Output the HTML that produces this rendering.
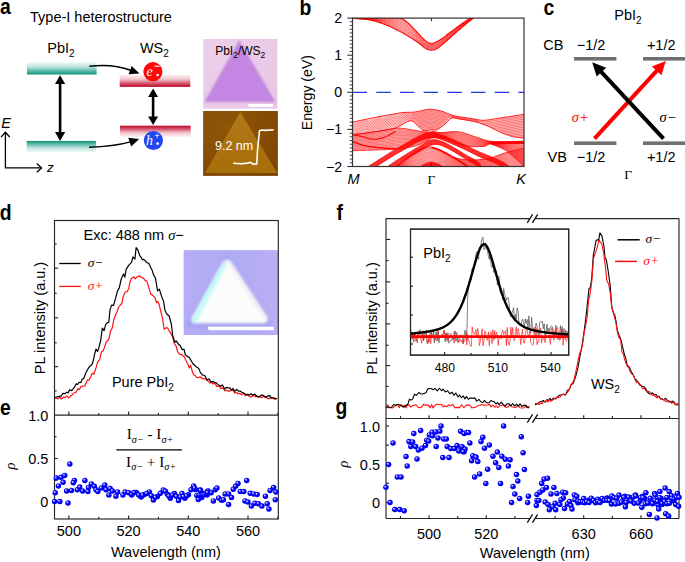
<!DOCTYPE html>
<html><head><meta charset="utf-8"><style>
html,body{margin:0;padding:0;background:#fff;width:685px;height:562px;overflow:hidden}
svg{display:block}
</style></head><body>
<svg width="685" height="562" viewBox="0 0 685 562">
<defs><linearGradient id="tealUp" x1="0" y1="0" x2="0" y2="1"><stop offset="0" stop-color="#eaf7f6"/><stop offset="0.35" stop-color="#c2e7e1"/><stop offset="0.75" stop-color="#4fb4a2"/><stop offset="1" stop-color="#0e8f76"/></linearGradient>
<linearGradient id="tealDn" x1="0" y1="1" x2="0" y2="0"><stop offset="0" stop-color="#eaf7f6"/><stop offset="0.35" stop-color="#c2e7e1"/><stop offset="0.75" stop-color="#4fb4a2"/><stop offset="1" stop-color="#0e8f76"/></linearGradient>
<linearGradient id="redUp" x1="0" y1="0" x2="0" y2="1"><stop offset="0" stop-color="#fdf1f3"/><stop offset="0.35" stop-color="#f2c8cf"/><stop offset="0.72" stop-color="#d4506a"/><stop offset="1" stop-color="#bb0628"/></linearGradient>
<linearGradient id="redDn" x1="0" y1="1" x2="0" y2="0"><stop offset="0" stop-color="#fdf1f3"/><stop offset="0.35" stop-color="#f2c8cf"/><stop offset="0.72" stop-color="#d4506a"/><stop offset="1" stop-color="#bb0628"/></linearGradient>
<filter id="blur1" x="-5%" y="-5%" width="110%" height="110%"><feGaussianBlur stdDeviation="0.7"/></filter>
<filter id="blurP" x="-5%" y="-5%" width="110%" height="110%"><feGaussianBlur stdDeviation="1.1"/></filter>
<filter id="blur2" x="-10%" y="-10%" width="120%" height="120%"><feGaussianBlur stdDeviation="1.6"/></filter>
<clipPath id="clipPink"><rect x="203.1" y="38.8" width="74.5" height="70"/></clipPath>
<clipPath id="clipAfm"><rect x="203.1" y="111" width="74.8" height="64.9"/></clipPath>
<linearGradient id="pinkBg" x1="0" y1="0" x2="1" y2="1"><stop offset="0" stop-color="#ecd0ea"/><stop offset="1" stop-color="#e6c6e4"/></linearGradient>
<radialGradient id="afmBg" cx="0.3" cy="0.3" r="0.9"><stop offset="0" stop-color="#8e5608"/><stop offset="0.6" stop-color="#864c05"/><stop offset="1" stop-color="#7c4403"/></radialGradient>
<linearGradient id="afmTri" x1="0" y1="0" x2="0" y2="1"><stop offset="0" stop-color="#b27814"/><stop offset="1" stop-color="#a66e0e"/></linearGradient>
<clipPath id="clipB"><rect x="352.5" y="18.1" width="171.5" height="148.4"/></clipPath>
<clipPath id="clipDin"><rect x="183.4" y="250.1" width="94.9" height="85.1"/></clipPath>
<linearGradient id="dinBg" x1="0" y1="0" x2="1" y2="0"><stop offset="0" stop-color="#b6aef5"/><stop offset="0.55" stop-color="#b0abf5"/><stop offset="1" stop-color="#bbaef4"/></linearGradient>
<filter id="blurTri" x="-10%" y="-10%" width="120%" height="120%"><feGaussianBlur stdDeviation="2.2"/></filter>
<filter id="blurT2" x="-20%" y="-20%" width="140%" height="140%"><feGaussianBlur stdDeviation="1.4"/></filter>
<radialGradient id="ball" cx="0.5" cy="0.5" r="0.55" fx="0.32" fy="0.3"><stop offset="0" stop-color="#f0f0ff"/><stop offset="0.25" stop-color="#8080ff"/><stop offset="0.5" stop-color="#0000ff"/><stop offset="1" stop-color="#0000e0"/></radialGradient>
<clipPath id="clipE"><rect x="51.5" y="415.1" width="229.8" height="103.9"/></clipPath></defs>
<rect width="685" height="562" fill="#fff"/>
<text x="0" y="0" font-size="21.5" font-weight="bold" font-family='"Liberation Sans", sans-serif' transform="translate(0 13.6) scale(0.9 1)">a</text>
<text x="30.05" y="22.2" font-size="14.5" text-anchor="start" font-weight="normal" font-style="normal" fill="#000" font-family='"Liberation Sans", sans-serif' >Type-I heterostructure</text>
<text x="47.3" y="52.6" font-size="14.5" text-anchor="start" font-weight="normal" font-style="normal" fill="#000" font-family='"Liberation Sans", sans-serif' >PbI<tspan font-size="10" dy="4.4">2</tspan></text>
<text x="139.95" y="52.9" font-size="14.5" text-anchor="start" font-weight="normal" font-style="normal" fill="#000" font-family='"Liberation Sans", sans-serif' >WS<tspan font-size="10" dy="4.4">2</tspan></text>
<rect x="27" y="62.4" width="69.6" height="12.1" fill="url(#tealUp)"/>
<rect x="26.7" y="140.9" width="69.2" height="10.9" fill="url(#tealDn)"/>
<rect x="119.7" y="74.9" width="70.6" height="12" fill="url(#redUp)"/>
<rect x="120" y="125.7" width="70.7" height="11.2" fill="url(#redDn)"/>
<line x1="60.1" y1="83.1" x2="60.1" y2="133.1" stroke="#000" stroke-width="2.6" />
<polygon points="60.1,75.3 65.2,84.1 55,84.1" fill="#000" />
<polygon points="60.1,140.9 55,132.1 65.2,132.1" fill="#000" />
<line x1="153.1" y1="96" x2="153.1" y2="117.4" stroke="#000" stroke-width="2.6" />
<polygon points="153.1,88.5 158.1,97 148.1,97" fill="#000" />
<polygon points="153.1,124.9 148.1,116.4 158.1,116.4" fill="#000" />
<path d="M89.3,66.3 Q113,63.5 130.5,70.2" stroke="#000" stroke-width="1.5" fill="none"/>
<polygon points="139.5,73.6 128.56,74.35 131.68,65.91" fill="#000" />
<path d="M89,147.2 Q114,146.5 130.5,141.9" stroke="#000" stroke-width="1.5" fill="none"/>
<polygon points="139.2,138.9 131.18,146.38 128.28,137.86" fill="#000" />
<circle cx="152.9" cy="71.7" r="9.6" fill="#ff0808"/>
<circle cx="153.4" cy="140.5" r="9.6" fill="#2446f0"/>
<text x="146.4" y="75.8" font-size="14" text-anchor="start" font-weight="normal" font-style="italic" fill="#fff" font-family='"Liberation Serif", serif' >e</text>
<line x1="154.6" y1="66.2" x2="159.6" y2="66.2" stroke="#fff" stroke-width="1.1" />
<circle cx="157.6" cy="75.0" r="1.3" fill="#fff"/>
<text x="146" y="145" font-size="14" text-anchor="start" font-weight="normal" font-style="italic" fill="#fff" font-family='"Liberation Serif", serif' >h</text>
<text x="154.2" y="139.2" font-size="9.5" text-anchor="start" font-weight="normal" font-style="normal" fill="#fff" font-family='"Liberation Sans", sans-serif' >+</text>
<circle cx="157.6" cy="143.6" r="1.3" fill="#fff"/>
<polyline points="5.4,132.3 5.4,167.9 41.6,167.9" stroke="#000" stroke-width="1.3" fill="none" stroke-linejoin="round" />
<polyline points="1.1,137 5.4,132.3 9.7,137" stroke="#000" stroke-width="1.3" fill="none" stroke-linejoin="round" />
<polyline points="36.8,163.6 41.6,167.9 36.8,172.2" stroke="#000" stroke-width="1.3" fill="none" stroke-linejoin="round" />
<text x="1.3" y="127.8" font-size="14.5" text-anchor="start" font-weight="normal" font-style="italic" fill="#000" font-family='"Liberation Sans", sans-serif' >E</text>
<text x="46.9" y="171.5" font-size="13.5" text-anchor="start" font-weight="normal" font-style="italic" fill="#000" font-family='"Liberation Sans", sans-serif' >z</text>
<g clip-path="url(#clipPink)"><rect x="203.1" y="38.8" width="74.5" height="70" fill="url(#pinkBg)"/><polygon points="239.4,40.3 204.3,101.9 275.5,101.9" fill="#c386e2" filter="url(#blurP)"/></g>
<rect x="248.4" y="104" width="24.6" height="2.9" fill="#fff"/>
<text x="215.2" y="54.9" font-size="12" text-anchor="start" font-weight="normal" font-style="normal" fill="#000" font-family='"Liberation Sans", sans-serif' >PbI<tspan font-size="8.5" dy="3">2</tspan><tspan dy="-3">/WS</tspan><tspan font-size="8.5" dy="3">2</tspan></text>
<g clip-path="url(#clipAfm)"><rect x="203.1" y="111" width="74.8" height="64.9" fill="url(#afmBg)"/><polygon points="240.3,112.1 205,173 277.3,173" fill="url(#afmTri)" filter="url(#blur1)"/></g>
<text x="215" y="149.9" font-size="12.5" text-anchor="start" font-weight="normal" font-style="normal" fill="#fff" font-family='"Liberation Sans", sans-serif' >9.2 nm</text>
<polyline points="233.2,163.2 241,163.7 248,163.1 250.5,162.3 253,164.1 256.8,163.9 257.5,150 259.5,130.8 262,130 266,130.4 273.8,129.7" stroke="#fff" stroke-width="1.6" fill="none" stroke-linejoin="round" />
<text x="0" y="0" font-size="21.5" font-weight="bold" font-family='"Liberation Sans", sans-serif' transform="translate(299.4 15) scale(0.9 1)">b</text>
<g clip-path="url(#clipB)">
<polygon points="352.5,18.1 353.85,18.1 355.2,18.09 356.55,18.07 357.9,18.05 359.25,18.03 360.6,18 361.95,17.97 363.3,17.93 364.65,17.89 366,17.86 367.35,17.82 368.7,17.78 370.05,17.74 371.4,17.7 372.75,17.66 374.1,17.63 375.45,17.59 376.8,17.56 378.15,17.54 379.5,17.52 380.85,17.5 382.2,17.49 383.55,17.48 384.9,17.48 386.25,17.49 387.6,17.51 388.95,17.53 390.3,17.57 391.65,17.61 393,17.66 394.35,17.73 395.7,17.8 397.05,17.89 398.4,17.99 399.75,18.1 401.1,18.4 402.45,18.98 403.8,19.79 405.15,20.75 406.5,21.8 407.85,22.88 409.2,24.01 410.55,25.28 411.9,26.65 413.25,28.08 414.6,29.52 415.95,30.95 417.3,32.39 418.65,33.9 420,35.4 421.35,36.85 422.7,38.19 424.05,39.47 425.4,40.65 426.75,41.64 428.1,42.4 429.45,42.95 430.8,43.25 432.15,43.27 433.5,43 434.85,42.51 436.2,41.91 437.55,41.23 438.9,40.47 440.25,39.65 441.6,38.77 442.95,37.84 444.3,36.86 445.65,35.84 447,34.8 448.35,33.76 449.7,32.73 451.05,31.71 452.4,30.68 453.75,29.66 455.1,28.63 456.45,27.61 457.8,26.6 459.15,25.61 460.5,24.64 461.85,23.7 463.2,22.77 464.55,21.85 465.9,20.94 467.25,20.03 468.6,19.12 469.95,18.21 471.3,17.5 472.65,17.5 474,17.5 474,17.5 472.65,18.61 471.3,19.71 469.95,20.81 468.6,21.9 467.25,23 465.9,24.11 464.55,25.21 463.2,26.32 461.85,27.45 460.5,28.58 459.15,29.72 457.8,30.89 456.45,32.07 455.1,33.27 453.75,34.47 452.4,35.67 451.05,36.87 449.7,38.07 448.35,39.27 447,40.49 445.65,41.7 444.3,42.89 442.95,44.04 441.6,45.2 440.25,46.36 438.9,47.44 437.55,48.38 436.2,49.11 434.85,49.68 433.5,50.07 432.15,50.28 430.8,50.27 429.45,50.06 428.1,49.66 426.75,49.09 425.4,48.34 424.05,47.36 422.7,46.23 421.35,45.07 420,44 418.65,43.02 417.3,42.06 415.95,41.11 414.6,40.19 413.25,39.3 411.9,38.44 410.55,37.6 409.2,36.77 407.85,35.94 406.5,35.14 405.15,34.34 403.8,33.57 402.45,32.81 401.1,32.08 399.75,31.37 398.4,30.67 397.05,29.99 395.7,29.31 394.35,28.64 393,27.98 391.65,27.35 390.3,26.73 388.95,26.12 387.6,25.55 386.25,24.99 384.9,24.46 383.55,23.95 382.2,23.46 380.85,22.98 379.5,22.53 378.15,22.09 376.8,21.68 375.45,21.29 374.1,20.93 372.75,20.59 371.4,20.28 370.05,20.01 368.7,19.77 367.35,19.56 366,19.39 364.65,19.24 363.3,19.11 361.95,19 360.6,18.9 359.25,18.81 357.9,18.72 356.55,18.63 355.2,18.53 353.85,18.42 352.5,18.3" fill="#ff0000" fill-opacity="0.1"/>
<polyline points="352.5,18.12 353.85,18.13 355.2,18.13 356.55,18.13 357.9,18.12 359.25,18.1 360.6,18.09 361.95,18.07 363.3,18.05 364.65,18.03 366,18.01 367.35,17.99 368.7,17.98 370.05,17.97 371.4,17.96 372.75,17.95 374.1,17.96 375.45,17.96 376.8,17.98 378.15,17.99 379.5,18.02 380.85,18.05 382.2,18.09 383.55,18.13 384.9,18.18 386.25,18.24 387.6,18.31 388.95,18.39 390.3,18.48 391.65,18.58 393,18.7 394.35,18.82 395.7,18.95 397.05,19.1 398.4,19.26 399.75,19.43 401.1,19.77 402.45,20.37 403.8,21.17 405.15,22.11 406.5,23.13 407.85,24.19 409.2,25.29 410.55,26.51 411.9,27.83 413.25,29.2 414.6,30.59 415.95,31.96 417.3,33.36 418.65,34.81 420,36.26 421.35,37.67 422.7,38.99 424.05,40.26 425.4,41.42 426.75,42.39 428.1,43.13 429.45,43.66 430.8,43.95 432.15,43.97 433.5,43.7 434.85,43.22 436.2,42.63 437.55,41.95 438.9,41.17 440.25,40.32 441.6,39.41 442.95,38.46 444.3,37.46 445.65,36.43 447,35.37 448.35,34.31 449.7,33.26 451.05,32.23 452.4,31.18 453.75,30.14 455.1,29.09 456.45,28.06 457.8,27.03 459.15,26.02 460.5,25.04 461.85,24.07 463.2,23.12 464.55,22.18 465.9,21.25 467.25,20.33 468.6,19.4 469.95,18.47 471.3,17.72 472.65,17.61 474,17.5" fill="none" stroke="#ff0000" stroke-opacity="0.85" stroke-width="0.6"/>
<polyline points="352.5,18.14 353.85,18.16 355.2,18.18 356.55,18.18 357.9,18.18 359.25,18.18 360.6,18.18 361.95,18.17 363.3,18.17 364.65,18.16 366,18.16 367.35,18.17 368.7,18.18 370.05,18.19 371.4,18.22 372.75,18.25 374.1,18.29 375.45,18.33 376.8,18.39 378.15,18.45 379.5,18.52 380.85,18.6 382.2,18.68 383.55,18.78 384.9,18.88 386.25,18.99 387.6,19.12 388.95,19.25 390.3,19.4 391.65,19.56 393,19.73 394.35,19.91 395.7,20.1 397.05,20.31 398.4,20.53 399.75,20.76 401.1,21.14 402.45,21.75 403.8,22.54 405.15,23.47 406.5,24.47 407.85,25.49 409.2,26.56 410.55,27.75 411.9,29.01 413.25,30.32 414.6,31.66 415.95,32.98 417.3,34.33 418.65,35.72 420,37.12 421.35,38.49 422.7,39.79 424.05,41.05 425.4,42.19 426.75,43.13 428.1,43.86 429.45,44.37 430.8,44.65 432.15,44.67 433.5,44.41 434.85,43.94 436.2,43.35 437.55,42.66 438.9,41.87 440.25,40.99 441.6,40.06 442.95,39.08 444.3,38.06 445.65,37.01 447,35.94 448.35,34.86 449.7,33.79 451.05,32.74 452.4,31.68 453.75,30.62 455.1,29.56 456.45,28.5 457.8,27.46 459.15,26.43 460.5,25.43 461.85,24.45 463.2,23.48 464.55,22.52 465.9,21.57 467.25,20.62 468.6,19.68 469.95,18.73 471.3,17.94 472.65,17.72 474,17.5" fill="none" stroke="#ff0000" stroke-opacity="0.85" stroke-width="0.6"/>
<polyline points="352.5,18.16 353.85,18.19 355.2,18.22 356.55,18.24 357.9,18.25 359.25,18.26 360.6,18.27 361.95,18.28 363.3,18.29 364.65,18.3 366,18.32 367.35,18.34 368.7,18.38 370.05,18.42 371.4,18.47 372.75,18.54 374.1,18.62 375.45,18.7 376.8,18.8 378.15,18.9 379.5,19.02 380.85,19.14 382.2,19.28 383.55,19.42 384.9,19.58 386.25,19.74 387.6,19.92 388.95,20.11 390.3,20.32 391.65,20.53 393,20.76 394.35,21 395.7,21.25 397.05,21.52 398.4,21.8 399.75,22.08 401.1,22.5 402.45,23.13 403.8,23.92 405.15,24.83 406.5,25.8 407.85,26.8 409.2,27.84 410.55,28.98 411.9,30.19 413.25,31.44 414.6,32.72 415.95,34 417.3,35.29 418.65,36.64 420,37.98 421.35,39.31 422.7,40.6 424.05,41.84 425.4,42.96 426.75,43.88 428.1,44.58 429.45,45.08 430.8,45.35 432.15,45.37 433.5,45.12 434.85,44.66 436.2,44.07 437.55,43.38 438.9,42.57 440.25,41.66 441.6,40.7 442.95,39.7 444.3,38.67 445.65,37.6 447,36.51 448.35,35.41 449.7,34.33 451.05,33.26 452.4,32.18 453.75,31.1 455.1,30.02 456.45,28.95 457.8,27.89 459.15,26.85 460.5,25.82 461.85,24.82 463.2,23.83 464.55,22.86 465.9,21.89 467.25,20.92 468.6,19.96 469.95,18.99 471.3,18.16 472.65,17.83 474,17.5" fill="none" stroke="#ff0000" stroke-opacity="0.85" stroke-width="0.6"/>
<polyline points="352.5,18.18 353.85,18.23 355.2,18.26 356.55,18.29 357.9,18.32 359.25,18.34 360.6,18.36 361.95,18.38 363.3,18.4 364.65,18.43 366,18.47 367.35,18.52 368.7,18.57 370.05,18.65 371.4,18.73 372.75,18.83 374.1,18.95 375.45,19.07 376.8,19.21 378.15,19.36 379.5,19.52 380.85,19.69 382.2,19.88 383.55,20.07 384.9,20.28 386.25,20.49 387.6,20.72 388.95,20.97 390.3,21.23 391.65,21.51 393,21.79 394.35,22.09 395.7,22.41 397.05,22.73 398.4,23.06 399.75,23.41 401.1,23.87 402.45,24.51 403.8,25.3 405.15,26.19 406.5,27.13 407.85,28.11 409.2,29.11 410.55,30.21 411.9,31.37 413.25,32.57 414.6,33.79 415.95,35.01 417.3,36.26 418.65,37.55 420,38.84 421.35,40.13 422.7,41.4 424.05,42.63 425.4,43.73 426.75,44.62 428.1,45.31 429.45,45.79 430.8,46.06 432.15,46.07 433.5,45.83 434.85,45.38 436.2,44.79 437.55,44.09 438.9,43.26 440.25,42.33 441.6,41.34 442.95,40.32 444.3,39.27 445.65,38.18 447,37.08 448.35,35.96 449.7,34.86 451.05,33.77 452.4,32.68 453.75,31.58 455.1,30.48 456.45,29.39 457.8,28.32 459.15,27.26 460.5,26.22 461.85,25.2 463.2,24.19 464.55,23.19 465.9,22.2 467.25,21.22 468.6,20.24 469.95,19.25 471.3,18.38 472.65,17.94 474,17.5" fill="none" stroke="#ff0000" stroke-opacity="0.85" stroke-width="0.6"/>
<polyline points="352.5,18.2 353.85,18.26 355.2,18.31 356.55,18.35 357.9,18.38 359.25,18.42 360.6,18.45 361.95,18.48 363.3,18.52 364.65,18.57 366,18.62 367.35,18.69 368.7,18.77 370.05,18.87 371.4,18.99 372.75,19.13 374.1,19.28 375.45,19.44 376.8,19.62 378.15,19.81 379.5,20.02 380.85,20.24 382.2,20.47 383.55,20.72 384.9,20.97 386.25,21.24 387.6,21.53 388.95,21.83 390.3,22.15 391.65,22.48 393,22.82 394.35,23.18 395.7,23.56 397.05,23.94 398.4,24.33 399.75,24.74 401.1,25.24 402.45,25.9 403.8,26.68 405.15,27.55 406.5,28.47 407.85,29.41 409.2,30.39 410.55,31.44 411.9,32.54 413.25,33.69 414.6,34.86 415.95,36.03 417.3,37.23 418.65,38.46 420,39.7 421.35,40.96 422.7,42.21 424.05,43.42 425.4,44.5 426.75,45.37 428.1,46.03 429.45,46.5 430.8,46.76 432.15,46.77 433.5,46.54 434.85,46.09 436.2,45.51 437.55,44.81 438.9,43.96 440.25,43 441.6,41.99 442.95,40.94 444.3,39.87 445.65,38.77 447,37.64 448.35,36.51 449.7,35.4 451.05,34.29 452.4,33.18 453.75,32.06 455.1,30.95 456.45,29.84 457.8,28.75 459.15,27.67 460.5,26.61 461.85,25.57 463.2,24.55 464.55,23.53 465.9,22.52 467.25,21.52 468.6,20.51 469.95,19.51 471.3,18.6 472.65,18.05 474,17.5" fill="none" stroke="#ff0000" stroke-opacity="0.85" stroke-width="0.6"/>
<polyline points="352.5,18.22 353.85,18.29 355.2,18.35 356.55,18.4 357.9,18.45 359.25,18.49 360.6,18.54 361.95,18.59 363.3,18.64 364.65,18.7 366,18.78 367.35,18.87 368.7,18.97 370.05,19.1 371.4,19.25 372.75,19.42 374.1,19.61 375.45,19.81 376.8,20.03 378.15,20.27 379.5,20.52 380.85,20.79 382.2,21.07 383.55,21.36 384.9,21.67 386.25,21.99 387.6,22.33 388.95,22.69 390.3,23.06 391.65,23.45 393,23.86 394.35,24.27 395.7,24.71 397.05,25.15 398.4,25.6 399.75,26.06 401.1,26.61 402.45,27.28 403.8,28.06 405.15,28.9 406.5,29.8 407.85,30.72 409.2,31.66 410.55,32.67 411.9,33.72 413.25,34.81 414.6,35.92 415.95,37.05 417.3,38.19 418.65,39.37 420,40.56 421.35,41.78 422.7,43.01 424.05,44.2 425.4,45.27 426.75,46.11 428.1,46.76 429.45,47.22 430.8,47.46 432.15,47.47 433.5,47.24 434.85,46.81 436.2,46.23 437.55,45.52 438.9,44.66 440.25,43.68 441.6,42.63 442.95,41.56 444.3,40.48 445.65,39.36 447,38.21 448.35,37.07 449.7,35.93 451.05,34.81 452.4,33.68 453.75,32.54 455.1,31.41 456.45,30.29 457.8,29.17 459.15,28.08 460.5,27 461.85,25.95 463.2,24.9 464.55,23.87 465.9,22.84 467.25,21.81 468.6,20.79 469.95,19.77 471.3,18.82 472.65,18.16 474,17.5" fill="none" stroke="#ff0000" stroke-opacity="0.85" stroke-width="0.6"/>
<polyline points="352.5,18.24 353.85,18.32 355.2,18.4 356.55,18.46 357.9,18.52 359.25,18.57 360.6,18.63 361.95,18.69 363.3,18.76 364.65,18.84 366,18.93 367.35,19.04 368.7,19.17 370.05,19.33 371.4,19.51 372.75,19.71 374.1,19.94 375.45,20.18 376.8,20.44 378.15,20.73 379.5,21.02 380.85,21.34 382.2,21.67 383.55,22.01 384.9,22.37 386.25,22.74 387.6,23.13 388.95,23.55 390.3,23.98 391.65,24.43 393,24.89 394.35,25.37 395.7,25.86 397.05,26.36 398.4,26.87 399.75,27.39 401.1,27.98 402.45,28.66 403.8,29.43 405.15,30.26 406.5,31.14 407.85,32.03 409.2,32.94 410.55,33.9 411.9,34.9 413.25,35.93 414.6,36.99 415.95,38.06 417.3,39.16 418.65,40.28 420,41.42 421.35,42.6 422.7,43.82 424.05,44.99 425.4,46.03 426.75,46.85 428.1,47.48 429.45,47.93 430.8,48.16 432.15,48.17 433.5,47.95 434.85,47.53 436.2,46.95 437.55,46.23 438.9,45.35 440.25,44.35 441.6,43.27 442.95,42.18 444.3,41.08 445.65,39.94 447,38.78 448.35,37.62 449.7,36.46 451.05,35.32 452.4,34.17 453.75,33.02 455.1,31.87 456.45,30.73 457.8,29.6 459.15,28.49 460.5,27.4 461.85,26.32 463.2,25.26 464.55,24.2 465.9,23.15 467.25,22.11 468.6,21.07 469.95,20.03 471.3,19.05 472.65,18.27 474,17.5" fill="none" stroke="#ff0000" stroke-opacity="0.85" stroke-width="0.6"/>
<polyline points="352.5,18.26 353.85,18.36 355.2,18.44 356.55,18.52 357.9,18.58 359.25,18.65 360.6,18.72 361.95,18.79 363.3,18.87 364.65,18.97 366,19.08 367.35,19.21 368.7,19.37 370.05,19.56 371.4,19.77 372.75,20 374.1,20.27 375.45,20.55 376.8,20.85 378.15,21.18 379.5,21.52 380.85,21.89 382.2,22.27 383.55,22.66 384.9,23.07 386.25,23.49 387.6,23.94 388.95,24.41 390.3,24.89 391.65,25.4 393,25.92 394.35,26.46 395.7,27.01 397.05,27.57 398.4,28.14 399.75,28.72 401.1,29.34 402.45,30.05 403.8,30.81 405.15,31.62 406.5,32.47 407.85,33.33 409.2,34.22 410.55,35.13 411.9,36.08 413.25,37.05 414.6,38.06 415.95,39.08 417.3,40.12 418.65,41.2 420,42.28 421.35,43.42 422.7,44.62 424.05,45.78 425.4,46.8 426.75,47.6 428.1,48.21 429.45,48.64 430.8,48.87 432.15,48.88 433.5,48.66 434.85,48.24 436.2,47.67 437.55,46.95 438.9,46.05 440.25,45.02 441.6,43.91 442.95,42.8 444.3,41.68 445.65,40.53 447,39.35 448.35,38.17 449.7,37 451.05,35.84 452.4,34.67 453.75,33.5 455.1,32.34 456.45,31.18 457.8,30.03 459.15,28.9 460.5,27.79 461.85,26.7 463.2,25.61 464.55,24.54 465.9,23.47 467.25,22.41 468.6,21.35 469.95,20.29 471.3,19.27 472.65,18.38 474,17.5" fill="none" stroke="#ff0000" stroke-opacity="0.85" stroke-width="0.6"/>
<polyline points="352.5,18.28 353.85,18.39 355.2,18.49 356.55,18.57 357.9,18.65 359.25,18.73 360.6,18.81 361.95,18.9 363.3,18.99 364.65,19.1 366,19.24 367.35,19.39 368.7,19.57 370.05,19.78 371.4,20.03 372.75,20.3 374.1,20.6 375.45,20.92 376.8,21.27 378.15,21.64 379.5,22.03 380.85,22.43 382.2,22.86 383.55,23.31 384.9,23.76 386.25,24.24 387.6,24.74 388.95,25.27 390.3,25.81 391.65,26.37 393,26.95 394.35,27.55 395.7,28.16 397.05,28.78 398.4,29.41 399.75,30.04 401.1,30.71 402.45,31.43 403.8,32.19 405.15,32.98 406.5,33.8 407.85,34.64 409.2,35.49 410.55,36.37 411.9,37.26 413.25,38.18 414.6,39.12 415.95,40.1 417.3,41.09 418.65,42.11 420,43.14 421.35,44.25 422.7,45.42 424.05,46.57 425.4,47.57 426.75,48.34 428.1,48.94 429.45,49.35 430.8,49.57 432.15,49.58 433.5,49.37 434.85,48.96 436.2,48.39 437.55,47.66 438.9,46.75 440.25,45.69 441.6,44.56 442.95,43.42 444.3,42.29 445.65,41.11 447,39.92 448.35,38.72 449.7,37.53 451.05,36.35 452.4,35.17 453.75,33.99 455.1,32.8 456.45,31.63 457.8,30.46 459.15,29.31 460.5,28.18 461.85,27.07 463.2,25.97 464.55,24.88 465.9,23.79 467.25,22.71 468.6,21.63 469.95,20.55 471.3,19.49 472.65,18.5 474,17.5" fill="none" stroke="#ff0000" stroke-opacity="0.85" stroke-width="0.6"/>
<polyline points="352.5,18.1 353.85,18.1 355.2,18.09 356.55,18.07 357.9,18.05 359.25,18.03 360.6,18 361.95,17.97 363.3,17.93 364.65,17.89 366,17.86 367.35,17.82 368.7,17.78 370.05,17.74 371.4,17.7 372.75,17.66 374.1,17.63 375.45,17.59 376.8,17.56 378.15,17.54 379.5,17.52 380.85,17.5 382.2,17.49 383.55,17.48 384.9,17.48 386.25,17.49 387.6,17.51 388.95,17.53 390.3,17.57 391.65,17.61 393,17.66 394.35,17.73 395.7,17.8 397.05,17.89 398.4,17.99 399.75,18.1 401.1,18.4 402.45,18.98 403.8,19.79 405.15,20.75 406.5,21.8 407.85,22.88 409.2,24.01 410.55,25.28 411.9,26.65 413.25,28.08 414.6,29.52 415.95,30.95 417.3,32.39 418.65,33.9 420,35.4 421.35,36.85 422.7,38.19 424.05,39.47 425.4,40.65 426.75,41.64 428.1,42.4 429.45,42.95 430.8,43.25 432.15,43.27 433.5,43 434.85,42.51 436.2,41.91 437.55,41.23 438.9,40.47 440.25,39.65 441.6,38.77 442.95,37.84 444.3,36.86 445.65,35.84 447,34.8 448.35,33.76 449.7,32.73 451.05,31.71 452.4,30.68 453.75,29.66 455.1,28.63 456.45,27.61 457.8,26.6 459.15,25.61 460.5,24.64 461.85,23.7 463.2,22.77 464.55,21.85 465.9,20.94 467.25,20.03 468.6,19.12 469.95,18.21 471.3,17.5 472.65,17.5 474,17.5" fill="none" stroke="#ff0000" stroke-width="1.1"/>
<polyline points="352.5,18.3 353.85,18.42 355.2,18.53 356.55,18.63 357.9,18.72 359.25,18.81 360.6,18.9 361.95,19 363.3,19.11 364.65,19.24 366,19.39 367.35,19.56 368.7,19.77 370.05,20.01 371.4,20.28 372.75,20.59 374.1,20.93 375.45,21.29 376.8,21.68 378.15,22.09 379.5,22.53 380.85,22.98 382.2,23.46 383.55,23.95 384.9,24.46 386.25,24.99 387.6,25.55 388.95,26.12 390.3,26.73 391.65,27.35 393,27.98 394.35,28.64 395.7,29.31 397.05,29.99 398.4,30.67 399.75,31.37 401.1,32.08 402.45,32.81 403.8,33.57 405.15,34.34 406.5,35.14 407.85,35.94 409.2,36.77 410.55,37.6 411.9,38.44 413.25,39.3 414.6,40.19 415.95,41.11 417.3,42.06 418.65,43.02 420,44 421.35,45.07 422.7,46.23 424.05,47.36 425.4,48.34 426.75,49.09 428.1,49.66 429.45,50.06 430.8,50.27 432.15,50.28 433.5,50.07 434.85,49.68 436.2,49.11 437.55,48.38 438.9,47.44 440.25,46.36 441.6,45.2 442.95,44.04 444.3,42.89 445.65,41.7 447,40.49 448.35,39.27 449.7,38.07 451.05,36.87 452.4,35.67 453.75,34.47 455.1,33.27 456.45,32.07 457.8,30.89 459.15,29.72 460.5,28.58 461.85,27.45 463.2,26.32 464.55,25.21 465.9,24.11 467.25,23 468.6,21.9 469.95,20.81 471.3,19.71 472.65,18.61 474,17.5" fill="none" stroke="#ff0000" stroke-width="1.1"/>
<polygon points="352.5,122.2 354.41,121.79 356.31,121.37 358.22,120.95 360.12,120.53 362.03,120.11 363.93,119.69 365.84,119.28 367.74,118.88 369.65,118.48 371.56,118.09 373.46,117.71 375.37,117.34 377.27,116.97 379.18,116.61 381.08,116.26 382.99,115.91 384.89,115.56 386.8,115.22 388.71,114.88 390.61,114.54 392.52,114.21 394.42,113.87 396.33,113.53 398.23,113.21 400.14,112.91 402.04,112.65 403.95,112.45 405.86,112.34 407.76,112.3 409.67,112.28 411.57,112.24 413.48,112.13 415.38,111.92 417.29,111.6 419.19,111.21 421.1,110.78 423.01,110.34 424.91,109.94 426.82,109.59 428.72,109.3 430.63,109.16 432.53,109.3 434.44,109.55 436.34,109.88 438.25,110.29 440.16,110.77 442.06,111.33 443.97,112.01 445.87,112.76 447.78,113.54 449.68,114.29 451.59,114.96 453.49,115.53 455.4,116.01 457.31,116.41 459.21,116.74 461.12,117.05 463.02,117.34 464.93,117.61 466.83,117.88 468.74,118.14 470.64,118.4 472.55,118.68 474.46,119 476.36,119.39 478.27,119.77 480.17,120.09 482.08,120.28 483.98,120.28 485.89,120.16 487.79,119.97 489.7,119.71 491.61,119.42 493.51,119.1 495.42,118.76 497.32,118.43 499.23,118.12 501.13,117.83 503.04,117.55 504.94,117.26 506.85,116.97 508.76,116.67 510.66,116.38 512.57,116.08 514.47,115.78 516.38,115.49 518.28,115.19 520.19,114.89 522.09,114.59 524,114.3 524,138.1 522.09,137.85 520.19,137.64 518.28,137.43 516.38,137.19 514.47,136.9 512.57,136.51 510.66,136.02 508.76,135.44 506.85,134.79 504.94,134.09 503.04,133.33 501.13,132.54 499.23,131.7 497.32,130.76 495.42,129.78 493.51,128.79 491.61,127.83 489.7,126.93 487.79,126.12 485.89,125.34 483.98,124.61 482.08,123.9 480.17,123.23 478.27,122.59 476.36,122.04 474.46,121.63 472.55,121.27 470.64,120.91 468.74,120.56 466.83,120.21 464.93,119.87 463.02,119.54 461.12,119.22 459.21,118.92 457.31,118.61 455.4,118.14 453.49,117.79 451.59,118.03 449.68,119.26 447.78,121.21 445.87,123.23 443.97,124.82 442.06,126.32 440.16,127.74 438.25,128.97 436.34,129.92 434.44,130.05 432.53,129.66 430.63,129.72 428.72,130.22 426.82,130.75 424.91,130.95 423.01,130.42 421.1,128.91 419.19,127.04 417.29,125.41 415.38,123.58 413.48,121.86 411.57,120.86 409.67,120.97 407.76,121.56 405.86,122.44 403.95,123.5 402.04,124.66 400.14,125.8 398.23,126.84 396.33,127.66 394.42,128.23 392.52,128.73 390.61,129.16 388.71,129.55 386.8,129.9 384.89,130.22 382.99,130.52 381.08,130.8 379.18,131.07 377.27,131.33 375.37,131.61 373.46,131.9 371.56,132.2 369.65,132.48 367.74,132.76 365.84,133.03 363.93,133.29 362.03,133.54 360.12,133.79 358.22,134.04 356.31,134.29 354.41,134.54 352.5,134.8" fill="#ff0000" fill-opacity="0.24"/>
<polyline points="407.76,112.52 409.67,113.99 411.57,115.43" fill="none" stroke="#ff0000" stroke-opacity="0.75" stroke-width="0.55"/>
<polyline points="405.86,112.85 407.76,114.37 409.67,115.73 411.57,117.15" fill="none" stroke="#ff0000" stroke-opacity="0.75" stroke-width="0.55"/>
<polyline points="403.95,113.3 405.86,114.87 407.76,116.22 409.67,117.47 411.57,118.88" fill="none" stroke="#ff0000" stroke-opacity="0.75" stroke-width="0.55"/>
<polyline points="402.04,113.9 403.95,115.51 405.86,116.89 407.76,118.07 409.67,119.21 411.57,120.6" fill="none" stroke="#ff0000" stroke-opacity="0.75" stroke-width="0.55"/>
<polyline points="400.14,114.6 402.04,116.3 403.95,117.72 405.86,118.91 407.76,119.93 409.67,120.95" fill="none" stroke="#ff0000" stroke-opacity="0.75" stroke-width="0.55"/>
<polyline points="398.23,115.35 400.14,117.17 402.04,118.7 403.95,119.93 405.86,120.93" fill="none" stroke="#ff0000" stroke-opacity="0.75" stroke-width="0.55"/>
<polyline points="394.42,114.03 396.33,116.13 398.23,118.08 400.14,119.75 402.04,121.1 403.95,122.15" fill="none" stroke="#ff0000" stroke-opacity="0.75" stroke-width="0.55"/>
<polyline points="392.52,114.76 394.42,116.9 396.33,118.96 398.23,120.81 400.14,122.33 402.04,123.5" fill="none" stroke="#ff0000" stroke-opacity="0.75" stroke-width="0.55"/>
<polyline points="390.61,115.49 392.52,117.66 394.42,119.77 396.33,121.79 398.23,123.53 400.14,124.91" fill="none" stroke="#ff0000" stroke-opacity="0.75" stroke-width="0.55"/>
<polyline points="388.71,116.22 390.61,118.41 392.52,120.57 394.42,122.65 396.33,124.61 398.23,126.26" fill="none" stroke="#ff0000" stroke-opacity="0.75" stroke-width="0.55"/>
<polyline points="386.8,116.95 388.71,119.16 390.61,121.34 392.52,123.47 394.42,125.52 396.33,127.44" fill="none" stroke="#ff0000" stroke-opacity="0.75" stroke-width="0.55"/>
<polyline points="384.89,117.69 386.8,119.89 388.71,122.09 390.61,124.26 392.52,126.37" fill="none" stroke="#ff0000" stroke-opacity="0.75" stroke-width="0.55"/>
<polyline points="382.99,118.42 384.89,120.62 386.8,122.83 388.71,125.03 390.61,127.18" fill="none" stroke="#ff0000" stroke-opacity="0.75" stroke-width="0.55"/>
<polyline points="379.18,116.98 381.08,119.14 382.99,121.34 384.89,123.55 386.8,125.77 388.71,127.96" fill="none" stroke="#ff0000" stroke-opacity="0.75" stroke-width="0.55"/>
<polyline points="377.27,117.72 379.18,119.87 381.08,122.05 382.99,124.26 384.89,126.48 386.8,128.7" fill="none" stroke="#ff0000" stroke-opacity="0.75" stroke-width="0.55"/>
<polyline points="375.37,118.46 377.27,120.59 379.18,122.76 381.08,124.96 382.99,127.18 384.89,129.42" fill="none" stroke="#ff0000" stroke-opacity="0.75" stroke-width="0.55"/>
<polyline points="373.46,119.21 375.37,121.32 377.27,123.46 379.18,125.65 381.08,127.87 382.99,130.11" fill="none" stroke="#ff0000" stroke-opacity="0.75" stroke-width="0.55"/>
<polyline points="371.56,119.96 373.46,122.04 375.37,124.17 377.27,126.34 379.18,128.54 381.08,130.77" fill="none" stroke="#ff0000" stroke-opacity="0.75" stroke-width="0.55"/>
<polyline points="369.65,120.71 371.56,122.78 373.46,124.88 375.37,127.02 377.27,129.21" fill="none" stroke="#ff0000" stroke-opacity="0.75" stroke-width="0.55"/>
<polyline points="365.84,119.46 367.74,121.46 369.65,123.51 371.56,125.6 373.46,127.72 375.37,129.88" fill="none" stroke="#ff0000" stroke-opacity="0.75" stroke-width="0.55"/>
<polyline points="363.93,120.23 365.84,122.21 367.74,124.23 369.65,126.31 371.56,128.42 373.46,130.56" fill="none" stroke="#ff0000" stroke-opacity="0.75" stroke-width="0.55"/>
<polyline points="362.03,121 363.93,122.95 365.84,124.95 367.74,127.01 369.65,129.11 371.56,131.24" fill="none" stroke="#ff0000" stroke-opacity="0.75" stroke-width="0.55"/>
<polyline points="360.12,121.76 362.03,123.69 363.93,125.67 365.84,127.7 367.74,129.79 369.65,131.91" fill="none" stroke="#ff0000" stroke-opacity="0.75" stroke-width="0.55"/>
<polyline points="358.22,122.52 360.12,124.41 362.03,126.37 363.93,128.38 365.84,130.45 367.74,132.56" fill="none" stroke="#ff0000" stroke-opacity="0.75" stroke-width="0.55"/>
<polyline points="356.31,123.26 358.22,125.13 360.12,127.07 362.03,129.06 363.93,131.1" fill="none" stroke="#ff0000" stroke-opacity="0.75" stroke-width="0.55"/>
<polyline points="352.5,122.2 354.41,124 356.31,125.85 358.22,127.75 360.12,129.72 362.03,131.74" fill="none" stroke="#ff0000" stroke-opacity="0.75" stroke-width="0.55"/>
<polyline points="352.5,124.72 354.41,126.55 356.31,128.43 358.22,130.37 360.12,132.37" fill="none" stroke="#ff0000" stroke-opacity="0.75" stroke-width="0.55"/>
<polyline points="352.5,127.24 354.41,129.1 356.31,131.01 358.22,132.99" fill="none" stroke="#ff0000" stroke-opacity="0.75" stroke-width="0.55"/>
<polyline points="352.5,129.76 354.41,131.65 356.31,133.6" fill="none" stroke="#ff0000" stroke-opacity="0.75" stroke-width="0.55"/>
<polyline points="352.5,132.28 354.41,134.2" fill="none" stroke="#ff0000" stroke-opacity="0.75" stroke-width="0.55"/>
<polyline points="411.57,113.54 413.48,113.43 415.38,113.22 417.29,112.9 419.19,112.51 421.1,112.08 423.01,111.64 424.91,111.24 426.82,110.89 428.72,110.6 430.63,110.46 432.53,110.6 434.44,110.85 436.34,111.18 438.25,111.59 440.16,112.07 442.06,112.63 443.97,113.31 445.87,114.06 447.78,114.84 449.68,115.59 451.59,116.26 453.49,116.83" fill="none" stroke="#ff0000" stroke-opacity="0.75" stroke-width="0.55"/>
<polyline points="411.57,114.84 413.48,114.73 415.38,114.52 417.29,114.2 419.19,113.81 421.1,113.38 423.01,112.94 424.91,112.54 426.82,112.19 428.72,111.9 430.63,111.76 432.53,111.9 434.44,112.15 436.34,112.48 438.25,112.89 440.16,113.37 442.06,113.93 443.97,114.61 445.87,115.36 447.78,116.14 449.68,116.89 451.59,117.56" fill="none" stroke="#ff0000" stroke-opacity="0.75" stroke-width="0.55"/>
<polyline points="411.57,116.14 413.48,116.03 415.38,115.82 417.29,115.5 419.19,115.11 421.1,114.68 423.01,114.24 424.91,113.84 426.82,113.49 428.72,113.2 430.63,113.06 432.53,113.2 434.44,113.45 436.34,113.78 438.25,114.19 440.16,114.67 442.06,115.23 443.97,115.91 445.87,116.66 447.78,117.44 449.68,118.19" fill="none" stroke="#ff0000" stroke-opacity="0.75" stroke-width="0.55"/>
<polyline points="411.57,117.44 413.48,117.33 415.38,117.12 417.29,116.8 419.19,116.41 421.1,115.98 423.01,115.54 424.91,115.14 426.82,114.79 428.72,114.5 430.63,114.36 432.53,114.5 434.44,114.75 436.34,115.08 438.25,115.49 440.16,115.97 442.06,116.53 443.97,117.21 445.87,117.96 447.78,118.74" fill="none" stroke="#ff0000" stroke-opacity="0.75" stroke-width="0.55"/>
<polyline points="411.57,118.74 413.48,118.63 415.38,118.42 417.29,118.1 419.19,117.71 421.1,117.28 423.01,116.84 424.91,116.44 426.82,116.09 428.72,115.8 430.63,115.66 432.53,115.8 434.44,116.05 436.34,116.38 438.25,116.79 440.16,117.27 442.06,117.83 443.97,118.51 445.87,119.26 447.78,120.04" fill="none" stroke="#ff0000" stroke-opacity="0.75" stroke-width="0.55"/>
<polyline points="411.57,120.04 413.48,119.93 415.38,119.72 417.29,119.4 419.19,119.01 421.1,118.58 423.01,118.14 424.91,117.74 426.82,117.39 428.72,117.1 430.63,116.96 432.53,117.1 434.44,117.35 436.34,117.68 438.25,118.09 440.16,118.57 442.06,119.13 443.97,119.81 445.87,120.56" fill="none" stroke="#ff0000" stroke-opacity="0.75" stroke-width="0.55"/>
<polyline points="413.48,121.23 415.38,121.02 417.29,120.7 419.19,120.31 421.1,119.88 423.01,119.44 424.91,119.04 426.82,118.69 428.72,118.4 430.63,118.26 432.53,118.4 434.44,118.65 436.34,118.98 438.25,119.39 440.16,119.87 442.06,120.43 443.97,121.11 445.87,121.86" fill="none" stroke="#ff0000" stroke-opacity="0.75" stroke-width="0.55"/>
<polyline points="415.38,122.32 417.29,122 419.19,121.61 421.1,121.18 423.01,120.74 424.91,120.34 426.82,119.99 428.72,119.7 430.63,119.56 432.53,119.7 434.44,119.95 436.34,120.28 438.25,120.69 440.16,121.17 442.06,121.73 443.97,122.41 445.87,123.16" fill="none" stroke="#ff0000" stroke-opacity="0.75" stroke-width="0.55"/>
<polyline points="417.29,123.3 419.19,122.91 421.1,122.48 423.01,122.04 424.91,121.64 426.82,121.29 428.72,121 430.63,120.86 432.53,121 434.44,121.25 436.34,121.58 438.25,121.99 440.16,122.47 442.06,123.03 443.97,123.71" fill="none" stroke="#ff0000" stroke-opacity="0.75" stroke-width="0.55"/>
<polyline points="417.29,124.6 419.19,124.21 421.1,123.78 423.01,123.34 424.91,122.94 426.82,122.59 428.72,122.3 430.63,122.16 432.53,122.3 434.44,122.55 436.34,122.88 438.25,123.29 440.16,123.77 442.06,124.33" fill="none" stroke="#ff0000" stroke-opacity="0.75" stroke-width="0.55"/>
<polyline points="419.19,125.51 421.1,125.08 423.01,124.64 424.91,124.24 426.82,123.89 428.72,123.6 430.63,123.46 432.53,123.6 434.44,123.85 436.34,124.18 438.25,124.59 440.16,125.07 442.06,125.63" fill="none" stroke="#ff0000" stroke-opacity="0.75" stroke-width="0.55"/>
<polyline points="419.19,126.81 421.1,126.38 423.01,125.94 424.91,125.54 426.82,125.19 428.72,124.9 430.63,124.76 432.53,124.9 434.44,125.15 436.34,125.48 438.25,125.89 440.16,126.37" fill="none" stroke="#ff0000" stroke-opacity="0.75" stroke-width="0.55"/>
<polyline points="421.1,127.68 423.01,127.24 424.91,126.84 426.82,126.49 428.72,126.2 430.63,126.06 432.53,126.2 434.44,126.45 436.34,126.78 438.25,127.19 440.16,127.67" fill="none" stroke="#ff0000" stroke-opacity="0.75" stroke-width="0.55"/>
<polyline points="423.01,128.54 424.91,128.14 426.82,127.79 428.72,127.5 430.63,127.36 432.53,127.5 434.44,127.75 436.34,128.08 438.25,128.49" fill="none" stroke="#ff0000" stroke-opacity="0.75" stroke-width="0.55"/>
<polyline points="423.01,129.84 424.91,129.44 426.82,129.09 428.72,128.8 430.63,128.66 432.53,128.8 434.44,129.05 436.34,129.38" fill="none" stroke="#ff0000" stroke-opacity="0.75" stroke-width="0.55"/>
<polyline points="424.91,130.74 426.82,130.39 428.72,130.1" fill="none" stroke="#ff0000" stroke-opacity="0.75" stroke-width="0.55"/>
<polyline points="451.59,115.66 453.49,116.23 455.4,116.71 457.31,117.11 459.21,117.44 461.12,117.75 463.02,118.04 464.93,118.31 466.83,118.58 468.74,118.84 470.64,119.1 472.55,119.38 474.46,119.7 476.36,120.09 478.27,120.47" fill="none" stroke="#ff0000" stroke-opacity="0.75" stroke-width="0.55"/>
<polyline points="451.59,116.36 453.49,116.93 455.4,117.41 457.31,117.81 459.21,118.14 461.12,118.45 463.02,118.74 464.93,119.01 466.83,119.28 468.74,119.54 470.64,119.8 472.55,120.08 474.46,120.4 476.36,120.79 478.27,121.17" fill="none" stroke="#ff0000" stroke-opacity="0.75" stroke-width="0.55"/>
<polyline points="451.59,117.06 453.49,117.63 455.4,118.11 457.31,118.51 459.21,118.84 461.12,119.15 463.02,119.44 464.93,119.71 466.83,119.98 468.74,120.24 470.64,120.5 472.55,120.78 474.46,121.1 476.36,121.49 478.27,121.87" fill="none" stroke="#ff0000" stroke-opacity="0.75" stroke-width="0.55"/>
<polyline points="476.36,120.99 478.27,121.37 480.17,121.69 482.08,121.88 483.98,121.88 485.89,121.76 487.79,121.57 489.7,121.31 491.61,121.02 493.51,120.7 495.42,120.36 497.32,120.03 499.23,119.72 501.13,119.43 503.04,119.15 504.94,118.86 506.85,118.57 508.76,118.27 510.66,117.98 512.57,117.68 514.47,117.38 516.38,117.09 518.28,116.79 520.19,116.49 522.09,116.19 524,115.9" fill="none" stroke="#ff0000" stroke-opacity="0.75" stroke-width="0.55"/>
<polyline points="482.08,123.48 483.98,123.48 485.89,123.36 487.79,123.17 489.7,122.91 491.61,122.62 493.51,122.3 495.42,121.96 497.32,121.63 499.23,121.32 501.13,121.03 503.04,120.75 504.94,120.46 506.85,120.17 508.76,119.87 510.66,119.58 512.57,119.28 514.47,118.98 516.38,118.69 518.28,118.39 520.19,118.09 522.09,117.79 524,117.5" fill="none" stroke="#ff0000" stroke-opacity="0.75" stroke-width="0.55"/>
<polyline points="485.89,124.96 487.79,124.77 489.7,124.51 491.61,124.22 493.51,123.9 495.42,123.56 497.32,123.23 499.23,122.92 501.13,122.63 503.04,122.35 504.94,122.06 506.85,121.77 508.76,121.47 510.66,121.18 512.57,120.88 514.47,120.58 516.38,120.29 518.28,119.99 520.19,119.69 522.09,119.39 524,119.1" fill="none" stroke="#ff0000" stroke-opacity="0.75" stroke-width="0.55"/>
<polyline points="489.7,126.11 491.61,125.82 493.51,125.5 495.42,125.16 497.32,124.83 499.23,124.52 501.13,124.23 503.04,123.95 504.94,123.66 506.85,123.37 508.76,123.07 510.66,122.78 512.57,122.48 514.47,122.18 516.38,121.89 518.28,121.59 520.19,121.29 522.09,120.99 524,120.7" fill="none" stroke="#ff0000" stroke-opacity="0.75" stroke-width="0.55"/>
<polyline points="491.61,127.42 493.51,127.1 495.42,126.76 497.32,126.43 499.23,126.12 501.13,125.83 503.04,125.55 504.94,125.26 506.85,124.97 508.76,124.67 510.66,124.38 512.57,124.08 514.47,123.78 516.38,123.49 518.28,123.19 520.19,122.89 522.09,122.59 524,122.3" fill="none" stroke="#ff0000" stroke-opacity="0.75" stroke-width="0.55"/>
<polyline points="493.51,128.7 495.42,128.36 497.32,128.03 499.23,127.72 501.13,127.43 503.04,127.15 504.94,126.86 506.85,126.57 508.76,126.27 510.66,125.98 512.57,125.68 514.47,125.38 516.38,125.09 518.28,124.79 520.19,124.49 522.09,124.19 524,123.9" fill="none" stroke="#ff0000" stroke-opacity="0.75" stroke-width="0.55"/>
<polyline points="497.32,129.63 499.23,129.32 501.13,129.03 503.04,128.75 504.94,128.46 506.85,128.17 508.76,127.87 510.66,127.58 512.57,127.28 514.47,126.98 516.38,126.69 518.28,126.39 520.19,126.09 522.09,125.79 524,125.5" fill="none" stroke="#ff0000" stroke-opacity="0.75" stroke-width="0.55"/>
<polyline points="499.23,130.92 501.13,130.63 503.04,130.35 504.94,130.06 506.85,129.77 508.76,129.47 510.66,129.18 512.57,128.88 514.47,128.58 516.38,128.29 518.28,127.99 520.19,127.69 522.09,127.39 524,127.1" fill="none" stroke="#ff0000" stroke-opacity="0.75" stroke-width="0.55"/>
<polyline points="501.13,132.23 503.04,131.95 504.94,131.66 506.85,131.37 508.76,131.07 510.66,130.78 512.57,130.48 514.47,130.18 516.38,129.89 518.28,129.59 520.19,129.29 522.09,128.99 524,128.7" fill="none" stroke="#ff0000" stroke-opacity="0.75" stroke-width="0.55"/>
<polyline points="504.94,133.26 506.85,132.97 508.76,132.67 510.66,132.38 512.57,132.08 514.47,131.78 516.38,131.49 518.28,131.19 520.19,130.89 522.09,130.59 524,130.3" fill="none" stroke="#ff0000" stroke-opacity="0.75" stroke-width="0.55"/>
<polyline points="506.85,134.57 508.76,134.27 510.66,133.98 512.57,133.68 514.47,133.38 516.38,133.09 518.28,132.79 520.19,132.49 522.09,132.19 524,131.9" fill="none" stroke="#ff0000" stroke-opacity="0.75" stroke-width="0.55"/>
<polyline points="510.66,135.58 512.57,135.28 514.47,134.98 516.38,134.69 518.28,134.39 520.19,134.09 522.09,133.79 524,133.5" fill="none" stroke="#ff0000" stroke-opacity="0.75" stroke-width="0.55"/>
<polyline points="514.47,136.58 516.38,136.29 518.28,135.99 520.19,135.69 522.09,135.39 524,135.1" fill="none" stroke="#ff0000" stroke-opacity="0.75" stroke-width="0.55"/>
<polyline points="520.19,137.29 522.09,136.99 524,136.7" fill="none" stroke="#ff0000" stroke-opacity="0.75" stroke-width="0.55"/>
<polyline points="352.5,122.2 354.41,121.79 356.31,121.37 358.22,120.95 360.12,120.53 362.03,120.11 363.93,119.69 365.84,119.28 367.74,118.88 369.65,118.48 371.56,118.09 373.46,117.71 375.37,117.34 377.27,116.97 379.18,116.61 381.08,116.26 382.99,115.91 384.89,115.56 386.8,115.22 388.71,114.88 390.61,114.54 392.52,114.21 394.42,113.87 396.33,113.53 398.23,113.21 400.14,112.91 402.04,112.65 403.95,112.45 405.86,112.34 407.76,112.3 409.67,112.28 411.57,112.24 413.48,112.13 415.38,111.92 417.29,111.6 419.19,111.21 421.1,110.78 423.01,110.34 424.91,109.94 426.82,109.59 428.72,109.3 430.63,109.16 432.53,109.3 434.44,109.55 436.34,109.88 438.25,110.29 440.16,110.77 442.06,111.33 443.97,112.01 445.87,112.76 447.78,113.54 449.68,114.29 451.59,114.96 453.49,115.53 455.4,116.01 457.31,116.41 459.21,116.74 461.12,117.05 463.02,117.34 464.93,117.61 466.83,117.88 468.74,118.14 470.64,118.4 472.55,118.68 474.46,119 476.36,119.39 478.27,119.77 480.17,120.09 482.08,120.28 483.98,120.28 485.89,120.16 487.79,119.97 489.7,119.71 491.61,119.42 493.51,119.1 495.42,118.76 497.32,118.43 499.23,118.12 501.13,117.83 503.04,117.55 504.94,117.26 506.85,116.97 508.76,116.67 510.66,116.38 512.57,116.08 514.47,115.78 516.38,115.49 518.28,115.19 520.19,114.89 522.09,114.59 524,114.3" fill="none" stroke="#ff0000" stroke-width="0.9"/>
<polyline points="352.5,134.8 354.41,134.54 356.31,134.29 358.22,134.04 360.12,133.79 362.03,133.54 363.93,133.29 365.84,133.03 367.74,132.76 369.65,132.48 371.56,132.2 373.46,131.9 375.37,131.61 377.27,131.33 379.18,131.07 381.08,130.8 382.99,130.52 384.89,130.22 386.8,129.9 388.71,129.55 390.61,129.16 392.52,128.73 394.42,128.23 396.33,127.66 398.23,126.84 400.14,125.8 402.04,124.66 403.95,123.5 405.86,122.44 407.76,121.56 409.67,120.97 411.57,120.86 413.48,121.86 415.38,123.58 417.29,125.41 419.19,127.04 421.1,128.91 423.01,130.42 424.91,130.95 426.82,130.75 428.72,130.22 430.63,129.72 432.53,129.66 434.44,130.05 436.34,129.92 438.25,128.97 440.16,127.74 442.06,126.32 443.97,124.82 445.87,123.23 447.78,121.21 449.68,119.26 451.59,118.03 453.49,117.79 455.4,118.14 457.31,118.61 459.21,118.92 461.12,119.22 463.02,119.54 464.93,119.87 466.83,120.21 468.74,120.56 470.64,120.91 472.55,121.27 474.46,121.63 476.36,122.04 478.27,122.59 480.17,123.23 482.08,123.9 483.98,124.61 485.89,125.34 487.79,126.12 489.7,126.93 491.61,127.83 493.51,128.79 495.42,129.78 497.32,130.76 499.23,131.7 501.13,132.54 503.04,133.33 504.94,134.09 506.85,134.79 508.76,135.44 510.66,136.02 512.57,136.51 514.47,136.9 516.38,137.19 518.28,137.43 520.19,137.64 522.09,137.85 524,138.1" fill="none" stroke="#ff0000" stroke-width="0.9"/>
<polygon points="352.5,134.6 353.38,134.51 354.26,134.42 355.13,134.33 356.01,134.24 356.89,134.15 357.77,134.06 358.64,133.97 359.52,133.88 360.4,133.78 361.28,133.68 362.16,133.58 363.03,133.48 363.91,133.37 364.79,133.27 365.67,133.16 366.54,133.05 367.42,132.94 368.3,132.82 369.18,132.71 370.06,132.59 370.93,132.47 371.81,132.34 372.69,132.22 373.57,132.09 374.44,131.95 375.32,131.81 376.2,131.67 377.08,131.53 377.96,131.39 378.83,131.24 379.71,131.09 380.59,130.94 381.47,130.8 382.34,130.65 383.22,130.5 384.1,130.35 384.98,130.2 385.86,130.05 386.73,129.9 387.61,129.74 388.49,129.58 389.37,129.42 390.24,129.26 391.12,129.1 392,128.95 392.88,128.8 393.76,128.66 394.63,128.53 395.51,128.41 396.39,128.31 397.27,128.22 398.14,128.17 399.02,128.15 399.9,128.16 400.78,128.22 401.66,128.3 402.53,128.4 403.41,128.5 404.29,128.62 405.17,128.74 406.04,128.87 406.92,129.01 407.8,129.15 408.68,129.29 409.56,129.43 410.43,129.57 411.31,129.72 412.19,129.87 413.07,130.03 413.94,130.2 414.82,130.36 415.7,130.53 416.58,130.7 417.46,130.87 418.33,131.03 419.21,131.19 420.09,131.34 420.97,131.49 421.84,131.63 422.72,131.75 423.6,131.86 424.48,131.96 425.36,132.02 426.23,132.05 427.11,132.05 427.99,132.04 428.87,132.03 429.74,132.01 430.62,132 431.5,132 431.5,138 430.62,138.55 429.74,139.13 428.87,139.7 427.99,140.27 427.11,140.83 426.23,141.35 425.36,141.82 424.48,142.25 423.6,142.68 422.72,143.09 421.84,143.5 420.97,143.9 420.09,144.28 419.21,144.65 418.33,144.99 417.46,145.31 416.58,145.61 415.7,145.87 414.82,146.09 413.94,146.3 413.07,146.5 412.19,146.68 411.31,146.86 410.43,147.04 409.56,147.2 408.68,147.36 407.8,147.51 406.92,147.65 406.04,147.79 405.17,147.92 404.29,148.04 403.41,148.16 402.53,148.28 401.66,148.38 400.78,148.49 399.9,148.58 399.02,148.68 398.14,148.77 397.27,148.85 396.39,148.93 395.51,149.01 394.63,149.08 393.76,149.15 392.88,149.21 392,149.27 391.12,149.33 390.24,149.38 389.37,149.43 388.49,149.48 387.61,149.52 386.73,149.56 385.86,149.6 384.98,149.64 384.1,149.67 383.22,149.7 382.34,149.73 381.47,149.76 380.59,149.79 379.71,149.81 378.83,149.84 377.96,149.86 377.08,149.89 376.2,149.91 375.32,149.94 374.44,149.96 373.57,149.99 372.69,150.01 371.81,150.04 370.93,150.06 370.06,150.09 369.18,150.12 368.3,150.15 367.42,150.18 366.54,150.22 365.67,150.25 364.79,150.28 363.91,150.32 363.03,150.35 362.16,150.38 361.28,150.41 360.4,150.44 359.52,150.47 358.64,150.5 357.77,150.52 356.89,150.55 356.01,150.58 355.13,150.61 354.26,150.64 353.38,150.67 352.5,150.7" fill="#ff0000" fill-opacity="0.28"/>
<polyline points="352.5,135.75 353.38,135.66 354.26,135.58 355.13,135.49 356.01,135.41 356.89,135.32 357.77,135.24 358.64,135.15 359.52,135.06 360.4,134.97 361.28,134.88 362.16,134.78 363.03,134.68 363.91,134.58 364.79,134.48 365.67,134.38 366.54,134.27 367.42,134.17 368.3,134.06 369.18,133.95 370.06,133.84 370.93,133.73 371.81,133.61 372.69,133.49 373.57,133.36 374.44,133.24 375.32,133.11 376.2,132.98 377.08,132.84 377.96,132.71 378.83,132.57 379.71,132.43 380.59,132.29 381.47,132.15 382.34,132.01 383.22,131.87 384.1,131.73 384.98,131.59 385.86,131.45 386.73,131.3 387.61,131.15 388.49,131 389.37,130.85 390.24,130.7 391.12,130.55 392,130.4 392.88,130.26 393.76,130.13 394.63,130 395.51,129.88 396.39,129.78 397.27,129.7 398.14,129.64 399.02,129.61 399.9,129.62 400.78,129.67 401.66,129.74 402.53,129.82 403.41,129.91 404.29,130 405.17,130.11 406.04,130.22 406.92,130.34 407.8,130.46 408.68,130.58 409.56,130.7 410.43,130.82 411.31,130.94 412.19,131.07 413.07,131.21 413.94,131.35 414.82,131.49 415.7,131.63 416.58,131.77 417.46,131.9 418.33,132.03 419.21,132.15 420.09,132.27 420.97,132.38 421.84,132.47 422.72,132.56 423.6,132.64 424.48,132.69 425.36,132.72 426.23,132.71 427.11,132.68 427.99,132.63 428.87,132.58 429.74,132.52 430.62,132.47 431.5,132.43" fill="none" stroke="#ff0000" stroke-opacity="0.8" stroke-width="0.5"/>
<polyline points="352.5,136.9 353.38,136.82 354.26,136.74 355.13,136.66 356.01,136.58 356.89,136.5 357.77,136.41 358.64,136.33 359.52,136.25 360.4,136.16 361.28,136.07 362.16,135.98 363.03,135.89 363.91,135.79 364.79,135.7 365.67,135.6 366.54,135.5 367.42,135.4 368.3,135.3 369.18,135.2 370.06,135.09 370.93,134.98 371.81,134.87 372.69,134.76 373.57,134.64 374.44,134.52 375.32,134.4 376.2,134.28 377.08,134.15 377.96,134.03 378.83,133.9 379.71,133.77 380.59,133.64 381.47,133.51 382.34,133.37 383.22,133.24 384.1,133.11 384.98,132.98 385.86,132.85 386.73,132.71 387.61,132.57 388.49,132.42 389.37,132.28 390.24,132.13 391.12,131.99 392,131.85 392.88,131.72 393.76,131.59 394.63,131.47 395.51,131.35 396.39,131.25 397.27,131.17 398.14,131.11 399.02,131.08 399.9,131.08 400.78,131.12 401.66,131.17 402.53,131.24 403.41,131.31 404.29,131.39 405.17,131.48 406.04,131.57 406.92,131.67 407.8,131.77 408.68,131.87 409.56,131.97 410.43,132.06 411.31,132.17 412.19,132.27 413.07,132.38 413.94,132.5 414.82,132.61 415.7,132.72 416.58,132.83 417.46,132.93 418.33,133.03 419.21,133.11 420.09,133.19 420.97,133.26 421.84,133.32 422.72,133.37 423.6,133.41 424.48,133.43 425.36,133.42 426.23,133.37 427.11,133.31 427.99,133.22 428.87,133.12 429.74,133.03 430.62,132.93 431.5,132.86" fill="none" stroke="#ff0000" stroke-opacity="0.8" stroke-width="0.5"/>
<polyline points="352.5,138.05 353.38,137.97 354.26,137.89 355.13,137.82 356.01,137.74 356.89,137.67 357.77,137.59 358.64,137.51 359.52,137.43 360.4,137.35 361.28,137.27 362.16,137.18 363.03,137.09 363.91,137 364.79,136.91 365.67,136.82 366.54,136.73 367.42,136.63 368.3,136.54 369.18,136.44 370.06,136.34 370.93,136.24 371.81,136.14 372.69,136.03 373.57,135.92 374.44,135.81 375.32,135.7 376.2,135.58 377.08,135.46 377.96,135.35 378.83,135.23 379.71,135.1 380.59,134.98 381.47,134.86 382.34,134.74 383.22,134.61 384.1,134.49 384.98,134.37 385.86,134.24 386.73,134.11 387.61,133.98 388.49,133.84 389.37,133.71 390.24,133.57 391.12,133.44 392,133.3 392.88,133.18 393.76,133.05 394.63,132.94 395.51,132.82 396.39,132.73 397.27,132.64 398.14,132.58 399.02,132.55 399.9,132.54 400.78,132.56 401.66,132.61 402.53,132.66 403.41,132.71 404.29,132.78 405.17,132.85 406.04,132.93 406.92,133 407.8,133.08 408.68,133.16 409.56,133.24 410.43,133.31 411.31,133.39 412.19,133.47 413.07,133.56 413.94,133.65 414.82,133.74 415.7,133.82 416.58,133.9 417.46,133.96 418.33,134.02 419.21,134.08 420.09,134.12 420.97,134.15 421.84,134.17 422.72,134.18 423.6,134.18 424.48,134.16 425.36,134.12 426.23,134.04 427.11,133.93 427.99,133.81 428.87,133.67 429.74,133.53 430.62,133.4 431.5,133.29" fill="none" stroke="#ff0000" stroke-opacity="0.8" stroke-width="0.5"/>
<polyline points="352.5,139.2 353.38,139.13 354.26,139.05 355.13,138.98 356.01,138.91 356.89,138.84 357.77,138.77 358.64,138.69 359.52,138.62 360.4,138.54 361.28,138.46 362.16,138.38 363.03,138.3 363.91,138.21 364.79,138.13 365.67,138.04 366.54,137.95 367.42,137.86 368.3,137.77 369.18,137.68 370.06,137.59 370.93,137.5 371.81,137.4 372.69,137.3 373.57,137.2 374.44,137.1 375.32,136.99 376.2,136.88 377.08,136.78 377.96,136.67 378.83,136.55 379.71,136.44 380.59,136.33 381.47,136.21 382.34,136.1 383.22,135.99 384.1,135.87 384.98,135.76 385.86,135.64 386.73,135.52 387.61,135.39 388.49,135.27 389.37,135.14 390.24,135.01 391.12,134.88 392,134.76 392.88,134.63 393.76,134.52 394.63,134.4 395.51,134.3 396.39,134.2 397.27,134.12 398.14,134.05 399.02,134.01 399.9,134 400.78,134.01 401.66,134.04 402.53,134.08 403.41,134.12 404.29,134.17 405.17,134.22 406.04,134.28 406.92,134.34 407.8,134.39 408.68,134.45 409.56,134.51 410.43,134.56 411.31,134.62 412.19,134.68 413.07,134.74 413.94,134.8 414.82,134.86 415.7,134.91 416.58,134.96 417.46,135 418.33,135.02 419.21,135.04 420.09,135.04 420.97,135.04 421.84,135.02 422.72,134.99 423.6,134.95 424.48,134.9 425.36,134.82 426.23,134.7 427.11,134.56 427.99,134.4 428.87,134.22 429.74,134.04 430.62,133.87 431.5,133.71" fill="none" stroke="#ff0000" stroke-opacity="0.8" stroke-width="0.5"/>
<polyline points="352.5,140.35 353.38,140.28 354.26,140.21 355.13,140.14 356.01,140.08 356.89,140.01 357.77,139.94 358.64,139.87 359.52,139.8 360.4,139.73 361.28,139.66 362.16,139.58 363.03,139.5 363.91,139.42 364.79,139.34 365.67,139.26 366.54,139.18 367.42,139.1 368.3,139.01 369.18,138.93 370.06,138.84 370.93,138.75 371.81,138.66 372.69,138.57 373.57,138.48 374.44,138.38 375.32,138.29 376.2,138.19 377.08,138.09 377.96,137.99 378.83,137.88 379.71,137.78 380.59,137.67 381.47,137.57 382.34,137.46 383.22,137.36 384.1,137.25 384.98,137.14 385.86,137.03 386.73,136.92 387.61,136.81 388.49,136.69 389.37,136.57 390.24,136.45 391.12,136.33 392,136.21 392.88,136.09 393.76,135.98 394.63,135.87 395.51,135.77 396.39,135.67 397.27,135.59 398.14,135.53 399.02,135.48 399.9,135.46 400.78,135.46 401.66,135.47 402.53,135.5 403.41,135.52 404.29,135.56 405.17,135.59 406.04,135.63 406.92,135.67 407.8,135.71 408.68,135.74 409.56,135.78 410.43,135.81 411.31,135.84 412.19,135.88 413.07,135.91 413.94,135.95 414.82,135.98 415.7,136.01 416.58,136.02 417.46,136.03 418.33,136.02 419.21,136 420.09,135.97 420.97,135.92 421.84,135.87 422.72,135.8 423.6,135.73 424.48,135.64 425.36,135.52 426.23,135.37 427.11,135.19 427.99,134.98 428.87,134.77 429.74,134.55 430.62,134.34 431.5,134.14" fill="none" stroke="#ff0000" stroke-opacity="0.8" stroke-width="0.5"/>
<polyline points="352.5,141.5 353.38,141.43 354.26,141.37 355.13,141.31 356.01,141.24 356.89,141.18 357.77,141.12 358.64,141.05 359.52,140.99 360.4,140.92 361.28,140.85 362.16,140.78 363.03,140.71 363.91,140.63 364.79,140.56 365.67,140.48 366.54,140.41 367.42,140.33 368.3,140.25 369.18,140.17 370.06,140.09 370.93,140.01 371.81,139.93 372.69,139.84 373.57,139.76 374.44,139.67 375.32,139.58 376.2,139.49 377.08,139.4 377.96,139.31 378.83,139.21 379.71,139.12 380.59,139.02 381.47,138.92 382.34,138.83 383.22,138.73 384.1,138.63 384.98,138.53 385.86,138.43 386.73,138.33 387.61,138.22 388.49,138.11 389.37,138 390.24,137.88 391.12,137.77 392,137.66 392.88,137.55 393.76,137.44 394.63,137.34 395.51,137.24 396.39,137.15 397.27,137.06 398.14,137 399.02,136.95 399.9,136.92 400.78,136.91 401.66,136.91 402.53,136.92 403.41,136.93 404.29,136.94 405.17,136.96 406.04,136.98 406.92,137 407.8,137.02 408.68,137.03 409.56,137.05 410.43,137.06 411.31,137.07 412.19,137.08 413.07,137.09 413.94,137.1 414.82,137.11 415.7,137.1 416.58,137.09 417.46,137.06 418.33,137.02 419.21,136.96 420.09,136.89 420.97,136.81 421.84,136.72 422.72,136.61 423.6,136.5 424.48,136.37 425.36,136.22 426.23,136.03 427.11,135.81 427.99,135.57 428.87,135.32 429.74,135.06 430.62,134.81 431.5,134.57" fill="none" stroke="#ff0000" stroke-opacity="0.8" stroke-width="0.5"/>
<polyline points="352.5,142.65 353.38,142.59 354.26,142.53 355.13,142.47 356.01,142.41 356.89,142.35 357.77,142.29 358.64,142.23 359.52,142.17 360.4,142.11 361.28,142.05 362.16,141.98 363.03,141.91 363.91,141.84 364.79,141.77 365.67,141.7 366.54,141.63 367.42,141.56 368.3,141.49 369.18,141.41 370.06,141.34 370.93,141.27 371.81,141.19 372.69,141.11 373.57,141.04 374.44,140.96 375.32,140.87 376.2,140.79 377.08,140.71 377.96,140.63 378.83,140.54 379.71,140.45 380.59,140.37 381.47,140.28 382.34,140.19 383.22,140.1 384.1,140.01 384.98,139.92 385.86,139.83 386.73,139.73 387.61,139.63 388.49,139.53 389.37,139.43 390.24,139.32 391.12,139.22 392,139.11 392.88,139.01 393.76,138.91 394.63,138.81 395.51,138.71 396.39,138.62 397.27,138.54 398.14,138.47 399.02,138.41 399.9,138.37 400.78,138.35 401.66,138.34 402.53,138.34 403.41,138.33 404.29,138.33 405.17,138.33 406.04,138.33 406.92,138.33 407.8,138.33 408.68,138.32 409.56,138.32 410.43,138.3 411.31,138.29 412.19,138.28 413.07,138.26 413.94,138.25 414.82,138.23 415.7,138.2 416.58,138.15 417.46,138.09 418.33,138.01 419.21,137.92 420.09,137.81 420.97,137.7 421.84,137.56 422.72,137.42 423.6,137.27 424.48,137.11 425.36,136.92 426.23,136.7 427.11,136.44 427.99,136.16 428.87,135.87 429.74,135.57 430.62,135.28 431.5,135" fill="none" stroke="#ff0000" stroke-opacity="0.8" stroke-width="0.5"/>
<polyline points="352.5,143.8 353.38,143.74 354.26,143.69 355.13,143.63 356.01,143.58 356.89,143.52 357.77,143.47 358.64,143.41 359.52,143.36 360.4,143.3 361.28,143.24 362.16,143.18 363.03,143.12 363.91,143.05 364.79,142.99 365.67,142.93 366.54,142.86 367.42,142.79 368.3,142.72 369.18,142.66 370.06,142.59 370.93,142.52 371.81,142.45 372.69,142.38 373.57,142.31 374.44,142.24 375.32,142.17 376.2,142.1 377.08,142.02 377.96,141.94 378.83,141.87 379.71,141.79 380.59,141.71 381.47,141.63 382.34,141.55 383.22,141.47 384.1,141.39 384.98,141.31 385.86,141.22 386.73,141.14 387.61,141.04 388.49,140.95 389.37,140.86 390.24,140.76 391.12,140.66 392,140.56 392.88,140.47 393.76,140.37 394.63,140.27 395.51,140.18 396.39,140.09 397.27,140.01 398.14,139.94 399.02,139.88 399.9,139.83 400.78,139.8 401.66,139.78 402.53,139.76 403.41,139.74 404.29,139.72 405.17,139.7 406.04,139.68 406.92,139.66 407.8,139.64 408.68,139.61 409.56,139.58 410.43,139.55 411.31,139.52 412.19,139.48 413.07,139.44 413.94,139.4 414.82,139.35 415.7,139.3 416.58,139.22 417.46,139.12 418.33,139.01 419.21,138.88 420.09,138.74 420.97,138.58 421.84,138.41 422.72,138.23 423.6,138.04 424.48,137.84 425.36,137.62 426.23,137.36 427.11,137.07 427.99,136.75 428.87,136.41 429.74,136.08 430.62,135.74 431.5,135.43" fill="none" stroke="#ff0000" stroke-opacity="0.8" stroke-width="0.5"/>
<polyline points="352.5,144.95 353.38,144.9 354.26,144.85 355.13,144.8 356.01,144.75 356.89,144.7 357.77,144.65 358.64,144.59 359.52,144.54 360.4,144.49 361.28,144.43 362.16,144.38 363.03,144.32 363.91,144.26 364.79,144.21 365.67,144.15 366.54,144.09 367.42,144.02 368.3,143.96 369.18,143.9 370.06,143.84 370.93,143.78 371.81,143.72 372.69,143.66 373.57,143.59 374.44,143.53 375.32,143.46 376.2,143.4 377.08,143.33 377.96,143.26 378.83,143.2 379.71,143.13 380.59,143.06 381.47,142.99 382.34,142.92 383.22,142.84 384.1,142.77 384.98,142.7 385.86,142.62 386.73,142.54 387.61,142.46 388.49,142.37 389.37,142.28 390.24,142.2 391.12,142.11 392,142.01 392.88,141.92 393.76,141.83 394.63,141.74 395.51,141.65 396.39,141.56 397.27,141.48 398.14,141.41 399.02,141.35 399.9,141.29 400.78,141.25 401.66,141.21 402.53,141.18 403.41,141.14 404.29,141.11 405.17,141.07 406.04,141.03 406.92,140.99 407.8,140.95 408.68,140.91 409.56,140.85 410.43,140.8 411.31,140.74 412.19,140.68 413.07,140.62 413.94,140.55 414.82,140.48 415.7,140.39 416.58,140.28 417.46,140.15 418.33,140.01 419.21,139.84 420.09,139.66 420.97,139.47 421.84,139.26 422.72,139.04 423.6,138.81 424.48,138.58 425.36,138.32 426.23,138.03 427.11,137.69 427.99,137.33 428.87,136.96 429.74,136.58 430.62,136.21 431.5,135.86" fill="none" stroke="#ff0000" stroke-opacity="0.8" stroke-width="0.5"/>
<polyline points="352.5,146.1 353.38,146.05 354.26,146.01 355.13,145.96 356.01,145.91 356.89,145.87 357.77,145.82 358.64,145.77 359.52,145.73 360.4,145.68 361.28,145.63 362.16,145.58 363.03,145.53 363.91,145.47 364.79,145.42 365.67,145.37 366.54,145.31 367.42,145.26 368.3,145.2 369.18,145.15 370.06,145.09 370.93,145.04 371.81,144.98 372.69,144.93 373.57,144.87 374.44,144.82 375.32,144.76 376.2,144.7 377.08,144.64 377.96,144.58 378.83,144.53 379.71,144.47 380.59,144.4 381.47,144.34 382.34,144.28 383.22,144.21 384.1,144.15 384.98,144.08 385.86,144.02 386.73,143.94 387.61,143.87 388.49,143.79 389.37,143.71 390.24,143.63 391.12,143.55 392,143.47 392.88,143.38 393.76,143.3 394.63,143.21 395.51,143.12 396.39,143.04 397.27,142.96 398.14,142.88 399.02,142.81 399.9,142.75 400.78,142.7 401.66,142.65 402.53,142.6 403.41,142.55 404.29,142.49 405.17,142.44 406.04,142.38 406.92,142.33 407.8,142.26 408.68,142.2 409.56,142.12 410.43,142.05 411.31,141.97 412.19,141.88 413.07,141.79 413.94,141.7 414.82,141.6 415.7,141.49 416.58,141.35 417.46,141.19 418.33,141 419.21,140.8 420.09,140.59 420.97,140.36 421.84,140.11 422.72,139.85 423.6,139.59 424.48,139.31 425.36,139.02 426.23,138.69 427.11,138.32 427.99,137.92 428.87,137.51 429.74,137.09 430.62,136.68 431.5,136.29" fill="none" stroke="#ff0000" stroke-opacity="0.8" stroke-width="0.5"/>
<polyline points="352.5,147.25 353.38,147.21 354.26,147.16 355.13,147.12 356.01,147.08 356.89,147.04 357.77,147 358.64,146.95 359.52,146.91 360.4,146.87 361.28,146.82 362.16,146.78 363.03,146.73 363.91,146.69 364.79,146.64 365.67,146.59 366.54,146.54 367.42,146.49 368.3,146.44 369.18,146.39 370.06,146.34 370.93,146.29 371.81,146.24 372.69,146.2 373.57,146.15 374.44,146.1 375.32,146.05 376.2,146 377.08,145.95 377.96,145.9 378.83,145.85 379.71,145.8 380.59,145.75 381.47,145.7 382.34,145.64 383.22,145.59 384.1,145.53 384.98,145.47 385.86,145.41 386.73,145.35 387.61,145.28 388.49,145.21 389.37,145.14 390.24,145.07 391.12,144.99 392,144.92 392.88,144.84 393.76,144.76 394.63,144.68 395.51,144.59 396.39,144.51 397.27,144.43 398.14,144.35 399.02,144.28 399.9,144.21 400.78,144.14 401.66,144.08 402.53,144.02 403.41,143.95 404.29,143.88 405.17,143.81 406.04,143.74 406.92,143.66 407.8,143.57 408.68,143.49 409.56,143.39 410.43,143.29 411.31,143.19 412.19,143.08 413.07,142.97 413.94,142.85 414.82,142.72 415.7,142.58 416.58,142.41 417.46,142.22 418.33,142 419.21,141.77 420.09,141.51 420.97,141.24 421.84,140.96 422.72,140.66 423.6,140.36 424.48,140.05 425.36,139.72 426.23,139.35 427.11,138.95 427.99,138.51 428.87,138.06 429.74,137.6 430.62,137.15 431.5,136.71" fill="none" stroke="#ff0000" stroke-opacity="0.8" stroke-width="0.5"/>
<polyline points="352.5,148.4 353.38,148.36 354.26,148.32 355.13,148.29 356.01,148.25 356.89,148.21 357.77,148.17 358.64,148.13 359.52,148.1 360.4,148.06 361.28,148.02 362.16,147.98 363.03,147.94 363.91,147.9 364.79,147.85 365.67,147.81 366.54,147.77 367.42,147.72 368.3,147.68 369.18,147.63 370.06,147.59 370.93,147.55 371.81,147.51 372.69,147.47 373.57,147.43 374.44,147.39 375.32,147.35 376.2,147.31 377.08,147.27 377.96,147.22 378.83,147.18 379.71,147.14 380.59,147.1 381.47,147.05 382.34,147.01 383.22,146.96 384.1,146.91 384.98,146.86 385.86,146.81 386.73,146.75 387.61,146.7 388.49,146.64 389.37,146.57 390.24,146.51 391.12,146.44 392,146.37 392.88,146.3 393.76,146.22 394.63,146.14 395.51,146.07 396.39,145.98 397.27,145.9 398.14,145.82 399.02,145.74 399.9,145.67 400.78,145.59 401.66,145.52 402.53,145.44 403.41,145.35 404.29,145.27 405.17,145.18 406.04,145.09 406.92,144.99 407.8,144.89 408.68,144.78 409.56,144.66 410.43,144.54 411.31,144.41 412.19,144.28 413.07,144.14 413.94,144 414.82,143.85 415.7,143.68 416.58,143.48 417.46,143.25 418.33,143 419.21,142.73 420.09,142.44 420.97,142.13 421.84,141.81 422.72,141.47 423.6,141.13 424.48,140.78 425.36,140.42 426.23,140.02 427.11,139.57 427.99,139.1 428.87,138.61 429.74,138.11 430.62,137.62 431.5,137.14" fill="none" stroke="#ff0000" stroke-opacity="0.8" stroke-width="0.5"/>
<polyline points="352.5,149.55 353.38,149.52 354.26,149.48 355.13,149.45 356.01,149.41 356.89,149.38 357.77,149.35 358.64,149.32 359.52,149.28 360.4,149.25 361.28,149.21 362.16,149.18 363.03,149.14 363.91,149.11 364.79,149.07 365.67,149.03 366.54,148.99 367.42,148.95 368.3,148.91 369.18,148.88 370.06,148.84 370.93,148.81 371.81,148.77 372.69,148.74 373.57,148.71 374.44,148.67 375.32,148.64 376.2,148.61 377.08,148.58 377.96,148.54 378.83,148.51 379.71,148.48 380.59,148.44 381.47,148.41 382.34,148.37 383.22,148.33 384.1,148.29 384.98,148.25 385.86,148.2 386.73,148.16 387.61,148.11 388.49,148.06 389.37,148 390.24,147.94 391.12,147.88 392,147.82 392.88,147.75 393.76,147.69 394.63,147.61 395.51,147.54 396.39,147.46 397.27,147.38 398.14,147.29 399.02,147.21 399.9,147.13 400.78,147.04 401.66,146.95 402.53,146.86 403.41,146.76 404.29,146.66 405.17,146.55 406.04,146.44 406.92,146.32 407.8,146.2 408.68,146.07 409.56,145.93 410.43,145.79 411.31,145.64 412.19,145.48 413.07,145.32 413.94,145.15 414.82,144.97 415.7,144.77 416.58,144.54 417.46,144.28 418.33,144 419.21,143.69 420.09,143.36 420.97,143.02 421.84,142.66 422.72,142.28 423.6,141.9 424.48,141.52 425.36,141.12 426.23,140.68 427.11,140.2 427.99,139.69 428.87,139.15 429.74,138.62 430.62,138.09 431.5,137.57" fill="none" stroke="#ff0000" stroke-opacity="0.8" stroke-width="0.5"/>
<polyline points="352.5,134.6 353.38,134.51 354.26,134.42 355.13,134.33 356.01,134.24 356.89,134.15 357.77,134.06 358.64,133.97 359.52,133.88 360.4,133.78 361.28,133.68 362.16,133.58 363.03,133.48 363.91,133.37 364.79,133.27 365.67,133.16 366.54,133.05 367.42,132.94 368.3,132.82 369.18,132.71 370.06,132.59 370.93,132.47 371.81,132.34 372.69,132.22 373.57,132.09 374.44,131.95 375.32,131.81 376.2,131.67 377.08,131.53 377.96,131.39 378.83,131.24 379.71,131.09 380.59,130.94 381.47,130.8 382.34,130.65 383.22,130.5 384.1,130.35 384.98,130.2 385.86,130.05 386.73,129.9 387.61,129.74 388.49,129.58 389.37,129.42 390.24,129.26 391.12,129.1 392,128.95 392.88,128.8 393.76,128.66 394.63,128.53 395.51,128.41 396.39,128.31 397.27,128.22 398.14,128.17 399.02,128.15 399.9,128.16 400.78,128.22 401.66,128.3 402.53,128.4 403.41,128.5 404.29,128.62 405.17,128.74 406.04,128.87 406.92,129.01 407.8,129.15 408.68,129.29 409.56,129.43 410.43,129.57 411.31,129.72 412.19,129.87 413.07,130.03 413.94,130.2 414.82,130.36 415.7,130.53 416.58,130.7 417.46,130.87 418.33,131.03 419.21,131.19 420.09,131.34 420.97,131.49 421.84,131.63 422.72,131.75 423.6,131.86 424.48,131.96 425.36,132.02 426.23,132.05 427.11,132.05 427.99,132.04 428.87,132.03 429.74,132.01 430.62,132 431.5,132" fill="none" stroke="#ff0000" stroke-width="0.9"/>
<polyline points="352.5,150.7 353.38,150.67 354.26,150.64 355.13,150.61 356.01,150.58 356.89,150.55 357.77,150.52 358.64,150.5 359.52,150.47 360.4,150.44 361.28,150.41 362.16,150.38 363.03,150.35 363.91,150.32 364.79,150.28 365.67,150.25 366.54,150.22 367.42,150.18 368.3,150.15 369.18,150.12 370.06,150.09 370.93,150.06 371.81,150.04 372.69,150.01 373.57,149.99 374.44,149.96 375.32,149.94 376.2,149.91 377.08,149.89 377.96,149.86 378.83,149.84 379.71,149.81 380.59,149.79 381.47,149.76 382.34,149.73 383.22,149.7 384.1,149.67 384.98,149.64 385.86,149.6 386.73,149.56 387.61,149.52 388.49,149.48 389.37,149.43 390.24,149.38 391.12,149.33 392,149.27 392.88,149.21 393.76,149.15 394.63,149.08 395.51,149.01 396.39,148.93 397.27,148.85 398.14,148.77 399.02,148.68 399.9,148.58 400.78,148.49 401.66,148.38 402.53,148.28 403.41,148.16 404.29,148.04 405.17,147.92 406.04,147.79 406.92,147.65 407.8,147.51 408.68,147.36 409.56,147.2 410.43,147.04 411.31,146.86 412.19,146.68 413.07,146.5 413.94,146.3 414.82,146.09 415.7,145.87 416.58,145.61 417.46,145.31 418.33,144.99 419.21,144.65 420.09,144.28 420.97,143.9 421.84,143.5 422.72,143.09 423.6,142.68 424.48,142.25 425.36,141.82 426.23,141.35 427.11,140.83 427.99,140.27 428.87,139.7 429.74,139.13 430.62,138.55 431.5,138" fill="none" stroke="#ff0000" stroke-width="0.9"/>
<polyline points="352.5,134.8 353.22,134.93 353.94,135.05 354.65,135.17 355.37,135.29 356.09,135.41 356.81,135.53 357.53,135.65 358.25,135.77 358.97,135.9 359.68,136.03 360.4,136.17 361.12,136.31 361.84,136.46 362.56,136.63 363.27,136.82 363.99,137.04 364.71,137.27 365.43,137.51 366.15,137.75 366.87,137.99 367.59,138.23 368.3,138.46 369.02,138.67 369.74,138.86 370.46,139.02 371.18,139.15 371.9,139.24 372.61,139.29 373.33,139.31 374.05,139.29 374.77,139.26 375.49,139.21 376.2,139.14 376.92,139.05 377.64,138.95 378.36,138.82 379.08,138.68 379.8,138.53 380.52,138.36 381.23,138.17 381.95,137.97 382.67,137.76 383.39,137.54 384.11,137.31 384.83,137.06 385.54,136.8 386.26,136.5 386.98,136.18 387.7,135.83 388.42,135.46 389.13,135.06 389.85,134.66 390.57,134.24 391.29,133.81 392.01,133.38 392.73,132.95 393.45,132.52 394.16,132.1 394.88,131.69 395.6,131.3" fill="none" stroke="#ff0000" stroke-width="1.1" stroke-opacity="1"/>
<polyline points="352.5,141.6 353.22,141.83 353.94,142.06 354.65,142.31 355.37,142.56 356.09,142.81 356.81,143.06 357.53,143.32 358.25,143.57 358.97,143.83 359.68,144.08 360.4,144.32 361.12,144.56 361.84,144.79 362.56,145.02 363.27,145.23 363.99,145.43 364.71,145.61 365.43,145.79 366.15,145.94 366.87,146.08 367.59,146.2 368.3,146.32 369.02,146.43 369.74,146.54 370.46,146.64 371.18,146.74 371.9,146.83 372.61,146.92 373.33,147.01 374.05,147.1 374.77,147.18 375.49,147.26 376.2,147.33 376.92,147.4 377.64,147.47 378.36,147.54 379.08,147.61 379.8,147.67 380.52,147.73 381.23,147.8 381.95,147.86 382.67,147.91 383.39,147.97 384.11,148.03 384.83,148.09 385.54,148.14 386.26,148.2 386.98,148.25 387.7,148.31 388.42,148.37 389.13,148.42 389.85,148.48 390.57,148.54 391.29,148.6 392.01,148.66 392.73,148.73 393.45,148.79 394.16,148.86 394.88,148.93 395.6,149" fill="none" stroke="#ff0000" stroke-width="1.3" stroke-opacity="1"/>
<polygon points="431.5,131 432.53,131.2 433.56,131.42 434.58,131.65 435.61,131.87 436.64,132.08 437.67,132.26 438.69,132.4 439.72,132.49 440.75,132.52 441.78,132.51 442.81,132.48 443.83,132.43 444.86,132.36 445.89,132.28 446.92,132.19 447.94,132.09 448.97,132 450,131.91 451.03,131.82 452.06,131.75 453.08,131.7 454.11,131.66 455.14,131.66 456.17,131.68 457.19,131.73 458.22,131.83 459.25,131.96 460.28,132.14 461.31,132.34 462.33,132.58 463.36,132.84 464.39,133.13 465.42,133.43 466.44,133.76 467.47,134.1 468.5,134.45 469.53,134.81 470.56,135.17 471.58,135.54 472.61,135.9 473.64,136.27 474.67,136.62 475.69,136.97 476.72,137.3 477.75,137.62 478.78,137.94 479.81,138.29 480.83,138.66 481.86,139.04 482.89,139.41 483.92,139.78 484.94,140.13 485.97,140.45 487,140.74 488.03,140.98 489.06,141.17 490.08,141.29 491.11,141.37 492.14,141.44 493.17,141.5 494.19,141.55 495.22,141.59 496.25,141.63 497.28,141.65 498.31,141.67 499.33,141.69 500.36,141.7 501.39,141.7 502.42,141.7 503.44,141.69 504.47,141.68 505.5,141.67 506.53,141.65 507.56,141.63 508.58,141.61 509.61,141.58 510.64,141.56 511.67,141.53 512.69,141.5 513.72,141.47 514.75,141.45 515.78,141.42 516.81,141.4 517.83,141.37 518.86,141.35 519.89,141.34 520.92,141.32 521.94,141.31 522.97,141.3 524,141.3 524,143.5 522.97,143.51 521.94,143.51 520.92,143.51 519.89,143.51 518.86,143.51 517.83,143.5 516.81,143.49 515.78,143.48 514.75,143.47 513.72,143.46 512.69,143.45 511.67,143.43 510.64,143.42 509.61,143.41 508.58,143.4 507.56,143.39 506.53,143.39 505.5,143.38 504.47,143.38 503.44,143.38 502.42,143.39 501.39,143.39 500.36,143.41 499.33,143.42 498.31,143.44 497.28,143.47 496.25,143.5 495.22,143.53 494.19,143.57 493.17,143.62 492.14,143.68 491.11,143.74 490.08,143.81 489.06,144.06 488.03,144.53 487,145.1 485.97,145.66 484.94,146.1 483.92,146.31 482.89,146.38 481.86,146.45 480.83,146.51 479.81,146.56 478.78,146.6 477.75,146.63 476.72,146.65 475.69,146.66 474.67,146.65 473.64,146.63 472.61,146.59 471.58,146.53 470.56,146.46 469.53,146.37 468.5,146.25 467.47,146.12 466.44,145.96 465.42,145.78 464.39,145.57 463.36,145.34 462.33,145.08 461.31,144.8 460.28,144.49 459.25,144.17 458.22,143.83 457.19,143.48 456.17,143.11 455.14,142.74 454.11,142.36 453.08,141.97 452.06,141.58 451.03,141.19 450,140.8 448.97,140.42 447.94,140.04 446.92,139.68 445.89,139.32 444.86,138.97 443.83,138.65 442.81,138.34 441.78,138.05 440.75,137.78 439.72,137.54 438.69,137.4 437.67,137.37 436.64,137.42 435.61,137.52 434.58,137.66 433.56,137.8 432.53,137.92 431.5,138" fill="#ff0000" fill-opacity="0.28"/>
<polyline points="431.5,131.58 432.53,131.76 433.56,131.95 434.58,132.15 435.61,132.34 436.64,132.53 437.67,132.69 438.69,132.82 439.72,132.91 440.75,132.95 441.78,132.97 442.81,132.97 443.83,132.95 444.86,132.91 445.89,132.87 446.92,132.81 447.94,132.76 448.97,132.7 450,132.65 451.03,132.6 452.06,132.57 453.08,132.55 454.11,132.56 455.14,132.58 456.17,132.63 457.19,132.71 458.22,132.83 459.25,132.98 460.28,133.17 461.31,133.38 462.33,133.62 463.36,133.88 464.39,134.16 465.42,134.46 466.44,134.78 467.47,135.1 468.5,135.43 469.53,135.77 470.56,136.11 471.58,136.46 472.61,136.8 473.64,137.13 474.67,137.46 475.69,137.77 476.72,138.08 477.75,138.37 478.78,138.66 479.81,138.98 480.83,139.31 481.86,139.66 482.89,139.99 483.92,140.32 484.94,140.63 485.97,140.89 487,141.1 488.03,141.27 489.06,141.41 490.08,141.5 491.11,141.57 492.14,141.62 493.17,141.67 494.19,141.72 495.22,141.75 496.25,141.78 497.28,141.8 498.31,141.82 499.33,141.83 500.36,141.84 501.39,141.84 502.42,141.84 503.44,141.83 504.47,141.82 505.5,141.81 506.53,141.79 507.56,141.78 508.58,141.76 509.61,141.73 510.64,141.71 511.67,141.69 512.69,141.66 513.72,141.64 514.75,141.62 515.78,141.59 516.81,141.57 517.83,141.55 518.86,141.53 519.89,141.52 520.92,141.5 521.94,141.49 522.97,141.49 524,141.48" fill="none" stroke="#ff0000" stroke-opacity="0.8" stroke-width="0.5"/>
<polyline points="431.5,132.17 432.53,132.32 433.56,132.48 434.58,132.65 435.61,132.81 436.64,132.97 437.67,133.12 438.69,133.24 439.72,133.33 440.75,133.39 441.78,133.43 442.81,133.46 443.83,133.47 444.86,133.46 445.89,133.45 446.92,133.44 447.94,133.42 448.97,133.4 450,133.39 451.03,133.38 452.06,133.39 453.08,133.41 454.11,133.45 455.14,133.5 456.17,133.58 457.19,133.69 458.22,133.83 459.25,134 460.28,134.2 461.31,134.42 462.33,134.66 463.36,134.92 464.39,135.2 465.42,135.49 466.44,135.79 467.47,136.1 468.5,136.42 469.53,136.73 470.56,137.05 471.58,137.37 472.61,137.69 473.64,137.99 474.67,138.29 475.69,138.58 476.72,138.86 477.75,139.12 478.78,139.38 479.81,139.67 480.83,139.97 481.86,140.27 482.89,140.58 483.92,140.87 484.94,141.13 485.97,141.32 487,141.47 488.03,141.57 489.06,141.65 490.08,141.71 491.11,141.76 492.14,141.81 493.17,141.85 494.19,141.89 495.22,141.91 496.25,141.94 497.28,141.96 498.31,141.97 499.33,141.98 500.36,141.98 501.39,141.98 502.42,141.98 503.44,141.97 504.47,141.96 505.5,141.95 506.53,141.94 507.56,141.92 508.58,141.91 509.61,141.89 510.64,141.87 511.67,141.85 512.69,141.83 513.72,141.8 514.75,141.78 515.78,141.76 516.81,141.75 517.83,141.73 518.86,141.71 519.89,141.7 520.92,141.69 521.94,141.68 522.97,141.67 524,141.67" fill="none" stroke="#ff0000" stroke-opacity="0.8" stroke-width="0.5"/>
<polyline points="431.5,132.75 432.53,132.88 433.56,133.01 434.58,133.15 435.61,133.29 436.64,133.42 437.67,133.54 438.69,133.65 439.72,133.75 440.75,133.83 441.78,133.9 442.81,133.95 443.83,133.98 444.86,134.02 445.89,134.04 446.92,134.06 447.94,134.08 448.97,134.1 450,134.13 451.03,134.17 452.06,134.21 453.08,134.27 454.11,134.34 455.14,134.43 456.17,134.54 457.19,134.67 458.22,134.83 459.25,135.02 460.28,135.23 461.31,135.46 462.33,135.7 463.36,135.97 464.39,136.24 465.42,136.52 466.44,136.81 467.47,137.1 468.5,137.4 469.53,137.7 470.56,137.99 471.58,138.29 472.61,138.58 473.64,138.86 474.67,139.13 475.69,139.39 476.72,139.64 477.75,139.87 478.78,140.11 479.81,140.36 480.83,140.62 481.86,140.89 482.89,141.16 483.92,141.41 484.94,141.62 485.97,141.75 487,141.83 488.03,141.87 489.06,141.89 490.08,141.92 491.11,141.96 492.14,142 493.17,142.03 494.19,142.05 495.22,142.08 496.25,142.09 497.28,142.11 498.31,142.12 499.33,142.12 500.36,142.12 501.39,142.12 502.42,142.12 503.44,142.11 504.47,142.11 505.5,142.1 506.53,142.08 507.56,142.07 508.58,142.05 509.61,142.04 510.64,142.02 511.67,142 512.69,141.99 513.72,141.97 514.75,141.95 515.78,141.94 516.81,141.92 517.83,141.9 518.86,141.89 519.89,141.88 520.92,141.87 521.94,141.86 522.97,141.85 524,141.85" fill="none" stroke="#ff0000" stroke-opacity="0.8" stroke-width="0.5"/>
<polyline points="431.5,133.33 432.53,133.44 433.56,133.54 434.58,133.65 435.61,133.76 436.64,133.86 437.67,133.97 438.69,134.07 439.72,134.17 440.75,134.27 441.78,134.36 442.81,134.43 443.83,134.5 444.86,134.57 445.89,134.63 446.92,134.68 447.94,134.74 448.97,134.81 450,134.87 451.03,134.95 452.06,135.03 453.08,135.12 454.11,135.23 455.14,135.35 456.17,135.49 457.19,135.65 458.22,135.83 459.25,136.03 460.28,136.26 461.31,136.49 462.33,136.75 463.36,137.01 464.39,137.28 465.42,137.55 466.44,137.83 467.47,138.1 468.5,138.38 469.53,138.66 470.56,138.93 471.58,139.2 472.61,139.47 473.64,139.72 474.67,139.97 475.69,140.2 476.72,140.42 477.75,140.62 478.78,140.83 479.81,141.05 480.83,141.28 481.86,141.51 482.89,141.74 483.92,141.96 484.94,142.12 485.97,142.19 487,142.19 488.03,142.16 489.06,142.13 490.08,142.13 491.11,142.16 492.14,142.18 493.17,142.21 494.19,142.22 495.22,142.24 496.25,142.25 497.28,142.26 498.31,142.26 499.33,142.27 500.36,142.27 501.39,142.26 502.42,142.26 503.44,142.26 504.47,142.25 505.5,142.24 506.53,142.23 507.56,142.22 508.58,142.2 509.61,142.19 510.64,142.18 511.67,142.16 512.69,142.15 513.72,142.14 514.75,142.12 515.78,142.11 516.81,142.09 517.83,142.08 518.86,142.07 519.89,142.06 520.92,142.05 521.94,142.04 522.97,142.04 524,142.03" fill="none" stroke="#ff0000" stroke-opacity="0.8" stroke-width="0.5"/>
<polyline points="431.5,133.92 432.53,134 433.56,134.08 434.58,134.15 435.61,134.23 436.64,134.31 437.67,134.39 438.69,134.49 439.72,134.59 440.75,134.71 441.78,134.82 442.81,134.92 443.83,135.02 444.86,135.12 445.89,135.21 446.92,135.31 447.94,135.41 448.97,135.51 450,135.61 451.03,135.73 452.06,135.85 453.08,135.98 454.11,136.12 455.14,136.27 456.17,136.44 457.19,136.63 458.22,136.83 459.25,137.05 460.28,137.29 461.31,137.53 462.33,137.79 463.36,138.05 464.39,138.31 465.42,138.58 466.44,138.84 467.47,139.11 468.5,139.37 469.53,139.62 470.56,139.88 471.58,140.12 472.61,140.36 473.64,140.58 474.67,140.8 475.69,141.01 476.72,141.2 477.75,141.37 478.78,141.55 479.81,141.74 480.83,141.93 481.86,142.13 482.89,142.32 483.92,142.5 484.94,142.62 485.97,142.62 487,142.56 488.03,142.46 489.06,142.37 490.08,142.34 491.11,142.36 492.14,142.37 493.17,142.38 494.19,142.39 495.22,142.4 496.25,142.41 497.28,142.41 498.31,142.41 499.33,142.41 500.36,142.41 501.39,142.41 502.42,142.4 503.44,142.4 504.47,142.39 505.5,142.38 506.53,142.37 507.56,142.36 508.58,142.35 509.61,142.34 510.64,142.33 511.67,142.32 512.69,142.31 513.72,142.3 514.75,142.29 515.78,142.28 516.81,142.27 517.83,142.26 518.86,142.25 519.89,142.24 520.92,142.23 521.94,142.23 522.97,142.22 524,142.22" fill="none" stroke="#ff0000" stroke-opacity="0.8" stroke-width="0.5"/>
<polyline points="431.5,134.5 432.53,134.56 433.56,134.61 434.58,134.65 435.61,134.7 436.64,134.75 437.67,134.82 438.69,134.9 439.72,135.01 440.75,135.15 441.78,135.28 442.81,135.41 443.83,135.54 444.86,135.67 445.89,135.8 446.92,135.93 447.94,136.07 448.97,136.21 450,136.36 451.03,136.51 452.06,136.67 453.08,136.83 454.11,137.01 455.14,137.2 456.17,137.4 457.19,137.61 458.22,137.83 459.25,138.07 460.28,138.32 461.31,138.57 462.33,138.83 463.36,139.09 464.39,139.35 465.42,139.61 466.44,139.86 467.47,140.11 468.5,140.35 469.53,140.59 470.56,140.82 471.58,141.04 472.61,141.25 473.64,141.45 474.67,141.64 475.69,141.81 476.72,141.98 477.75,142.12 478.78,142.27 479.81,142.43 480.83,142.58 481.86,142.74 482.89,142.9 483.92,143.04 484.94,143.12 485.97,143.06 487,142.92 488.03,142.76 489.06,142.62 490.08,142.55 491.11,142.55 492.14,142.56 493.17,142.56 494.19,142.56 495.22,142.56 496.25,142.56 497.28,142.56 498.31,142.56 499.33,142.56 500.36,142.55 501.39,142.55 502.42,142.54 503.44,142.54 504.47,142.53 505.5,142.53 506.53,142.52 507.56,142.51 508.58,142.5 509.61,142.5 510.64,142.49 511.67,142.48 512.69,142.47 513.72,142.47 514.75,142.46 515.78,142.45 516.81,142.44 517.83,142.44 518.86,142.43 519.89,142.42 520.92,142.42 521.94,142.41 522.97,142.4 524,142.4" fill="none" stroke="#ff0000" stroke-opacity="0.8" stroke-width="0.5"/>
<polyline points="431.5,135.08 432.53,135.12 433.56,135.14 434.58,135.15 435.61,135.17 436.64,135.2 437.67,135.24 438.69,135.32 439.72,135.44 440.75,135.59 441.78,135.74 442.81,135.9 443.83,136.06 444.86,136.22 445.89,136.39 446.92,136.56 447.94,136.73 448.97,136.91 450,137.1 451.03,137.29 452.06,137.49 453.08,137.69 454.11,137.9 455.14,138.12 456.17,138.35 457.19,138.59 458.22,138.83 459.25,139.09 460.28,139.35 461.31,139.61 462.33,139.87 463.36,140.13 464.39,140.39 465.42,140.64 466.44,140.88 467.47,141.11 468.5,141.33 469.53,141.55 470.56,141.76 471.58,141.95 472.61,142.14 473.64,142.31 474.67,142.47 475.69,142.62 476.72,142.76 477.75,142.88 478.78,142.99 479.81,143.11 480.83,143.24 481.86,143.36 482.89,143.48 483.92,143.59 484.94,143.61 485.97,143.49 487,143.28 488.03,143.05 489.06,142.86 490.08,142.76 491.11,142.75 492.14,142.74 493.17,142.74 494.19,142.73 495.22,142.72 496.25,142.72 497.28,142.71 498.31,142.71 499.33,142.7 500.36,142.69 501.39,142.69 502.42,142.68 503.44,142.68 504.47,142.67 505.5,142.67 506.53,142.66 507.56,142.66 508.58,142.65 509.61,142.65 510.64,142.64 511.67,142.64 512.69,142.64 513.72,142.63 514.75,142.63 515.78,142.62 516.81,142.62 517.83,142.61 518.86,142.61 519.89,142.6 520.92,142.6 521.94,142.59 522.97,142.59 524,142.58" fill="none" stroke="#ff0000" stroke-opacity="0.8" stroke-width="0.5"/>
<polyline points="431.5,135.67 432.53,135.68 433.56,135.67 434.58,135.65 435.61,135.64 436.64,135.64 437.67,135.67 438.69,135.74 439.72,135.86 440.75,136.02 441.78,136.2 442.81,136.38 443.83,136.57 444.86,136.77 445.89,136.97 446.92,137.18 447.94,137.39 448.97,137.61 450,137.84 451.03,138.07 452.06,138.31 453.08,138.55 454.11,138.79 455.14,139.05 456.17,139.3 457.19,139.56 458.22,139.83 459.25,140.1 460.28,140.38 461.31,140.65 462.33,140.91 463.36,141.17 464.39,141.43 465.42,141.66 466.44,141.89 467.47,142.11 468.5,142.32 469.53,142.51 470.56,142.7 471.58,142.87 472.61,143.03 473.64,143.17 474.67,143.31 475.69,143.43 476.72,143.53 477.75,143.63 478.78,143.71 479.81,143.8 480.83,143.89 481.86,143.98 482.89,144.06 483.92,144.13 484.94,144.11 485.97,143.93 487,143.65 488.03,143.35 489.06,143.1 490.08,142.97 491.11,142.95 492.14,142.93 493.17,142.91 494.19,142.9 495.22,142.89 496.25,142.87 497.28,142.86 498.31,142.85 499.33,142.84 500.36,142.84 501.39,142.83 502.42,142.82 503.44,142.82 504.47,142.81 505.5,142.81 506.53,142.81 507.56,142.81 508.58,142.8 509.61,142.8 510.64,142.8 511.67,142.8 512.69,142.8 513.72,142.8 514.75,142.8 515.78,142.79 516.81,142.79 517.83,142.79 518.86,142.79 519.89,142.78 520.92,142.78 521.94,142.78 522.97,142.77 524,142.77" fill="none" stroke="#ff0000" stroke-opacity="0.8" stroke-width="0.5"/>
<polyline points="431.5,136.25 432.53,136.24 433.56,136.2 434.58,136.15 435.61,136.11 436.64,136.08 437.67,136.09 438.69,136.15 439.72,136.28 440.75,136.46 441.78,136.66 442.81,136.87 443.83,137.09 444.86,137.32 445.89,137.56 446.92,137.8 447.94,138.06 448.97,138.31 450,138.58 451.03,138.85 452.06,139.12 453.08,139.4 454.11,139.68 455.14,139.97 456.17,140.26 457.19,140.54 458.22,140.83 459.25,141.12 460.28,141.4 461.31,141.68 462.33,141.96 463.36,142.22 464.39,142.46 465.42,142.69 466.44,142.91 467.47,143.11 468.5,143.3 469.53,143.48 470.56,143.64 471.58,143.79 472.61,143.92 473.64,144.04 474.67,144.14 475.69,144.24 476.72,144.31 477.75,144.38 478.78,144.44 479.81,144.49 480.83,144.55 481.86,144.6 482.89,144.64 483.92,144.68 484.94,144.61 485.97,144.36 487,144.01 488.03,143.64 489.06,143.34 490.08,143.18 491.11,143.15 492.14,143.12 493.17,143.09 494.19,143.07 495.22,143.05 496.25,143.03 497.28,143.01 498.31,143 499.33,142.99 500.36,142.98 501.39,142.97 502.42,142.96 503.44,142.96 504.47,142.96 505.5,142.95 506.53,142.95 507.56,142.95 508.58,142.95 509.61,142.95 510.64,142.96 511.67,142.96 512.69,142.96 513.72,142.96 514.75,142.96 515.78,142.97 516.81,142.97 517.83,142.97 518.86,142.97 519.89,142.97 520.92,142.96 521.94,142.96 522.97,142.96 524,142.95" fill="none" stroke="#ff0000" stroke-opacity="0.8" stroke-width="0.5"/>
<polyline points="431.5,136.83 432.53,136.8 433.56,136.74 434.58,136.66 435.61,136.58 436.64,136.53 437.67,136.52 438.69,136.57 439.72,136.7 440.75,136.9 441.78,137.12 442.81,137.36 443.83,137.61 444.86,137.87 445.89,138.14 446.92,138.43 447.94,138.72 448.97,139.02 450,139.32 451.03,139.63 452.06,139.94 453.08,140.26 454.11,140.58 455.14,140.89 456.17,141.21 457.19,141.52 458.22,141.83 459.25,142.14 460.28,142.43 461.31,142.72 462.33,143 463.36,143.26 464.39,143.5 465.42,143.72 466.44,143.93 467.47,144.12 468.5,144.29 469.53,144.44 470.56,144.58 471.58,144.7 472.61,144.81 473.64,144.9 474.67,144.98 475.69,145.04 476.72,145.09 477.75,145.13 478.78,145.16 479.81,145.18 480.83,145.2 481.86,145.21 482.89,145.22 483.92,145.22 484.94,145.11 485.97,144.79 487,144.38 488.03,143.94 489.06,143.58 490.08,143.39 491.11,143.34 492.14,143.3 493.17,143.27 494.19,143.24 495.22,143.21 496.25,143.19 497.28,143.16 498.31,143.15 499.33,143.13 500.36,143.12 501.39,143.11 502.42,143.11 503.44,143.1 504.47,143.1 505.5,143.1 506.53,143.1 507.56,143.1 508.58,143.1 509.61,143.11 510.64,143.11 511.67,143.12 512.69,143.12 513.72,143.13 514.75,143.13 515.78,143.14 516.81,143.14 517.83,143.14 518.86,143.15 519.89,143.15 520.92,143.15 521.94,143.14 522.97,143.14 524,143.13" fill="none" stroke="#ff0000" stroke-opacity="0.8" stroke-width="0.5"/>
<polyline points="431.5,137.42 432.53,137.36 433.56,137.27 434.58,137.16 435.61,137.05 436.64,136.97 437.67,136.94 438.69,136.99 439.72,137.12 440.75,137.34 441.78,137.59 442.81,137.85 443.83,138.13 444.86,138.42 445.89,138.73 446.92,139.05 447.94,139.38 448.97,139.72 450,140.06 451.03,140.41 452.06,140.76 453.08,141.12 454.11,141.47 455.14,141.82 456.17,142.16 457.19,142.5 458.22,142.83 459.25,143.15 460.28,143.46 461.31,143.76 462.33,144.04 463.36,144.3 464.39,144.54 465.42,144.75 466.44,144.94 467.47,145.12 468.5,145.27 469.53,145.4 470.56,145.52 471.58,145.62 472.61,145.7 473.64,145.77 474.67,145.82 475.69,145.85 476.72,145.87 477.75,145.88 478.78,145.88 479.81,145.87 480.83,145.85 481.86,145.83 482.89,145.8 483.92,145.76 484.94,145.6 485.97,145.23 487,144.74 488.03,144.24 489.06,143.82 490.08,143.6 491.11,143.54 492.14,143.49 493.17,143.45 494.19,143.41 495.22,143.37 496.25,143.34 497.28,143.32 498.31,143.29 499.33,143.28 500.36,143.26 501.39,143.25 502.42,143.25 503.44,143.24 504.47,143.24 505.5,143.24 506.53,143.24 507.56,143.25 508.58,143.25 509.61,143.26 510.64,143.27 511.67,143.28 512.69,143.28 513.72,143.29 514.75,143.3 515.78,143.31 516.81,143.32 517.83,143.32 518.86,143.33 519.89,143.33 520.92,143.33 521.94,143.33 522.97,143.32 524,143.32" fill="none" stroke="#ff0000" stroke-opacity="0.8" stroke-width="0.5"/>
<polyline points="431.5,131 432.53,131.2 433.56,131.42 434.58,131.65 435.61,131.87 436.64,132.08 437.67,132.26 438.69,132.4 439.72,132.49 440.75,132.52 441.78,132.51 442.81,132.48 443.83,132.43 444.86,132.36 445.89,132.28 446.92,132.19 447.94,132.09 448.97,132 450,131.91 451.03,131.82 452.06,131.75 453.08,131.7 454.11,131.66 455.14,131.66 456.17,131.68 457.19,131.73 458.22,131.83 459.25,131.96 460.28,132.14 461.31,132.34 462.33,132.58 463.36,132.84 464.39,133.13 465.42,133.43 466.44,133.76 467.47,134.1 468.5,134.45 469.53,134.81 470.56,135.17 471.58,135.54 472.61,135.9 473.64,136.27 474.67,136.62 475.69,136.97 476.72,137.3 477.75,137.62 478.78,137.94 479.81,138.29 480.83,138.66 481.86,139.04 482.89,139.41 483.92,139.78 484.94,140.13 485.97,140.45 487,140.74 488.03,140.98 489.06,141.17 490.08,141.29 491.11,141.37 492.14,141.44 493.17,141.5 494.19,141.55 495.22,141.59 496.25,141.63 497.28,141.65 498.31,141.67 499.33,141.69 500.36,141.7 501.39,141.7 502.42,141.7 503.44,141.69 504.47,141.68 505.5,141.67 506.53,141.65 507.56,141.63 508.58,141.61 509.61,141.58 510.64,141.56 511.67,141.53 512.69,141.5 513.72,141.47 514.75,141.45 515.78,141.42 516.81,141.4 517.83,141.37 518.86,141.35 519.89,141.34 520.92,141.32 521.94,141.31 522.97,141.3 524,141.3" fill="none" stroke="#ff0000" stroke-width="0.9"/>
<polyline points="431.5,138 432.53,137.92 433.56,137.8 434.58,137.66 435.61,137.52 436.64,137.42 437.67,137.37 438.69,137.4 439.72,137.54 440.75,137.78 441.78,138.05 442.81,138.34 443.83,138.65 444.86,138.97 445.89,139.32 446.92,139.68 447.94,140.04 448.97,140.42 450,140.8 451.03,141.19 452.06,141.58 453.08,141.97 454.11,142.36 455.14,142.74 456.17,143.11 457.19,143.48 458.22,143.83 459.25,144.17 460.28,144.49 461.31,144.8 462.33,145.08 463.36,145.34 464.39,145.57 465.42,145.78 466.44,145.96 467.47,146.12 468.5,146.25 469.53,146.37 470.56,146.46 471.58,146.53 472.61,146.59 473.64,146.63 474.67,146.65 475.69,146.66 476.72,146.65 477.75,146.63 478.78,146.6 479.81,146.56 480.83,146.51 481.86,146.45 482.89,146.38 483.92,146.31 484.94,146.1 485.97,145.66 487,145.1 488.03,144.53 489.06,144.06 490.08,143.81 491.11,143.74 492.14,143.68 493.17,143.62 494.19,143.57 495.22,143.53 496.25,143.5 497.28,143.47 498.31,143.44 499.33,143.42 500.36,143.41 501.39,143.39 502.42,143.39 503.44,143.38 504.47,143.38 505.5,143.38 506.53,143.39 507.56,143.39 508.58,143.4 509.61,143.41 510.64,143.42 511.67,143.43 512.69,143.45 513.72,143.46 514.75,143.47 515.78,143.48 516.81,143.49 517.83,143.5 518.86,143.51 519.89,143.51 520.92,143.51 521.94,143.51 522.97,143.51 524,143.5" fill="none" stroke="#ff0000" stroke-width="0.9"/>
<polygon points="395,168 396.43,166.77 397.87,165.52 399.3,164.27 400.73,163.01 402.17,161.76 403.6,160.53 405.03,159.33 406.47,158.18 407.9,157.07 409.33,156.01 410.77,154.94 412.2,153.9 413.63,152.9 415.07,151.94 416.5,151.05 417.93,150.23 419.37,149.5 420.8,148.88 422.23,148.32 423.67,147.83 425.1,147.44 426.53,147.15 427.97,146.99 429.4,146.99 430.83,147.16 432.27,147.51 433.7,147.97 435.13,148.51 436.57,149.13 438,149.81 439.43,150.54 440.87,151.3 442.3,152.07 443.73,152.86 445.17,153.63 446.6,154.38 448.03,155.1 449.47,155.77 450.9,156.38 452.33,156.91 453.77,157.37 455.2,157.79 456.63,158.17 458.07,158.52 459.5,158.83 460.93,159.1 462.37,159.33 463.8,159.53 465.23,159.69 466.67,159.82 468.1,159.92 469.53,159.99 470.97,160.02 472.4,160.02 473.83,159.99 475.27,159.94 476.7,159.85 478.13,159.75 479.57,159.61 481,159.45 482.43,159.27 483.87,159.07 485.3,158.85 486.73,158.61 488.17,158.35 489.6,158.08 491.03,157.77 492.47,157.39 493.9,156.96 495.33,156.47 496.77,155.95 498.2,155.41 499.63,154.87 501.07,154.33 502.5,153.81 503.93,153.33 505.37,152.89 506.8,152.48 508.23,152.08 509.67,151.69 511.1,151.31 512.53,150.93 513.97,150.56 515.4,150.2 516.83,149.83 518.27,149.47 519.7,149.11 521.13,148.74 522.57,148.37 524,148 524,168 522.57,168 521.13,168 519.7,168 518.27,168 516.83,168 515.4,168 513.97,168 512.53,168 511.1,168 509.67,168 508.23,168 506.8,168 505.37,168 503.93,168 502.5,168 501.07,168 499.63,168 498.2,168 496.77,168 495.33,168 493.9,168 492.47,168 491.03,168 489.6,168 488.17,168 486.73,168 485.3,168 483.87,168 482.43,168 481,168 479.57,168 478.13,168 476.7,168 475.27,168 473.83,168 472.4,168 470.97,168 469.53,168 468.1,168 466.67,168 465.23,168 463.8,168 462.37,168 460.93,168 459.5,168 458.07,168 456.63,168 455.2,168 453.77,168 452.33,168 450.9,168 449.47,168 448.03,168 446.6,168 445.17,168 443.73,168 442.3,168 440.87,168 439.43,168 438,168 436.57,168 435.13,168 433.7,168 432.27,168 430.83,168 429.4,168 427.97,168 426.53,168 425.1,168 423.67,168 422.23,168 420.8,168 419.37,168 417.93,168 416.5,168 415.07,168 413.63,168 412.2,168 410.77,168 409.33,168 407.9,168 406.47,168 405.03,168 403.6,168 402.17,168 400.73,168 399.3,168 397.87,168 396.43,168 395,168" fill="#ff0000" fill-opacity="0.22"/>
<polyline points="395,168 396.43,166.85 397.87,165.68 399.3,164.5 400.73,163.32 402.17,162.15 403.6,161 405.03,159.87 406.47,158.79 407.9,157.76 409.33,156.76 410.77,155.76 412.2,154.79 413.63,153.84 415.07,152.95 416.5,152.11 417.93,151.34 419.37,150.66 420.8,150.07 422.23,149.55 423.67,149.09 425.1,148.72 426.53,148.45 427.97,148.3 429.4,148.3 430.83,148.46 432.27,148.79 433.7,149.22 435.13,149.73 436.57,150.31 438,150.95 439.43,151.63 440.87,152.34 442.3,153.07 443.73,153.8 445.17,154.53 446.6,155.23 448.03,155.91 449.47,156.54 450.9,157.1 452.33,157.6 453.77,158.04 455.2,158.43 456.63,158.79 458.07,159.11 459.5,159.4 460.93,159.65 462.37,159.87 463.8,160.06 465.23,160.21 466.67,160.33 468.1,160.43 469.53,160.49 470.97,160.52 472.4,160.52 473.83,160.49 475.27,160.44 476.7,160.36 478.13,160.26 479.57,160.14 481,159.99 482.43,159.82 483.87,159.63 485.3,159.42 486.73,159.2 488.17,158.96 489.6,158.7 491.03,158.41 492.47,158.06 493.9,157.65 495.33,157.19 496.77,156.7 498.2,156.2 499.63,155.69 501.07,155.18 502.5,154.7 503.93,154.25 505.37,153.84 506.8,153.45 508.23,153.08 509.67,152.71 511.1,152.35 512.53,152 513.97,151.65 515.4,151.31 516.83,150.97 518.27,150.63 519.7,150.29 521.13,149.95 522.57,149.6 524,149.25" fill="none" stroke="#ff0000" stroke-opacity="0.7" stroke-width="0.5"/>
<polyline points="395,168 396.43,166.93 397.87,165.83 399.3,164.73 400.73,163.63 402.17,162.54 403.6,161.46 405.03,160.42 406.47,159.4 407.9,158.44 409.33,157.51 410.77,156.58 412.2,155.67 413.63,154.79 415.07,153.95 416.5,153.17 417.93,152.45 419.37,151.81 420.8,151.27 422.23,150.78 423.67,150.35 425.1,150.01 426.53,149.75 427.97,149.62 429.4,149.61 430.83,149.76 432.27,150.07 433.7,150.47 435.13,150.95 436.57,151.49 438,152.09 439.43,152.72 440.87,153.38 442.3,154.06 443.73,154.75 445.17,155.43 446.6,156.09 448.03,156.71 449.47,157.3 450.9,157.83 452.33,158.3 453.77,158.7 455.2,159.07 456.63,159.4 458.07,159.7 459.5,159.97 460.93,160.21 462.37,160.41 463.8,160.59 465.23,160.73 466.67,160.85 468.1,160.93 469.53,160.99 470.97,161.02 472.4,161.02 473.83,160.99 475.27,160.95 476.7,160.87 478.13,160.78 479.57,160.66 481,160.52 482.43,160.37 483.87,160.19 485.3,160 486.73,159.79 488.17,159.56 489.6,159.32 491.03,159.05 492.47,158.72 493.9,158.34 495.33,157.91 496.77,157.46 498.2,156.99 499.63,156.51 501.07,156.04 502.5,155.59 503.93,155.16 505.37,154.78 506.8,154.42 508.23,154.07 509.67,153.73 511.1,153.39 512.53,153.07 513.97,152.74 515.4,152.42 516.83,152.1 518.27,151.79 519.7,151.47 521.13,151.15 522.57,150.83 524,150.5" fill="none" stroke="#ff0000" stroke-opacity="0.7" stroke-width="0.5"/>
<polyline points="395,168 396.43,167 397.87,165.99 399.3,164.97 400.73,163.94 402.17,162.93 403.6,161.93 405.03,160.96 406.47,160.02 407.9,159.12 409.33,158.25 410.77,157.39 412.2,156.55 413.63,155.73 415.07,154.95 416.5,154.23 417.93,153.56 419.37,152.97 420.8,152.46 422.23,152.01 423.67,151.61 425.1,151.29 426.53,151.06 427.97,150.93 429.4,150.93 430.83,151.06 432.27,151.35 433.7,151.72 435.13,152.17 436.57,152.67 438,153.22 439.43,153.81 440.87,154.43 442.3,155.06 443.73,155.7 445.17,156.32 446.6,156.94 448.03,157.52 449.47,158.06 450.9,158.56 452.33,158.99 453.77,159.36 455.2,159.71 456.63,160.02 458.07,160.3 459.5,160.55 460.93,160.77 462.37,160.96 463.8,161.12 465.23,161.25 466.67,161.36 468.1,161.44 469.53,161.49 470.97,161.52 472.4,161.52 473.83,161.49 475.27,161.45 476.7,161.38 478.13,161.29 479.57,161.18 481,161.06 482.43,160.91 483.87,160.75 485.3,160.57 486.73,160.37 488.17,160.16 489.6,159.94 491.03,159.69 492.47,159.38 493.9,159.03 495.33,158.63 496.77,158.21 498.2,157.77 499.63,157.33 501.07,156.89 502.5,156.47 503.93,156.08 505.37,155.73 506.8,155.39 508.23,155.07 509.67,154.75 511.1,154.44 512.53,154.13 513.97,153.83 515.4,153.54 516.83,153.24 518.27,152.95 519.7,152.65 521.13,152.35 522.57,152.05 524,151.75" fill="none" stroke="#ff0000" stroke-opacity="0.7" stroke-width="0.5"/>
<polyline points="395,168 396.43,167.08 397.87,166.14 399.3,165.2 400.73,164.25 402.17,163.32 403.6,162.4 405.03,161.5 406.47,160.63 407.9,159.81 409.33,159 410.77,158.21 412.2,157.43 413.63,156.67 415.07,155.96 416.5,155.29 417.93,154.67 419.37,154.13 420.8,153.66 422.23,153.24 423.67,152.88 425.1,152.58 426.53,152.36 427.97,152.24 429.4,152.24 430.83,152.37 432.27,152.63 433.7,152.97 435.13,153.39 436.57,153.85 438,154.36 439.43,154.9 440.87,155.47 442.3,156.06 443.73,156.64 445.17,157.22 446.6,157.79 448.03,158.33 449.47,158.83 450.9,159.28 452.33,159.68 453.77,160.03 455.2,160.34 456.63,160.63 458.07,160.89 459.5,161.12 460.93,161.32 462.37,161.5 463.8,161.65 465.23,161.77 466.67,161.87 468.1,161.94 469.53,161.99 470.97,162.01 472.4,162.02 473.83,162 475.27,161.95 476.7,161.89 478.13,161.81 479.57,161.71 481,161.59 482.43,161.46 483.87,161.31 485.3,161.14 486.73,160.96 488.17,160.77 489.6,160.56 491.03,160.33 492.47,160.05 493.9,159.72 495.33,159.35 496.77,158.96 498.2,158.56 499.63,158.15 501.07,157.75 502.5,157.36 503.93,157 505.37,156.67 506.8,156.36 508.23,156.06 509.67,155.77 511.1,155.48 512.53,155.2 513.97,154.92 515.4,154.65 516.83,154.38 518.27,154.1 519.7,153.83 521.13,153.56 522.57,153.28 524,153" fill="none" stroke="#ff0000" stroke-opacity="0.7" stroke-width="0.5"/>
<polyline points="395,168 396.43,167.16 397.87,166.3 399.3,165.43 400.73,164.57 402.17,163.71 403.6,162.86 405.03,162.04 406.47,161.25 407.9,160.49 409.33,159.75 410.77,159.02 412.2,158.31 413.63,157.62 415.07,156.96 416.5,156.35 417.93,155.78 419.37,155.28 420.8,154.85 422.23,154.47 423.67,154.14 425.1,153.86 426.53,153.66 427.97,153.56 429.4,153.55 430.83,153.67 432.27,153.91 433.7,154.23 435.13,154.6 436.57,155.03 438,155.5 439.43,156 440.87,156.52 442.3,157.05 443.73,157.59 445.17,158.12 446.6,158.64 448.03,159.13 449.47,159.59 450.9,160.01 452.33,160.38 453.77,160.69 455.2,160.98 456.63,161.25 458.07,161.48 459.5,161.69 460.93,161.88 462.37,162.04 463.8,162.18 465.23,162.29 466.67,162.38 468.1,162.45 469.53,162.49 470.97,162.51 472.4,162.51 473.83,162.5 475.27,162.46 476.7,162.4 478.13,162.33 479.57,162.23 481,162.13 482.43,162 483.87,161.86 485.3,161.71 486.73,161.55 488.17,161.37 489.6,161.18 491.03,160.97 492.47,160.71 493.9,160.41 495.33,160.07 496.77,159.72 498.2,159.35 499.63,158.97 501.07,158.6 502.5,158.25 503.93,157.91 505.37,157.61 506.8,157.33 508.23,157.06 509.67,156.79 511.1,156.52 512.53,156.27 513.97,156.01 515.4,155.76 516.83,155.51 518.27,155.26 519.7,155.01 521.13,154.76 522.57,154.51 524,154.25" fill="none" stroke="#ff0000" stroke-opacity="0.7" stroke-width="0.5"/>
<polyline points="395,168 396.43,167.23 397.87,166.45 399.3,165.67 400.73,164.88 402.17,164.1 403.6,163.33 405.03,162.58 406.47,161.86 407.9,161.17 409.33,160.5 410.77,159.84 412.2,159.19 413.63,158.56 415.07,157.96 416.5,157.41 417.93,156.89 419.37,156.44 420.8,156.05 422.23,155.7 423.67,155.4 425.1,155.15 426.53,154.97 427.97,154.87 429.4,154.87 430.83,154.97 432.27,155.19 433.7,155.48 435.13,155.82 436.57,156.21 438,156.63 439.43,157.09 440.87,157.56 442.3,158.05 443.73,158.54 445.17,159.02 446.6,159.49 448.03,159.94 449.47,160.36 450.9,160.74 452.33,161.07 453.77,161.36 455.2,161.62 456.63,161.86 458.07,162.07 459.5,162.27 460.93,162.44 462.37,162.58 463.8,162.71 465.23,162.81 466.67,162.89 468.1,162.95 469.53,162.99 470.97,163.01 472.4,163.01 473.83,163 475.27,162.96 476.7,162.91 478.13,162.84 479.57,162.76 481,162.66 482.43,162.55 483.87,162.42 485.3,162.28 486.73,162.13 488.17,161.97 489.6,161.8 491.03,161.61 492.47,161.37 493.9,161.1 495.33,160.79 496.77,160.47 498.2,160.13 499.63,159.79 501.07,159.46 502.5,159.13 503.93,158.83 505.37,158.56 506.8,158.3 508.23,158.05 509.67,157.81 511.1,157.57 512.53,157.33 513.97,157.1 515.4,156.87 516.83,156.65 518.27,156.42 519.7,156.19 521.13,155.96 522.57,155.73 524,155.5" fill="none" stroke="#ff0000" stroke-opacity="0.7" stroke-width="0.5"/>
<polyline points="395,168 396.43,167.31 397.87,166.61 399.3,165.9 400.73,165.19 402.17,164.49 403.6,163.8 405.03,163.12 406.47,162.47 407.9,161.85 409.33,161.25 410.77,160.66 412.2,160.07 413.63,159.51 415.07,158.97 416.5,158.46 417.93,158 419.37,157.6 420.8,157.24 422.23,156.93 423.67,156.66 425.1,156.43 426.53,156.27 427.97,156.18 429.4,156.18 430.83,156.28 432.27,156.47 433.7,156.73 435.13,157.04 436.57,157.39 438,157.77 439.43,158.18 440.87,158.6 442.3,159.04 443.73,159.48 445.17,159.92 446.6,160.34 448.03,160.74 449.47,161.12 450.9,161.46 452.33,161.76 453.77,162.02 455.2,162.26 456.63,162.47 458.07,162.67 459.5,162.84 460.93,162.99 462.37,163.12 463.8,163.24 465.23,163.33 466.67,163.4 468.1,163.46 469.53,163.49 470.97,163.51 472.4,163.51 473.83,163.5 475.27,163.46 476.7,163.42 478.13,163.36 479.57,163.28 481,163.19 482.43,163.09 483.87,162.98 485.3,162.85 486.73,162.72 488.17,162.57 489.6,162.42 491.03,162.25 492.47,162.03 493.9,161.79 495.33,161.51 496.77,161.22 498.2,160.92 499.63,160.61 501.07,160.31 502.5,160.02 503.93,159.75 505.37,159.5 506.8,159.27 508.23,159.05 509.67,158.83 511.1,158.61 512.53,158.4 513.97,158.19 515.4,157.99 516.83,157.78 518.27,157.58 519.7,157.37 521.13,157.17 522.57,156.96 524,156.75" fill="none" stroke="#ff0000" stroke-opacity="0.7" stroke-width="0.5"/>
<polyline points="395,168 396.43,167.39 397.87,166.76 399.3,166.13 400.73,165.5 402.17,164.88 403.6,164.26 405.03,163.67 406.47,163.09 407.9,162.54 409.33,162 410.77,161.47 412.2,160.95 413.63,160.45 415.07,159.97 416.5,159.52 417.93,159.12 419.37,158.75 420.8,158.44 422.23,158.16 423.67,157.92 425.1,157.72 426.53,157.57 427.97,157.49 429.4,157.49 430.83,157.58 432.27,157.75 433.7,157.98 435.13,158.26 436.57,158.57 438,158.91 439.43,159.27 440.87,159.65 442.3,160.04 443.73,160.43 445.17,160.82 446.6,161.19 448.03,161.55 449.47,161.89 450.9,162.19 452.33,162.46 453.77,162.69 455.2,162.9 456.63,163.09 458.07,163.26 459.5,163.41 460.93,163.55 462.37,163.67 463.8,163.76 465.23,163.85 466.67,163.91 468.1,163.96 469.53,163.99 470.97,164.01 472.4,164.01 473.83,164 475.27,163.97 476.7,163.93 478.13,163.87 479.57,163.81 481,163.73 482.43,163.64 483.87,163.54 485.3,163.43 486.73,163.31 488.17,163.18 489.6,163.04 491.03,162.89 492.47,162.7 493.9,162.48 495.33,162.23 496.77,161.98 498.2,161.71 499.63,161.43 501.07,161.16 502.5,160.91 503.93,160.66 505.37,160.45 506.8,160.24 508.23,160.04 509.67,159.84 511.1,159.65 512.53,159.47 513.97,159.28 515.4,159.1 516.83,158.92 518.27,158.74 519.7,158.55 521.13,158.37 522.57,158.19 524,158" fill="none" stroke="#ff0000" stroke-opacity="0.7" stroke-width="0.5"/>
<polyline points="395,168 396.43,167.46 397.87,166.92 399.3,166.37 400.73,165.82 402.17,165.27 403.6,164.73 405.03,164.21 406.47,163.7 407.9,163.22 409.33,162.75 410.77,162.29 412.2,161.83 413.63,161.39 415.07,160.97 416.5,160.58 417.93,160.23 419.37,159.91 420.8,159.63 422.23,159.39 423.67,159.18 425.1,159 426.53,158.88 427.97,158.81 429.4,158.81 430.83,158.88 432.27,159.03 433.7,159.24 435.13,159.47 436.57,159.75 438,160.04 439.43,160.36 440.87,160.69 442.3,161.03 443.73,161.37 445.17,161.71 446.6,162.04 448.03,162.36 449.47,162.65 450.9,162.92 452.33,163.15 453.77,163.35 455.2,163.53 456.63,163.7 458.07,163.85 459.5,163.99 460.93,164.1 462.37,164.21 463.8,164.29 465.23,164.37 466.67,164.42 468.1,164.47 469.53,164.49 470.97,164.51 472.4,164.51 473.83,164.5 475.27,164.47 476.7,164.44 478.13,164.39 479.57,164.33 481,164.26 482.43,164.18 483.87,164.09 485.3,164 486.73,163.89 488.17,163.78 489.6,163.66 491.03,163.53 492.47,163.36 493.9,163.17 495.33,162.96 496.77,162.73 498.2,162.49 499.63,162.25 501.07,162.02 502.5,161.79 503.93,161.58 505.37,161.39 506.8,161.21 508.23,161.04 509.67,160.86 511.1,160.7 512.53,160.53 513.97,160.37 515.4,160.21 516.83,160.05 518.27,159.89 519.7,159.73 521.13,159.58 522.57,159.41 524,159.25" fill="none" stroke="#ff0000" stroke-opacity="0.7" stroke-width="0.5"/>
<polyline points="395,168 396.43,167.54 397.87,167.07 399.3,166.6 400.73,166.13 402.17,165.66 403.6,165.2 405.03,164.75 406.47,164.32 407.9,163.9 409.33,163.5 410.77,163.1 412.2,162.71 413.63,162.34 415.07,161.98 416.5,161.64 417.93,161.34 419.37,161.06 420.8,160.83 422.23,160.62 423.67,160.44 425.1,160.29 426.53,160.18 427.97,160.12 429.4,160.12 430.83,160.18 432.27,160.31 433.7,160.49 435.13,160.69 436.57,160.93 438,161.18 439.43,161.45 440.87,161.74 442.3,162.03 443.73,162.32 445.17,162.61 446.6,162.89 448.03,163.16 449.47,163.41 450.9,163.64 452.33,163.84 453.77,164.01 455.2,164.17 456.63,164.32 458.07,164.44 459.5,164.56 460.93,164.66 462.37,164.75 463.8,164.82 465.23,164.89 466.67,164.93 468.1,164.97 469.53,164.99 470.97,165.01 472.4,165.01 473.83,165 475.27,164.98 476.7,164.95 478.13,164.9 479.57,164.85 481,164.8 482.43,164.73 483.87,164.65 485.3,164.57 486.73,164.48 488.17,164.38 489.6,164.28 491.03,164.16 492.47,164.02 493.9,163.86 495.33,163.68 496.77,163.48 498.2,163.28 499.63,163.07 501.07,162.87 502.5,162.68 503.93,162.5 505.37,162.33 506.8,162.18 508.23,162.03 509.67,161.88 511.1,161.74 512.53,161.6 513.97,161.46 515.4,161.32 516.83,161.19 518.27,161.05 519.7,160.92 521.13,160.78 522.57,160.64 524,160.5" fill="none" stroke="#ff0000" stroke-opacity="0.7" stroke-width="0.5"/>
<polyline points="395,168 396.43,167.62 397.87,167.23 399.3,166.83 400.73,166.44 402.17,166.05 403.6,165.67 405.03,165.29 406.47,164.93 407.9,164.59 409.33,164.25 410.77,163.92 412.2,163.6 413.63,163.28 415.07,162.98 416.5,162.7 417.93,162.45 419.37,162.22 420.8,162.02 422.23,161.85 423.67,161.7 425.1,161.57 426.53,161.48 427.97,161.43 429.4,161.43 430.83,161.49 432.27,161.6 433.7,161.74 435.13,161.91 436.57,162.1 438,162.32 439.43,162.54 440.87,162.78 442.3,163.02 443.73,163.27 445.17,163.51 446.6,163.74 448.03,163.97 449.47,164.18 450.9,164.37 452.33,164.53 453.77,164.68 455.2,164.81 456.63,164.93 458.07,165.04 459.5,165.13 460.93,165.22 462.37,165.29 463.8,165.35 465.23,165.4 466.67,165.44 468.1,165.48 469.53,165.5 470.97,165.51 472.4,165.51 473.83,165.5 475.27,165.48 476.7,165.45 478.13,165.42 479.57,165.38 481,165.33 482.43,165.27 483.87,165.21 485.3,165.14 486.73,165.07 488.17,164.99 489.6,164.9 491.03,164.8 492.47,164.69 493.9,164.55 495.33,164.4 496.77,164.23 498.2,164.07 499.63,163.9 501.07,163.73 502.5,163.57 503.93,163.42 505.37,163.28 506.8,163.15 508.23,163.03 509.67,162.9 511.1,162.78 512.53,162.67 513.97,162.55 515.4,162.44 516.83,162.32 518.27,162.21 519.7,162.1 521.13,161.98 522.57,161.87 524,161.75" fill="none" stroke="#ff0000" stroke-opacity="0.7" stroke-width="0.5"/>
<polyline points="395,168 396.43,167.69 397.87,167.38 399.3,167.07 400.73,166.75 402.17,166.44 403.6,166.13 405.03,165.83 406.47,165.54 407.9,165.27 409.33,165 410.77,164.74 412.2,164.48 413.63,164.22 415.07,163.99 416.5,163.76 417.93,163.56 419.37,163.38 420.8,163.22 422.23,163.08 423.67,162.96 425.1,162.86 426.53,162.79 427.97,162.75 429.4,162.75 430.83,162.79 432.27,162.88 433.7,162.99 435.13,163.13 436.57,163.28 438,163.45 439.43,163.63 440.87,163.82 442.3,164.02 443.73,164.21 445.17,164.41 446.6,164.6 448.03,164.78 449.47,164.94 450.9,165.09 452.33,165.23 453.77,165.34 455.2,165.45 456.63,165.54 458.07,165.63 459.5,165.71 460.93,165.77 462.37,165.83 463.8,165.88 465.23,165.92 466.67,165.96 468.1,165.98 469.53,166 470.97,166 472.4,166.01 473.83,166 475.27,165.98 476.7,165.96 478.13,165.94 479.57,165.9 481,165.86 482.43,165.82 483.87,165.77 485.3,165.71 486.73,165.65 488.17,165.59 489.6,165.52 491.03,165.44 492.47,165.35 493.9,165.24 495.33,165.12 496.77,164.99 498.2,164.85 499.63,164.72 501.07,164.58 502.5,164.45 503.93,164.33 505.37,164.22 506.8,164.12 508.23,164.02 509.67,163.92 511.1,163.83 512.53,163.73 513.97,163.64 515.4,163.55 516.83,163.46 518.27,163.37 519.7,163.28 521.13,163.19 522.57,163.09 524,163" fill="none" stroke="#ff0000" stroke-opacity="0.7" stroke-width="0.5"/>
<polyline points="395,168 396.43,167.77 397.87,167.54 399.3,167.3 400.73,167.06 402.17,166.83 403.6,166.6 405.03,166.37 406.47,166.16 407.9,165.95 409.33,165.75 410.77,165.55 412.2,165.36 413.63,165.17 415.07,164.99 416.5,164.82 417.93,164.67 419.37,164.53 420.8,164.41 422.23,164.31 423.67,164.22 425.1,164.14 426.53,164.09 427.97,164.06 429.4,164.06 430.83,164.09 432.27,164.16 433.7,164.24 435.13,164.35 436.57,164.46 438,164.59 439.43,164.73 440.87,164.87 442.3,165.01 443.73,165.16 445.17,165.31 446.6,165.45 448.03,165.58 449.47,165.71 450.9,165.82 452.33,165.92 453.77,166.01 455.2,166.09 456.63,166.16 458.07,166.22 459.5,166.28 460.93,166.33 462.37,166.37 463.8,166.41 465.23,166.44 466.67,166.47 468.1,166.49 469.53,166.5 470.97,166.5 472.4,166.5 473.83,166.5 475.27,166.49 476.7,166.47 478.13,166.45 479.57,166.43 481,166.4 482.43,166.36 483.87,166.33 485.3,166.28 486.73,166.24 488.17,166.19 489.6,166.14 491.03,166.08 492.47,166.01 493.9,165.93 495.33,165.84 496.77,165.74 498.2,165.64 499.63,165.54 501.07,165.44 502.5,165.34 503.93,165.25 505.37,165.17 506.8,165.09 508.23,165.02 509.67,164.94 511.1,164.87 512.53,164.8 513.97,164.73 515.4,164.66 516.83,164.59 518.27,164.53 519.7,164.46 521.13,164.39 522.57,164.32 524,164.25" fill="none" stroke="#ff0000" stroke-opacity="0.7" stroke-width="0.5"/>
<polyline points="395,168 396.43,167.85 397.87,167.69 399.3,167.53 400.73,167.38 402.17,167.22 403.6,167.07 405.03,166.92 406.47,166.77 407.9,166.63 409.33,166.5 410.77,166.37 412.2,166.24 413.63,166.11 415.07,165.99 416.5,165.88 417.93,165.78 419.37,165.69 420.8,165.61 422.23,165.54 423.67,165.48 425.1,165.43 426.53,165.39 427.97,165.37 429.4,165.37 430.83,165.39 432.27,165.44 433.7,165.5 435.13,165.56 436.57,165.64 438,165.73 439.43,165.82 440.87,165.91 442.3,166.01 443.73,166.11 445.17,166.2 446.6,166.3 448.03,166.39 449.47,166.47 450.9,166.55 452.33,166.61 453.77,166.67 455.2,166.72 456.63,166.77 458.07,166.81 459.5,166.85 460.93,166.89 462.37,166.92 463.8,166.94 465.23,166.96 466.67,166.98 468.1,166.99 469.53,167 470.97,167 472.4,167 473.83,167 475.27,166.99 476.7,166.98 478.13,166.97 479.57,166.95 481,166.93 482.43,166.91 483.87,166.88 485.3,166.86 486.73,166.83 488.17,166.79 489.6,166.76 491.03,166.72 492.47,166.67 493.9,166.62 495.33,166.56 496.77,166.49 498.2,166.43 499.63,166.36 501.07,166.29 502.5,166.23 503.93,166.17 505.37,166.11 506.8,166.06 508.23,166.01 509.67,165.96 511.1,165.91 512.53,165.87 513.97,165.82 515.4,165.77 516.83,165.73 518.27,165.68 519.7,165.64 521.13,165.59 522.57,165.55 524,165.5" fill="none" stroke="#ff0000" stroke-opacity="0.7" stroke-width="0.5"/>
<polyline points="395,168 396.43,167.92 397.87,167.85 399.3,167.77 400.73,167.69 402.17,167.61 403.6,167.53 405.03,167.46 406.47,167.39 407.9,167.32 409.33,167.25 410.77,167.18 412.2,167.12 413.63,167.06 415.07,167 416.5,166.94 417.93,166.89 419.37,166.84 420.8,166.8 422.23,166.77 423.67,166.74 425.1,166.71 426.53,166.7 427.97,166.69 429.4,166.69 430.83,166.7 432.27,166.72 433.7,166.75 435.13,166.78 436.57,166.82 438,166.86 439.43,166.91 440.87,166.96 442.3,167 443.73,167.05 445.17,167.1 446.6,167.15 448.03,167.19 449.47,167.24 450.9,167.27 452.33,167.31 453.77,167.34 455.2,167.36 456.63,167.39 458.07,167.41 459.5,167.43 460.93,167.44 462.37,167.46 463.8,167.47 465.23,167.48 466.67,167.49 468.1,167.5 469.53,167.5 470.97,167.5 472.4,167.5 473.83,167.5 475.27,167.5 476.7,167.49 478.13,167.48 479.57,167.48 481,167.47 482.43,167.45 483.87,167.44 485.3,167.43 486.73,167.41 488.17,167.4 489.6,167.38 491.03,167.36 492.47,167.34 493.9,167.31 495.33,167.28 496.77,167.25 498.2,167.21 499.63,167.18 501.07,167.15 502.5,167.11 503.93,167.08 505.37,167.06 506.8,167.03 508.23,167.01 509.67,166.98 511.1,166.96 512.53,166.93 513.97,166.91 515.4,166.89 516.83,166.86 518.27,166.84 519.7,166.82 521.13,166.8 522.57,166.77 524,166.75" fill="none" stroke="#ff0000" stroke-opacity="0.7" stroke-width="0.5"/>
<polyline points="395,168 396.43,166.77 397.87,165.52 399.3,164.27 400.73,163.01 402.17,161.76 403.6,160.53 405.03,159.33 406.47,158.18 407.9,157.07 409.33,156.01 410.77,154.94 412.2,153.9 413.63,152.9 415.07,151.94 416.5,151.05 417.93,150.23 419.37,149.5 420.8,148.88 422.23,148.32 423.67,147.83 425.1,147.44 426.53,147.15 427.97,146.99 429.4,146.99 430.83,147.16 432.27,147.51 433.7,147.97 435.13,148.51 436.57,149.13 438,149.81 439.43,150.54 440.87,151.3 442.3,152.07 443.73,152.86 445.17,153.63 446.6,154.38 448.03,155.1 449.47,155.77 450.9,156.38 452.33,156.91 453.77,157.37 455.2,157.79 456.63,158.17 458.07,158.52 459.5,158.83 460.93,159.1 462.37,159.33 463.8,159.53 465.23,159.69 466.67,159.82 468.1,159.92 469.53,159.99 470.97,160.02 472.4,160.02 473.83,159.99 475.27,159.94 476.7,159.85 478.13,159.75 479.57,159.61 481,159.45 482.43,159.27 483.87,159.07 485.3,158.85 486.73,158.61 488.17,158.35 489.6,158.08 491.03,157.77 492.47,157.39 493.9,156.96 495.33,156.47 496.77,155.95 498.2,155.41 499.63,154.87 501.07,154.33 502.5,153.81 503.93,153.33 505.37,152.89 506.8,152.48 508.23,152.08 509.67,151.69 511.1,151.31 512.53,150.93 513.97,150.56 515.4,150.2 516.83,149.83 518.27,149.47 519.7,149.11 521.13,148.74 522.57,148.37 524,148" fill="none" stroke="#ff0000" stroke-width="0.9"/>
<polyline points="395,168 396.43,168 397.87,168 399.3,168 400.73,168 402.17,168 403.6,168 405.03,168 406.47,168 407.9,168 409.33,168 410.77,168 412.2,168 413.63,168 415.07,168 416.5,168 417.93,168 419.37,168 420.8,168 422.23,168 423.67,168 425.1,168 426.53,168 427.97,168 429.4,168 430.83,168 432.27,168 433.7,168 435.13,168 436.57,168 438,168 439.43,168 440.87,168 442.3,168 443.73,168 445.17,168 446.6,168 448.03,168 449.47,168 450.9,168 452.33,168 453.77,168 455.2,168 456.63,168 458.07,168 459.5,168 460.93,168 462.37,168 463.8,168 465.23,168 466.67,168 468.1,168 469.53,168 470.97,168 472.4,168 473.83,168 475.27,168 476.7,168 478.13,168 479.57,168 481,168 482.43,168 483.87,168 485.3,168 486.73,168 488.17,168 489.6,168 491.03,168 492.47,168 493.9,168 495.33,168 496.77,168 498.2,168 499.63,168 501.07,168 502.5,168 503.93,168 505.37,168 506.8,168 508.23,168 509.67,168 511.1,168 512.53,168 513.97,168 515.4,168 516.83,168 518.27,168 519.7,168 521.13,168 522.57,168 524,168" fill="none" stroke="#ff0000" stroke-width="0.9"/>
<polygon points="490.2,142.6 490.58,142.59 490.95,142.58 491.33,142.57 491.7,142.56 492.08,142.55 492.45,142.54 492.83,142.53 493.2,142.52 493.58,142.51 493.96,142.5 494.33,142.49 494.71,142.47 495.08,142.46 495.46,142.45 495.83,142.44 496.21,142.43 496.58,142.42 496.96,142.41 497.34,142.4 497.71,142.39 498.09,142.38 498.46,142.37 498.84,142.36 499.21,142.35 499.59,142.34 499.96,142.33 500.34,142.32 500.72,142.31 501.09,142.3 501.47,142.29 501.84,142.28 502.22,142.27 502.59,142.26 502.97,142.25 503.34,142.24 503.72,142.23 504.1,142.22 504.47,142.21 504.85,142.2 505.22,142.19 505.6,142.19 505.97,142.18 506.35,142.17 506.72,142.16 507.1,142.15 507.48,142.14 507.85,142.13 508.23,142.13 508.6,142.12 508.98,142.11 509.35,142.1 509.73,142.09 510.1,142.09 510.48,142.08 510.86,142.07 511.23,142.06 511.61,142.05 511.98,142.05 512.36,142.04 512.73,142.03 513.11,142.02 513.48,142.01 513.86,142.01 514.24,142 514.61,141.99 514.99,141.98 515.36,141.98 515.74,141.97 516.11,141.96 516.49,141.95 516.86,141.95 517.24,141.94 517.62,141.93 517.99,141.92 518.37,141.92 518.74,141.91 519.12,141.9 519.49,141.89 519.87,141.89 520.24,141.88 520.62,141.87 521,141.86 521.37,141.85 521.75,141.85 522.12,141.84 522.5,141.83 522.87,141.82 523.25,141.82 523.62,141.81 524,141.8 524,166.5 523.62,166.14 523.25,165.79 522.87,165.43 522.5,165.07 522.12,164.7 521.75,164.34 521.37,163.98 521,163.61 520.62,163.25 520.24,162.88 519.87,162.52 519.49,162.16 519.12,161.8 518.74,161.44 518.37,161.08 517.99,160.72 517.62,160.37 517.24,160.02 516.86,159.67 516.49,159.33 516.11,158.99 515.74,158.65 515.36,158.32 514.99,157.99 514.61,157.66 514.24,157.33 513.86,157 513.48,156.67 513.11,156.34 512.73,156.01 512.36,155.68 511.98,155.35 511.61,155.02 511.23,154.69 510.86,154.37 510.48,154.05 510.1,153.73 509.73,153.41 509.35,153.1 508.98,152.8 508.6,152.5 508.23,152.21 507.85,151.92 507.48,151.64 507.1,151.37 506.72,151.1 506.35,150.85 505.97,150.6 505.6,150.36 505.22,150.13 504.85,149.91 504.47,149.7 504.1,149.49 503.72,149.29 503.34,149.09 502.97,148.9 502.59,148.71 502.22,148.52 501.84,148.34 501.47,148.17 501.09,148 500.72,147.83 500.34,147.66 499.96,147.5 499.59,147.34 499.21,147.18 498.84,147.02 498.46,146.87 498.09,146.72 497.71,146.57 497.34,146.42 496.96,146.27 496.58,146.13 496.21,145.98 495.83,145.84 495.46,145.7 495.08,145.55 494.71,145.41 494.33,145.26 493.96,145.12 493.58,144.97 493.2,144.83 492.83,144.68 492.45,144.53 492.08,144.38 491.7,144.23 491.33,144.08 490.95,143.92 490.58,143.76 490.2,143.6" fill="#ff0000" fill-opacity="0.35"/>
<polyline points="490.2,142.67 490.58,142.67 490.95,142.68 491.33,142.68 491.7,142.68 492.08,142.68 492.45,142.68 492.83,142.68 493.2,142.68 493.58,142.68 493.96,142.68 494.33,142.68 494.71,142.68 495.08,142.68 495.46,142.69 495.83,142.69 496.21,142.69 496.58,142.69 496.96,142.69 497.34,142.69 497.71,142.69 498.09,142.69 498.46,142.69 498.84,142.69 499.21,142.69 499.59,142.7 499.96,142.7 500.34,142.7 500.72,142.7 501.09,142.71 501.47,142.71 501.84,142.71 502.22,142.72 502.59,142.72 502.97,142.72 503.34,142.73 503.72,142.74 504.1,142.74 504.47,142.75 504.85,142.75 505.22,142.76 505.6,142.77 505.97,142.78 506.35,142.79 506.72,142.8 507.1,142.81 507.48,142.82 507.85,142.83 508.23,142.85 508.6,142.86 508.98,142.87 509.35,142.89 509.73,142.9 510.1,142.92 510.48,142.93 510.86,142.95 511.23,142.96 511.61,142.98 511.98,143 512.36,143.01 512.73,143.03 513.11,143.04 513.48,143.06 513.86,143.08 514.24,143.09 514.61,143.11 514.99,143.13 515.36,143.14 515.74,143.16 516.11,143.18 516.49,143.19 516.86,143.21 517.24,143.23 517.62,143.25 517.99,143.27 518.37,143.28 518.74,143.3 519.12,143.32 519.49,143.34 519.87,143.36 520.24,143.38 520.62,143.4 521,143.42 521.37,143.43 521.75,143.45 522.12,143.47 522.5,143.49 522.87,143.51 523.25,143.53 523.62,143.55 524,143.56" fill="none" stroke="#ff0000" stroke-opacity="0.8" stroke-width="0.5"/>
<polyline points="490.2,142.74 490.58,142.76 490.95,142.77 491.33,142.78 491.7,142.8 492.08,142.81 492.45,142.82 492.83,142.84 493.2,142.85 493.58,142.86 493.96,142.87 494.33,142.88 494.71,142.89 495.08,142.91 495.46,142.92 495.83,142.93 496.21,142.94 496.58,142.95 496.96,142.96 497.34,142.98 497.71,142.99 498.09,143 498.46,143.01 498.84,143.03 499.21,143.04 499.59,143.05 499.96,143.07 500.34,143.08 500.72,143.1 501.09,143.11 501.47,143.13 501.84,143.15 502.22,143.16 502.59,143.18 502.97,143.2 503.34,143.22 503.72,143.24 504.1,143.26 504.47,143.28 504.85,143.3 505.22,143.33 505.6,143.35 505.97,143.38 506.35,143.41 506.72,143.44 507.1,143.47 507.48,143.5 507.85,143.53 508.23,143.57 508.6,143.6 508.98,143.64 509.35,143.67 509.73,143.71 510.1,143.75 510.48,143.79 510.86,143.83 511.23,143.87 511.61,143.91 511.98,143.95 512.36,143.99 512.73,144.03 513.11,144.07 513.48,144.11 513.86,144.15 514.24,144.19 514.61,144.23 514.99,144.27 515.36,144.31 515.74,144.35 516.11,144.39 516.49,144.44 516.86,144.48 517.24,144.52 517.62,144.56 517.99,144.61 518.37,144.65 518.74,144.7 519.12,144.74 519.49,144.79 519.87,144.83 520.24,144.88 520.62,144.92 521,144.97 521.37,145.01 521.75,145.06 522.12,145.11 522.5,145.15 522.87,145.2 523.25,145.24 523.62,145.28 524,145.33" fill="none" stroke="#ff0000" stroke-opacity="0.8" stroke-width="0.5"/>
<polyline points="490.2,142.81 490.58,142.84 490.95,142.87 491.33,142.89 491.7,142.92 492.08,142.94 492.45,142.97 492.83,142.99 493.2,143.01 493.58,143.04 493.96,143.06 494.33,143.08 494.71,143.1 495.08,143.13 495.46,143.15 495.83,143.17 496.21,143.19 496.58,143.22 496.96,143.24 497.34,143.26 497.71,143.29 498.09,143.31 498.46,143.33 498.84,143.36 499.21,143.38 499.59,143.41 499.96,143.44 500.34,143.46 500.72,143.49 501.09,143.52 501.47,143.55 501.84,143.58 502.22,143.61 502.59,143.64 502.97,143.67 503.34,143.71 503.72,143.74 504.1,143.78 504.47,143.82 504.85,143.86 505.22,143.9 505.6,143.94 505.97,143.98 506.35,144.03 506.72,144.08 507.1,144.13 507.48,144.18 507.85,144.23 508.23,144.29 508.6,144.34 508.98,144.4 509.35,144.46 509.73,144.52 510.1,144.58 510.48,144.64 510.86,144.7 511.23,144.77 511.61,144.83 511.98,144.9 512.36,144.96 512.73,145.03 513.11,145.09 513.48,145.16 513.86,145.22 514.24,145.28 514.61,145.35 514.99,145.41 515.36,145.48 515.74,145.54 516.11,145.61 516.49,145.68 516.86,145.74 517.24,145.81 517.62,145.88 517.99,145.95 518.37,146.02 518.74,146.09 519.12,146.16 519.49,146.24 519.87,146.31 520.24,146.38 520.62,146.45 521,146.52 521.37,146.59 521.75,146.67 522.12,146.74 522.5,146.81 522.87,146.88 523.25,146.95 523.62,147.02 524,147.09" fill="none" stroke="#ff0000" stroke-opacity="0.8" stroke-width="0.5"/>
<polyline points="490.2,142.89 490.58,142.92 490.95,142.96 491.33,143 491.7,143.04 492.08,143.07 492.45,143.11 492.83,143.14 493.2,143.18 493.58,143.21 493.96,143.25 494.33,143.28 494.71,143.31 495.08,143.35 495.46,143.38 495.83,143.41 496.21,143.45 496.58,143.48 496.96,143.52 497.34,143.55 497.71,143.58 498.09,143.62 498.46,143.66 498.84,143.69 499.21,143.73 499.59,143.77 499.96,143.81 500.34,143.84 500.72,143.89 501.09,143.93 501.47,143.97 501.84,144.01 502.22,144.06 502.59,144.1 502.97,144.15 503.34,144.2 503.72,144.25 504.1,144.3 504.47,144.35 504.85,144.41 505.22,144.46 505.6,144.52 505.97,144.58 506.35,144.65 506.72,144.72 507.1,144.78 507.48,144.86 507.85,144.93 508.23,145.01 508.6,145.08 508.98,145.16 509.35,145.25 509.73,145.33 510.1,145.41 510.48,145.5 510.86,145.58 511.23,145.67 511.61,145.76 511.98,145.85 512.36,145.93 512.73,146.02 513.11,146.11 513.48,146.2 513.86,146.29 514.24,146.38 514.61,146.47 514.99,146.56 515.36,146.64 515.74,146.73 516.11,146.83 516.49,146.92 516.86,147.01 517.24,147.1 517.62,147.2 517.99,147.29 518.37,147.39 518.74,147.49 519.12,147.59 519.49,147.68 519.87,147.78 520.24,147.88 520.62,147.98 521,148.08 521.37,148.17 521.75,148.27 522.12,148.37 522.5,148.47 522.87,148.57 523.25,148.66 523.62,148.76 524,148.86" fill="none" stroke="#ff0000" stroke-opacity="0.8" stroke-width="0.5"/>
<polyline points="490.2,142.96 490.58,143.01 490.95,143.06 491.33,143.11 491.7,143.16 492.08,143.2 492.45,143.25 492.83,143.3 493.2,143.34 493.58,143.39 493.96,143.43 494.33,143.48 494.71,143.52 495.08,143.57 495.46,143.61 495.83,143.66 496.21,143.7 496.58,143.75 496.96,143.79 497.34,143.84 497.71,143.88 498.09,143.93 498.46,143.98 498.84,144.03 499.21,144.07 499.59,144.12 499.96,144.17 500.34,144.23 500.72,144.28 501.09,144.33 501.47,144.39 501.84,144.45 502.22,144.5 502.59,144.56 502.97,144.62 503.34,144.69 503.72,144.75 504.1,144.82 504.47,144.89 504.85,144.96 505.22,145.03 505.6,145.11 505.97,145.18 506.35,145.27 506.72,145.35 507.1,145.44 507.48,145.54 507.85,145.63 508.23,145.73 508.6,145.83 508.98,145.93 509.35,146.03 509.73,146.14 510.1,146.24 510.48,146.35 510.86,146.46 511.23,146.57 511.61,146.68 511.98,146.8 512.36,146.91 512.73,147.02 513.11,147.14 513.48,147.25 513.86,147.36 514.24,147.48 514.61,147.59 514.99,147.7 515.36,147.81 515.74,147.93 516.11,148.04 516.49,148.16 516.86,148.28 517.24,148.4 517.62,148.52 517.99,148.64 518.37,148.76 518.74,148.88 519.12,149.01 519.49,149.13 519.87,149.25 520.24,149.38 520.62,149.5 521,149.63 521.37,149.75 521.75,149.88 522.12,150 522.5,150.13 522.87,150.25 523.25,150.38 523.62,150.5 524,150.62" fill="none" stroke="#ff0000" stroke-opacity="0.8" stroke-width="0.5"/>
<polyline points="490.2,143.03 490.58,143.09 490.95,143.15 491.33,143.21 491.7,143.27 492.08,143.33 492.45,143.39 492.83,143.45 493.2,143.51 493.58,143.56 493.96,143.62 494.33,143.68 494.71,143.73 495.08,143.79 495.46,143.84 495.83,143.9 496.21,143.95 496.58,144.01 496.96,144.07 497.34,144.12 497.71,144.18 498.09,144.24 498.46,144.3 498.84,144.36 499.21,144.42 499.59,144.48 499.96,144.54 500.34,144.61 500.72,144.67 501.09,144.74 501.47,144.81 501.84,144.88 502.22,144.95 502.59,145.02 502.97,145.1 503.34,145.18 503.72,145.26 504.1,145.34 504.47,145.42 504.85,145.51 505.22,145.6 505.6,145.69 505.97,145.79 506.35,145.89 506.72,145.99 507.1,146.1 507.48,146.21 507.85,146.33 508.23,146.45 508.6,146.57 508.98,146.69 509.35,146.82 509.73,146.95 510.1,147.08 510.48,147.21 510.86,147.34 511.23,147.47 511.61,147.61 511.98,147.75 512.36,147.88 512.73,148.02 513.11,148.16 513.48,148.3 513.86,148.43 514.24,148.57 514.61,148.71 514.99,148.84 515.36,148.98 515.74,149.12 516.11,149.26 516.49,149.4 516.86,149.54 517.24,149.69 517.62,149.83 517.99,149.98 518.37,150.13 518.74,150.28 519.12,150.43 519.49,150.58 519.87,150.73 520.24,150.88 520.62,151.03 521,151.18 521.37,151.34 521.75,151.49 522.12,151.64 522.5,151.79 522.87,151.94 523.25,152.09 523.62,152.24 524,152.39" fill="none" stroke="#ff0000" stroke-opacity="0.8" stroke-width="0.5"/>
<polyline points="490.2,143.1 490.58,143.18 490.95,143.25 491.33,143.32 491.7,143.39 492.08,143.46 492.45,143.53 492.83,143.6 493.2,143.67 493.58,143.74 493.96,143.81 494.33,143.87 494.71,143.94 495.08,144.01 495.46,144.07 495.83,144.14 496.21,144.21 496.58,144.28 496.96,144.34 497.34,144.41 497.71,144.48 498.09,144.55 498.46,144.62 498.84,144.69 499.21,144.76 499.59,144.84 499.96,144.91 500.34,144.99 500.72,145.07 501.09,145.15 501.47,145.23 501.84,145.31 502.22,145.4 502.59,145.48 502.97,145.57 503.34,145.67 503.72,145.76 504.1,145.86 504.47,145.96 504.85,146.06 505.22,146.16 505.6,146.27 505.97,146.39 506.35,146.51 506.72,146.63 507.1,146.76 507.48,146.89 507.85,147.03 508.23,147.17 508.6,147.31 508.98,147.46 509.35,147.6 509.73,147.75 510.1,147.91 510.48,148.06 510.86,148.22 511.23,148.38 511.61,148.54 511.98,148.7 512.36,148.86 512.73,149.02 513.11,149.18 513.48,149.34 513.86,149.5 514.24,149.67 514.61,149.83 514.99,149.99 515.36,150.15 515.74,150.31 516.11,150.47 516.49,150.64 516.86,150.81 517.24,150.98 517.62,151.15 517.99,151.32 518.37,151.5 518.74,151.67 519.12,151.85 519.49,152.03 519.87,152.2 520.24,152.38 520.62,152.56 521,152.74 521.37,152.92 521.75,153.09 522.12,153.27 522.5,153.45 522.87,153.63 523.25,153.8 523.62,153.98 524,154.15" fill="none" stroke="#ff0000" stroke-opacity="0.8" stroke-width="0.5"/>
<polyline points="490.2,143.17 490.58,143.26 490.95,143.35 491.33,143.43 491.7,143.51 492.08,143.6 492.45,143.68 492.83,143.76 493.2,143.84 493.58,143.92 493.96,143.99 494.33,144.07 494.71,144.15 495.08,144.23 495.46,144.31 495.83,144.38 496.21,144.46 496.58,144.54 496.96,144.62 497.34,144.7 497.71,144.78 498.09,144.86 498.46,144.94 498.84,145.03 499.21,145.11 499.59,145.2 499.96,145.28 500.34,145.37 500.72,145.46 501.09,145.55 501.47,145.65 501.84,145.75 502.22,145.84 502.59,145.94 502.97,146.05 503.34,146.15 503.72,146.26 504.1,146.38 504.47,146.49 504.85,146.61 505.22,146.73 505.6,146.86 505.97,146.99 506.35,147.13 506.72,147.27 507.1,147.42 507.48,147.57 507.85,147.73 508.23,147.89 508.6,148.05 508.98,148.22 509.35,148.39 509.73,148.56 510.1,148.74 510.48,148.92 510.86,149.1 511.23,149.28 511.61,149.46 511.98,149.65 512.36,149.83 512.73,150.02 513.11,150.2 513.48,150.39 513.86,150.58 514.24,150.76 514.61,150.95 514.99,151.13 515.36,151.31 515.74,151.5 516.11,151.69 516.49,151.88 516.86,152.07 517.24,152.27 517.62,152.47 517.99,152.67 518.37,152.87 518.74,153.07 519.12,153.27 519.49,153.47 519.87,153.68 520.24,153.88 520.62,154.09 521,154.29 521.37,154.5 521.75,154.7 522.12,154.9 522.5,155.11 522.87,155.31 523.25,155.51 523.62,155.71 524,155.91" fill="none" stroke="#ff0000" stroke-opacity="0.8" stroke-width="0.5"/>
<polyline points="490.2,143.24 490.58,143.34 490.95,143.44 491.33,143.54 491.7,143.63 492.08,143.73 492.45,143.82 492.83,143.91 493.2,144 493.58,144.09 493.96,144.18 494.33,144.27 494.71,144.36 495.08,144.45 495.46,144.54 495.83,144.63 496.21,144.72 496.58,144.8 496.96,144.9 497.34,144.99 497.71,145.08 498.09,145.17 498.46,145.26 498.84,145.36 499.21,145.45 499.59,145.55 499.96,145.65 500.34,145.75 500.72,145.86 501.09,145.96 501.47,146.07 501.84,146.18 502.22,146.29 502.59,146.41 502.97,146.52 503.34,146.64 503.72,146.77 504.1,146.89 504.47,147.02 504.85,147.16 505.22,147.3 505.6,147.44 505.97,147.59 506.35,147.75 506.72,147.91 507.1,148.08 507.48,148.25 507.85,148.43 508.23,148.61 508.6,148.79 508.98,148.98 509.35,149.18 509.73,149.37 510.1,149.57 510.48,149.77 510.86,149.97 511.23,150.18 511.61,150.39 511.98,150.6 512.36,150.81 512.73,151.02 513.11,151.23 513.48,151.44 513.86,151.65 514.24,151.86 514.61,152.06 514.99,152.27 515.36,152.48 515.74,152.69 516.11,152.91 516.49,153.12 516.86,153.34 517.24,153.56 517.62,153.78 517.99,154.01 518.37,154.24 518.74,154.46 519.12,154.69 519.49,154.92 519.87,155.15 520.24,155.38 520.62,155.61 521,155.84 521.37,156.08 521.75,156.31 522.12,156.54 522.5,156.77 522.87,157 523.25,157.23 523.62,157.45 524,157.68" fill="none" stroke="#ff0000" stroke-opacity="0.8" stroke-width="0.5"/>
<polyline points="490.2,143.31 490.58,143.43 490.95,143.54 491.33,143.65 491.7,143.75 492.08,143.86 492.45,143.96 492.83,144.06 493.2,144.17 493.58,144.27 493.96,144.37 494.33,144.47 494.71,144.57 495.08,144.67 495.46,144.77 495.83,144.87 496.21,144.97 496.58,145.07 496.96,145.17 497.34,145.27 497.71,145.38 498.09,145.48 498.46,145.58 498.84,145.69 499.21,145.8 499.59,145.91 499.96,146.02 500.34,146.13 500.72,146.25 501.09,146.37 501.47,146.49 501.84,146.61 502.22,146.74 502.59,146.87 502.97,147 503.34,147.13 503.72,147.27 504.1,147.41 504.47,147.56 504.85,147.71 505.22,147.86 505.6,148.02 505.97,148.19 506.35,148.37 506.72,148.55 507.1,148.74 507.48,148.93 507.85,149.13 508.23,149.33 508.6,149.53 508.98,149.75 509.35,149.96 509.73,150.18 510.1,150.4 510.48,150.63 510.86,150.85 511.23,151.08 511.61,151.31 511.98,151.55 512.36,151.78 512.73,152.01 513.11,152.25 513.48,152.48 513.86,152.72 514.24,152.95 514.61,153.18 514.99,153.42 515.36,153.65 515.74,153.88 516.11,154.12 516.49,154.36 516.86,154.61 517.24,154.85 517.62,155.1 517.99,155.35 518.37,155.6 518.74,155.86 519.12,156.11 519.49,156.37 519.87,156.62 520.24,156.88 520.62,157.14 521,157.4 521.37,157.66 521.75,157.91 522.12,158.17 522.5,158.43 522.87,158.68 523.25,158.94 523.62,159.19 524,159.44" fill="none" stroke="#ff0000" stroke-opacity="0.8" stroke-width="0.5"/>
<polyline points="490.2,143.39 490.58,143.51 490.95,143.63 491.33,143.75 491.7,143.87 492.08,143.99 492.45,144.1 492.83,144.22 493.2,144.33 493.58,144.44 493.96,144.56 494.33,144.67 494.71,144.78 495.08,144.89 495.46,145 495.83,145.11 496.21,145.22 496.58,145.33 496.96,145.45 497.34,145.56 497.71,145.67 498.09,145.79 498.46,145.91 498.84,146.02 499.21,146.14 499.59,146.27 499.96,146.39 500.34,146.52 500.72,146.64 501.09,146.78 501.47,146.91 501.84,147.04 502.22,147.18 502.59,147.33 502.97,147.47 503.34,147.62 503.72,147.78 504.1,147.93 504.47,148.09 504.85,148.26 505.22,148.43 505.6,148.61 505.97,148.79 506.35,148.99 506.72,149.19 507.1,149.39 507.48,149.61 507.85,149.82 508.23,150.05 508.6,150.28 508.98,150.51 509.35,150.75 509.73,150.99 510.1,151.23 510.48,151.48 510.86,151.73 511.23,151.98 511.61,152.24 511.98,152.5 512.36,152.75 512.73,153.01 513.11,153.27 513.48,153.53 513.86,153.79 514.24,154.05 514.61,154.3 514.99,154.56 515.36,154.82 515.74,155.08 516.11,155.34 516.49,155.6 516.86,155.87 517.24,156.14 517.62,156.42 517.99,156.69 518.37,156.97 518.74,157.25 519.12,157.53 519.49,157.82 519.87,158.1 520.24,158.38 520.62,158.67 521,158.95 521.37,159.24 521.75,159.52 522.12,159.8 522.5,160.09 522.87,160.37 523.25,160.65 523.62,160.93 524,161.21" fill="none" stroke="#ff0000" stroke-opacity="0.8" stroke-width="0.5"/>
<polyline points="490.2,143.46 490.58,143.59 490.95,143.73 491.33,143.86 491.7,143.99 492.08,144.12 492.45,144.25 492.83,144.37 493.2,144.5 493.58,144.62 493.96,144.74 494.33,144.87 494.71,144.99 495.08,145.11 495.46,145.23 495.83,145.35 496.21,145.48 496.58,145.6 496.96,145.72 497.34,145.85 497.71,145.97 498.09,146.1 498.46,146.23 498.84,146.36 499.21,146.49 499.59,146.62 499.96,146.76 500.34,146.9 500.72,147.04 501.09,147.18 501.47,147.33 501.84,147.48 502.22,147.63 502.59,147.79 502.97,147.95 503.34,148.11 503.72,148.28 504.1,148.45 504.47,148.63 504.85,148.81 505.22,149 505.6,149.19 505.97,149.4 506.35,149.61 506.72,149.83 507.1,150.05 507.48,150.28 507.85,150.52 508.23,150.77 508.6,151.02 508.98,151.27 509.35,151.53 509.73,151.8 510.1,152.06 510.48,152.34 510.86,152.61 511.23,152.89 511.61,153.17 511.98,153.45 512.36,153.73 512.73,154.01 513.11,154.29 513.48,154.58 513.86,154.86 514.24,155.14 514.61,155.42 514.99,155.7 515.36,155.98 515.74,156.27 516.11,156.55 516.49,156.85 516.86,157.14 517.24,157.44 517.62,157.74 517.99,158.04 518.37,158.34 518.74,158.65 519.12,158.95 519.49,159.26 519.87,159.57 520.24,159.88 520.62,160.19 521,160.5 521.37,160.82 521.75,161.13 522.12,161.44 522.5,161.75 522.87,162.05 523.25,162.36 523.62,162.67 524,162.97" fill="none" stroke="#ff0000" stroke-opacity="0.8" stroke-width="0.5"/>
<polyline points="490.2,143.53 490.58,143.68 490.95,143.82 491.33,143.97 491.7,144.11 492.08,144.25 492.45,144.39 492.83,144.53 493.2,144.66 493.58,144.8 493.96,144.93 494.33,145.06 494.71,145.2 495.08,145.33 495.46,145.46 495.83,145.6 496.21,145.73 496.58,145.86 496.96,146 497.34,146.13 497.71,146.27 498.09,146.41 498.46,146.55 498.84,146.69 499.21,146.83 499.59,146.98 499.96,147.13 500.34,147.28 500.72,147.43 501.09,147.59 501.47,147.75 501.84,147.91 502.22,148.08 502.59,148.25 502.97,148.42 503.34,148.6 503.72,148.78 504.1,148.97 504.47,149.16 504.85,149.36 505.22,149.56 505.6,149.78 505.97,150 506.35,150.23 506.72,150.46 507.1,150.71 507.48,150.96 507.85,151.22 508.23,151.49 508.6,151.76 508.98,152.04 509.35,152.32 509.73,152.61 510.1,152.9 510.48,153.19 510.86,153.49 511.23,153.79 511.61,154.09 511.98,154.4 512.36,154.7 512.73,155.01 513.11,155.32 513.48,155.62 513.86,155.93 514.24,156.24 514.61,156.54 514.99,156.85 515.36,157.15 515.74,157.46 516.11,157.77 516.49,158.09 516.86,158.41 517.24,158.73 517.62,159.05 517.99,159.38 518.37,159.71 518.74,160.04 519.12,160.38 519.49,160.71 519.87,161.05 520.24,161.38 520.62,161.72 521,162.06 521.37,162.4 521.75,162.73 522.12,163.07 522.5,163.41 522.87,163.74 523.25,164.07 523.62,164.41 524,164.74" fill="none" stroke="#ff0000" stroke-opacity="0.8" stroke-width="0.5"/>
<polyline points="490.2,142.6 490.58,142.59 490.95,142.58 491.33,142.57 491.7,142.56 492.08,142.55 492.45,142.54 492.83,142.53 493.2,142.52 493.58,142.51 493.96,142.5 494.33,142.49 494.71,142.47 495.08,142.46 495.46,142.45 495.83,142.44 496.21,142.43 496.58,142.42 496.96,142.41 497.34,142.4 497.71,142.39 498.09,142.38 498.46,142.37 498.84,142.36 499.21,142.35 499.59,142.34 499.96,142.33 500.34,142.32 500.72,142.31 501.09,142.3 501.47,142.29 501.84,142.28 502.22,142.27 502.59,142.26 502.97,142.25 503.34,142.24 503.72,142.23 504.1,142.22 504.47,142.21 504.85,142.2 505.22,142.19 505.6,142.19 505.97,142.18 506.35,142.17 506.72,142.16 507.1,142.15 507.48,142.14 507.85,142.13 508.23,142.13 508.6,142.12 508.98,142.11 509.35,142.1 509.73,142.09 510.1,142.09 510.48,142.08 510.86,142.07 511.23,142.06 511.61,142.05 511.98,142.05 512.36,142.04 512.73,142.03 513.11,142.02 513.48,142.01 513.86,142.01 514.24,142 514.61,141.99 514.99,141.98 515.36,141.98 515.74,141.97 516.11,141.96 516.49,141.95 516.86,141.95 517.24,141.94 517.62,141.93 517.99,141.92 518.37,141.92 518.74,141.91 519.12,141.9 519.49,141.89 519.87,141.89 520.24,141.88 520.62,141.87 521,141.86 521.37,141.85 521.75,141.85 522.12,141.84 522.5,141.83 522.87,141.82 523.25,141.82 523.62,141.81 524,141.8" fill="none" stroke="#ff0000" stroke-width="0.9"/>
<polyline points="490.2,143.6 490.58,143.76 490.95,143.92 491.33,144.08 491.7,144.23 492.08,144.38 492.45,144.53 492.83,144.68 493.2,144.83 493.58,144.97 493.96,145.12 494.33,145.26 494.71,145.41 495.08,145.55 495.46,145.7 495.83,145.84 496.21,145.98 496.58,146.13 496.96,146.27 497.34,146.42 497.71,146.57 498.09,146.72 498.46,146.87 498.84,147.02 499.21,147.18 499.59,147.34 499.96,147.5 500.34,147.66 500.72,147.83 501.09,148 501.47,148.17 501.84,148.34 502.22,148.52 502.59,148.71 502.97,148.9 503.34,149.09 503.72,149.29 504.1,149.49 504.47,149.7 504.85,149.91 505.22,150.13 505.6,150.36 505.97,150.6 506.35,150.85 506.72,151.1 507.1,151.37 507.48,151.64 507.85,151.92 508.23,152.21 508.6,152.5 508.98,152.8 509.35,153.1 509.73,153.41 510.1,153.73 510.48,154.05 510.86,154.37 511.23,154.69 511.61,155.02 511.98,155.35 512.36,155.68 512.73,156.01 513.11,156.34 513.48,156.67 513.86,157 514.24,157.33 514.61,157.66 514.99,157.99 515.36,158.32 515.74,158.65 516.11,158.99 516.49,159.33 516.86,159.67 517.24,160.02 517.62,160.37 517.99,160.72 518.37,161.08 518.74,161.44 519.12,161.8 519.49,162.16 519.87,162.52 520.24,162.88 520.62,163.25 521,163.61 521.37,163.98 521.75,164.34 522.12,164.7 522.5,165.07 522.87,165.43 523.25,165.79 523.62,166.14 524,166.5" fill="none" stroke="#ff0000" stroke-width="0.9"/>
<polygon points="366,168 367.61,166.98 369.22,165.95 370.83,164.92 372.44,163.89 374.06,162.85 375.67,161.82 377.28,160.79 378.89,159.76 380.5,158.73 382.11,157.7 383.72,156.68 385.33,155.66 386.94,154.65 388.56,153.64 390.17,152.63 391.78,151.64 393.39,150.65 395,149.69 396.61,148.75 398.22,147.82 399.83,146.9 401.44,145.99 403.06,145.09 404.67,144.19 406.28,143.27 407.89,142.34 409.5,141.4 411.11,140.45 412.72,139.52 414.33,138.61 415.94,137.73 417.56,136.89 419.17,136.1 420.78,135.38 422.39,134.72 424,134.11 425.61,133.59 427.22,133.15 428.83,132.81 430.44,132.58 432.06,132.49 433.67,132.63 435.28,132.96 436.89,133.44 438.5,133.99 440.11,134.54 441.72,135.1 443.33,135.69 444.94,136.32 446.56,136.97 448.17,137.63 449.78,138.31 451.39,138.99 453,139.67 454.61,140.35 456.22,141.04 457.83,141.75 459.44,142.46 461.06,143.18 462.67,143.92 464.28,144.66 465.89,145.42 467.5,146.21 469.11,147.03 470.72,147.85 472.33,148.67 473.94,149.49 475.56,150.29 477.17,151.05 478.78,151.78 480.39,152.48 482,153.15 483.61,153.8 485.22,154.44 486.83,155.09 488.44,155.75 490.06,156.44 491.67,157.13 493.28,157.8 494.89,158.48 496.5,159.16 498.11,159.87 499.72,160.62 501.33,161.42 502.94,162.28 504.56,163.27 506.17,164.4 507.78,165.6 509.39,166.82 511,168 511,168 509.39,168 507.78,168 506.17,168 504.56,167.43 502.94,166.76 501.33,166.04 499.72,165.31 498.11,164.58 496.5,163.84 494.89,163.1 493.28,162.37 491.67,161.64 490.06,160.94 488.44,160.25 486.83,159.59 485.22,158.94 483.61,158.3 482,157.65 480.39,156.98 478.78,156.28 477.17,155.55 475.56,154.79 473.94,153.99 472.33,153.17 470.72,152.35 469.11,151.53 467.5,150.71 465.89,149.92 464.28,149.16 462.67,148.42 461.06,147.68 459.44,146.96 457.83,146.25 456.22,145.54 454.61,144.85 453,144.17 451.39,143.49 449.78,142.8 448.17,142.11 446.56,141.43 444.94,140.77 443.33,140.15 441.72,139.56 440.11,139.03 438.5,138.55 436.89,138.1 435.28,137.75 433.67,137.52 432.06,137.47 430.44,137.6 428.83,137.85 427.22,138.19 425.61,138.62 424,139.13 422.39,139.72 420.78,140.38 419.17,141.1 417.56,141.89 415.94,142.73 414.33,143.61 412.72,144.52 411.11,145.45 409.5,146.4 407.89,147.34 406.28,148.27 404.67,149.19 403.06,150.09 401.44,151 399.83,151.91 398.22,152.83 396.61,153.75 395,154.7 393.39,155.66 391.78,156.64 390.17,157.63 388.56,158.64 386.94,159.66 385.33,160.69 383.72,161.73 382.11,162.77 380.5,163.81 378.89,164.85 377.28,165.89 375.67,166.93 374.06,167.96 372.44,168 370.83,168 369.22,168 367.61,168 366,168" fill="#ff0000" fill-opacity="0.75"/>
<polyline points="366,168 367.61,167.18 369.22,166.36 370.83,165.53 372.44,164.71 374.06,163.88 375.67,162.84 377.28,161.81 378.89,160.78 380.5,159.75 382.11,158.72 383.72,157.69 385.33,156.67 386.94,155.65 388.56,154.64 390.17,153.63 391.78,152.64 393.39,151.65 395,150.69 396.61,149.75 398.22,148.82 399.83,147.9 401.44,147 403.06,146.09 404.67,145.19 406.28,144.27 407.89,143.34 409.5,142.4 411.11,141.45 412.72,140.52 414.33,139.61 415.94,138.73 417.56,137.89 419.17,137.1 420.78,136.38 422.39,135.72 424,135.12 425.61,134.59 427.22,134.16 428.83,133.82 430.44,133.59 432.06,133.48 433.67,133.6 435.28,133.92 436.89,134.37 438.5,134.9 440.11,135.44 441.72,135.99 443.33,136.58 444.94,137.21 446.56,137.86 448.17,138.53 449.78,139.21 451.39,139.89 453,140.57 454.61,141.25 456.22,141.94 457.83,142.65 459.44,143.36 461.06,144.08 462.67,144.82 464.28,145.56 465.89,146.32 467.5,147.11 469.11,147.93 470.72,148.75 472.33,149.57 473.94,150.39 475.56,151.19 477.17,151.95 478.78,152.68 480.39,153.38 482,154.05 483.61,154.7 485.22,155.34 486.83,155.99 488.44,156.65 490.06,157.34 491.67,158.03 493.28,158.72 494.89,159.4 496.5,160.1 498.11,160.81 499.72,161.56 501.33,162.34 502.94,163.18 504.56,164.1 506.17,165.12 507.78,166.08 509.39,167.06 511,168" fill="none" stroke="#ff0000" stroke-opacity="0.55" stroke-width="0.5"/>
<polyline points="366,168 367.61,167.39 369.22,166.77 370.83,166.15 372.44,165.53 374.06,164.9 375.67,163.87 377.28,162.83 378.89,161.8 380.5,160.76 382.11,159.73 383.72,158.7 385.33,157.67 386.94,156.65 388.56,155.64 390.17,154.63 391.78,153.64 393.39,152.66 395,151.69 396.61,150.75 398.22,149.82 399.83,148.91 401.44,148 403.06,147.09 404.67,146.19 406.28,145.27 407.89,144.34 409.5,143.4 411.11,142.45 412.72,141.52 414.33,140.61 415.94,139.73 417.56,138.89 419.17,138.1 420.78,137.38 422.39,136.72 424,136.12 425.61,135.6 427.22,135.17 428.83,134.83 430.44,134.59 432.06,134.48 433.67,134.58 435.28,134.88 436.89,135.31 438.5,135.81 440.11,136.34 441.72,136.88 443.33,137.47 444.94,138.1 446.56,138.75 448.17,139.42 449.78,140.1 451.39,140.79 453,141.47 454.61,142.15 456.22,142.84 457.83,143.55 459.44,144.26 461.06,144.98 462.67,145.72 464.28,146.46 465.89,147.22 467.5,148.01 469.11,148.83 470.72,149.65 472.33,150.47 473.94,151.29 475.56,152.09 477.17,152.85 478.78,153.58 480.39,154.28 482,154.95 483.61,155.6 485.22,156.24 486.83,156.89 488.44,157.55 490.06,158.24 491.67,158.93 493.28,159.63 494.89,160.33 496.5,161.03 498.11,161.75 499.72,162.5 501.33,163.27 502.94,164.07 504.56,164.94 506.17,165.84 507.78,166.56 509.39,167.29 511,168" fill="none" stroke="#ff0000" stroke-opacity="0.55" stroke-width="0.5"/>
<polyline points="366,168 367.61,167.59 369.22,167.18 370.83,166.77 372.44,166.35 374.06,165.92 375.67,164.89 377.28,163.85 378.89,162.81 380.5,161.78 382.11,160.74 383.72,159.71 385.33,158.68 386.94,157.66 388.56,156.64 390.17,155.63 391.78,154.64 393.39,153.66 395,152.7 396.61,151.75 398.22,150.82 399.83,149.91 401.44,149 403.06,148.09 404.67,147.19 406.28,146.27 407.89,145.34 409.5,144.4 411.11,143.45 412.72,142.52 414.33,141.61 415.94,140.73 417.56,139.89 419.17,139.1 420.78,138.38 422.39,137.72 424,137.13 425.61,136.61 427.22,136.17 428.83,135.83 430.44,135.6 432.06,135.48 433.67,135.56 435.28,135.83 436.89,136.24 438.5,136.72 440.11,137.24 441.72,137.78 443.33,138.36 444.94,138.99 446.56,139.64 448.17,140.32 449.78,141 451.39,141.69 453,142.37 454.61,143.05 456.22,143.74 457.83,144.45 459.44,145.16 461.06,145.88 462.67,146.62 464.28,147.36 465.89,148.12 467.5,148.91 469.11,149.73 470.72,150.55 472.33,151.37 473.94,152.19 475.56,152.99 477.17,153.75 478.78,154.48 480.39,155.18 482,155.85 483.61,156.5 485.22,157.14 486.83,157.79 488.44,158.45 490.06,159.14 491.67,159.84 493.28,160.54 494.89,161.25 496.5,161.97 498.11,162.7 499.72,163.44 501.33,164.19 502.94,164.97 504.56,165.77 506.17,166.56 507.78,167.04 509.39,167.53 511,168" fill="none" stroke="#ff0000" stroke-opacity="0.55" stroke-width="0.5"/>
<polyline points="366,168 367.61,167.8 369.22,167.59 370.83,167.38 372.44,167.18 374.06,166.94 375.67,165.91 377.28,164.87 378.89,163.83 380.5,162.79 382.11,161.75 383.72,160.72 385.33,159.68 386.94,158.66 388.56,157.64 390.17,156.63 391.78,155.64 393.39,154.66 395,153.7 396.61,152.75 398.22,151.82 399.83,150.91 401.44,150 403.06,149.09 404.67,148.19 406.28,147.27 407.89,146.34 409.5,145.4 411.11,144.45 412.72,143.52 414.33,142.61 415.94,141.73 417.56,140.89 419.17,140.1 420.78,139.38 422.39,138.72 424,138.13 425.61,137.61 427.22,137.18 428.83,136.84 430.44,136.6 432.06,136.47 433.67,136.54 435.28,136.79 436.89,137.17 438.5,137.63 440.11,138.13 441.72,138.67 443.33,139.26 444.94,139.88 446.56,140.54 448.17,141.21 449.78,141.9 451.39,142.59 453,143.27 454.61,143.95 456.22,144.64 457.83,145.35 459.44,146.06 461.06,146.78 462.67,147.52 464.28,148.26 465.89,149.02 467.5,149.81 469.11,150.63 470.72,151.45 472.33,152.27 473.94,153.09 475.56,153.89 477.17,154.65 478.78,155.38 480.39,156.08 482,156.75 483.61,157.4 485.22,158.04 486.83,158.69 488.44,159.35 490.06,160.04 491.67,160.74 493.28,161.45 494.89,162.17 496.5,162.9 498.11,163.64 499.72,164.38 501.33,165.12 502.94,165.87 504.56,166.6 506.17,167.28 507.78,167.52 509.39,167.76 511,168" fill="none" stroke="#ff0000" stroke-opacity="0.55" stroke-width="0.5"/>
<polyline points="366,168 367.61,166.98 369.22,165.95 370.83,164.92 372.44,163.89 374.06,162.85 375.67,161.82 377.28,160.79 378.89,159.76 380.5,158.73 382.11,157.7 383.72,156.68 385.33,155.66 386.94,154.65 388.56,153.64 390.17,152.63 391.78,151.64 393.39,150.65 395,149.69 396.61,148.75 398.22,147.82 399.83,146.9 401.44,145.99 403.06,145.09 404.67,144.19 406.28,143.27 407.89,142.34 409.5,141.4 411.11,140.45 412.72,139.52 414.33,138.61 415.94,137.73 417.56,136.89 419.17,136.1 420.78,135.38 422.39,134.72 424,134.11 425.61,133.59 427.22,133.15 428.83,132.81 430.44,132.58 432.06,132.49 433.67,132.63 435.28,132.96 436.89,133.44 438.5,133.99 440.11,134.54 441.72,135.1 443.33,135.69 444.94,136.32 446.56,136.97 448.17,137.63 449.78,138.31 451.39,138.99 453,139.67 454.61,140.35 456.22,141.04 457.83,141.75 459.44,142.46 461.06,143.18 462.67,143.92 464.28,144.66 465.89,145.42 467.5,146.21 469.11,147.03 470.72,147.85 472.33,148.67 473.94,149.49 475.56,150.29 477.17,151.05 478.78,151.78 480.39,152.48 482,153.15 483.61,153.8 485.22,154.44 486.83,155.09 488.44,155.75 490.06,156.44 491.67,157.13 493.28,157.8 494.89,158.48 496.5,159.16 498.11,159.87 499.72,160.62 501.33,161.42 502.94,162.28 504.56,163.27 506.17,164.4 507.78,165.6 509.39,166.82 511,168" fill="none" stroke="#ff0000" stroke-width="0.9"/>
<polyline points="366,168 367.61,168 369.22,168 370.83,168 372.44,168 374.06,167.96 375.67,166.93 377.28,165.89 378.89,164.85 380.5,163.81 382.11,162.77 383.72,161.73 385.33,160.69 386.94,159.66 388.56,158.64 390.17,157.63 391.78,156.64 393.39,155.66 395,154.7 396.61,153.75 398.22,152.83 399.83,151.91 401.44,151 403.06,150.09 404.67,149.19 406.28,148.27 407.89,147.34 409.5,146.4 411.11,145.45 412.72,144.52 414.33,143.61 415.94,142.73 417.56,141.89 419.17,141.1 420.78,140.38 422.39,139.72 424,139.13 425.61,138.62 427.22,138.19 428.83,137.85 430.44,137.6 432.06,137.47 433.67,137.52 435.28,137.75 436.89,138.1 438.5,138.55 440.11,139.03 441.72,139.56 443.33,140.15 444.94,140.77 446.56,141.43 448.17,142.11 449.78,142.8 451.39,143.49 453,144.17 454.61,144.85 456.22,145.54 457.83,146.25 459.44,146.96 461.06,147.68 462.67,148.42 464.28,149.16 465.89,149.92 467.5,150.71 469.11,151.53 470.72,152.35 472.33,153.17 473.94,153.99 475.56,154.79 477.17,155.55 478.78,156.28 480.39,156.98 482,157.65 483.61,158.3 485.22,158.94 486.83,159.59 488.44,160.25 490.06,160.94 491.67,161.64 493.28,162.37 494.89,163.1 496.5,163.84 498.11,164.58 499.72,165.31 501.33,166.04 502.94,166.76 504.56,167.43 506.17,168 507.78,168 509.39,168 511,168" fill="none" stroke="#ff0000" stroke-width="0.9"/>
<polygon points="386,168 387.07,167.18 388.14,166.35 389.22,165.52 390.29,164.71 391.36,163.94 392.43,163.21 393.51,162.5 394.58,161.79 395.65,161.09 396.72,160.39 397.79,159.7 398.87,159 399.94,158.32 401.01,157.63 402.08,156.95 403.16,156.27 404.23,155.59 405.3,154.92 406.37,154.25 407.44,153.58 408.52,152.92 409.59,152.25 410.66,151.59 411.73,150.94 412.81,150.3 413.88,149.66 414.95,149.03 416.02,148.4 417.09,147.78 418.17,147.16 419.24,146.55 420.31,145.95 421.38,145.34 422.46,144.74 423.53,144.1 424.6,143.44 425.67,142.77 426.74,142.12 427.82,141.51 428.89,140.96 429.96,140.49 431.03,140.12 432.11,139.88 433.18,139.74 434.25,139.7 435.32,139.76 436.39,139.89 437.47,140.09 438.54,140.36 439.61,140.67 440.68,141.04 441.76,141.44 442.83,141.89 443.9,142.37 444.97,142.89 446.04,143.43 447.12,143.99 448.19,144.56 449.26,145.15 450.33,145.75 451.41,146.34 452.48,146.93 453.55,147.53 454.62,148.14 455.69,148.78 456.77,149.42 457.84,150.08 458.91,150.74 459.98,151.41 461.06,152.08 462.13,152.75 463.2,153.41 464.27,154.06 465.34,154.7 466.42,155.32 467.49,155.91 468.56,156.49 469.63,157.06 470.71,157.63 471.78,158.21 472.85,158.81 473.92,159.44 474.99,160.1 476.07,160.81 477.14,161.58 478.21,162.44 479.28,163.64 480.36,165.07 481.43,166.57 482.5,168 482.5,168 481.43,168 480.36,168 479.28,168 478.21,166.62 477.14,165.62 476.07,164.93 474.99,164.26 473.92,163.61 472.85,162.98 471.78,162.36 470.71,161.76 469.63,161.15 468.56,160.55 467.49,159.95 466.42,159.33 465.34,158.7 464.27,158.06 463.2,157.41 462.13,156.74 461.06,156.07 459.98,155.4 458.91,154.73 457.84,154.06 456.77,153.41 455.69,152.76 454.62,152.13 453.55,151.52 452.48,150.93 451.41,150.35 450.33,149.76 449.26,149.17 448.19,148.59 447.12,148.02 446.04,147.47 444.97,146.94 443.9,146.45 442.83,145.99 441.76,145.57 440.68,145.21 439.61,144.89 438.54,144.66 437.47,144.5 436.39,144.42 435.32,144.41 434.25,144.48 433.18,144.62 432.11,144.84 431.03,145.14 429.96,145.53 428.89,146.02 427.82,146.57 426.74,147.17 425.67,147.81 424.6,148.46 423.53,149.11 422.46,149.74 421.38,150.34 420.31,150.94 419.24,151.54 418.17,152.14 417.09,152.75 416.02,153.36 414.95,153.98 413.88,154.61 412.81,155.25 411.73,155.91 410.66,156.58 409.59,157.27 408.52,157.97 407.44,158.68 406.37,159.4 405.3,160.13 404.23,160.86 403.16,161.61 402.08,162.35 401.01,163.1 399.94,163.86 398.87,164.61 397.79,165.36 396.72,166.11 395.65,166.86 394.58,167.6 393.51,168 392.43,168 391.36,168 390.29,168 389.22,168 388.14,168 387.07,168 386,168" fill="#ff0000" fill-opacity="0.75"/>
<polyline points="386,168 387.07,167.35 388.14,166.68 389.22,166.02 390.29,165.37 391.36,164.75 392.43,164.17 393.51,163.6 394.58,162.96 395.65,162.24 396.72,161.54 397.79,160.83 398.87,160.12 399.94,159.42 401.01,158.72 402.08,158.03 403.16,157.34 404.23,156.65 405.3,155.96 406.37,155.28 407.44,154.6 408.52,153.93 409.59,153.26 410.66,152.59 411.73,151.93 412.81,151.29 413.88,150.65 414.95,150.02 416.02,149.39 417.09,148.77 418.17,148.16 419.24,147.55 420.31,146.95 421.38,146.34 422.46,145.74 423.53,145.1 424.6,144.44 425.67,143.78 426.74,143.13 427.82,142.52 428.89,141.97 429.96,141.5 431.03,141.13 432.11,140.87 433.18,140.72 434.25,140.66 435.32,140.69 436.39,140.79 437.47,140.97 438.54,141.22 439.61,141.52 440.68,141.87 441.76,142.27 442.83,142.71 443.9,143.19 444.97,143.7 446.04,144.24 447.12,144.79 448.19,145.37 449.26,145.96 450.33,146.55 451.41,147.14 452.48,147.73 453.55,148.33 454.62,148.94 455.69,149.57 456.77,150.22 457.84,150.88 458.91,151.54 459.98,152.21 461.06,152.88 462.13,153.55 463.2,154.21 464.27,154.86 465.34,155.5 466.42,156.12 467.49,156.72 468.56,157.3 469.63,157.88 470.71,158.45 471.78,159.04 472.85,159.64 473.92,160.27 474.99,160.93 476.07,161.64 477.14,162.39 478.21,163.28 479.28,164.51 480.36,165.65 481.43,166.86 482.5,168" fill="none" stroke="#ff0000" stroke-opacity="0.55" stroke-width="0.5"/>
<polyline points="386,168 387.07,167.51 388.14,167.01 389.22,166.51 390.29,166.03 391.36,165.56 392.43,165.13 393.51,164.7 394.58,164.12 395.65,163.4 396.72,162.68 397.79,161.96 398.87,161.25 399.94,160.53 401.01,159.82 402.08,159.11 403.16,158.4 404.23,157.7 405.3,157 406.37,156.31 407.44,155.62 408.52,154.94 409.59,154.26 410.66,153.59 411.73,152.93 412.81,152.28 413.88,151.64 414.95,151.01 416.02,150.38 417.09,149.77 418.17,149.15 419.24,148.55 420.31,147.94 421.38,147.34 422.46,146.74 423.53,146.1 424.6,145.45 425.67,144.78 426.74,144.14 427.82,143.53 428.89,142.98 429.96,142.51 431.03,142.13 432.11,141.86 433.18,141.69 434.25,141.61 435.32,141.62 436.39,141.7 437.47,141.85 438.54,142.08 439.61,142.36 440.68,142.7 441.76,143.1 442.83,143.53 443.9,144 444.97,144.51 446.04,145.04 447.12,145.6 448.19,146.17 449.26,146.76 450.33,147.35 451.41,147.94 452.48,148.53 453.55,149.13 454.62,149.74 455.69,150.37 456.77,151.02 457.84,151.67 458.91,152.34 459.98,153.01 461.06,153.68 462.13,154.34 463.2,155.01 464.27,155.66 465.34,156.3 466.42,156.92 467.49,157.52 468.56,158.11 469.63,158.7 470.71,159.28 471.78,159.87 472.85,160.48 473.92,161.11 474.99,161.76 476.07,162.46 477.14,163.2 478.21,164.12 479.28,165.38 480.36,166.24 481.43,167.14 482.5,168" fill="none" stroke="#ff0000" stroke-opacity="0.55" stroke-width="0.5"/>
<polyline points="386,168 387.07,167.67 388.14,167.34 389.22,167.01 390.29,166.68 391.36,166.37 392.43,166.08 393.51,165.8 394.58,165.28 395.65,164.55 396.72,163.82 397.79,163.09 398.87,162.37 399.94,161.64 401.01,160.91 402.08,160.19 403.16,159.47 404.23,158.76 405.3,158.04 406.37,157.34 407.44,156.64 408.52,155.95 409.59,155.26 410.66,154.58 411.73,153.92 412.81,153.27 413.88,152.63 414.95,152 416.02,151.38 417.09,150.76 418.17,150.15 419.24,149.55 420.31,148.94 421.38,148.34 422.46,147.74 423.53,147.11 424.6,146.45 425.67,145.79 426.74,145.15 427.82,144.54 428.89,143.99 429.96,143.52 431.03,143.13 432.11,142.86 433.18,142.67 434.25,142.57 435.32,142.55 436.39,142.6 437.47,142.74 438.54,142.94 439.61,143.21 440.68,143.54 441.76,143.92 442.83,144.35 443.9,144.82 444.97,145.32 446.04,145.85 447.12,146.41 448.19,146.98 449.26,147.56 450.33,148.15 451.41,148.75 452.48,149.33 453.55,149.93 454.62,150.54 455.69,151.17 456.77,151.81 457.84,152.47 458.91,153.13 459.98,153.8 461.06,154.47 462.13,155.14 463.2,155.81 464.27,156.46 465.34,157.1 466.42,157.73 467.49,158.33 468.56,158.93 469.63,159.52 470.71,160.1 471.78,160.7 472.85,161.31 473.92,161.94 474.99,162.6 476.07,163.28 477.14,164 478.21,164.95 479.28,166.26 480.36,166.83 481.43,167.43 482.5,168" fill="none" stroke="#ff0000" stroke-opacity="0.55" stroke-width="0.5"/>
<polyline points="386,168 387.07,167.84 388.14,167.67 389.22,167.5 390.29,167.34 391.36,167.19 392.43,167.04 393.51,166.9 394.58,166.44 395.65,165.71 396.72,164.97 397.79,164.23 398.87,163.49 399.94,162.75 401.01,162.01 402.08,161.27 403.16,160.54 404.23,159.81 405.3,159.09 406.37,158.37 407.44,157.66 408.52,156.96 409.59,156.26 410.66,155.58 411.73,154.91 412.81,154.26 413.88,153.62 414.95,152.99 416.02,152.37 417.09,151.75 418.17,151.15 419.24,150.54 420.31,149.94 421.38,149.34 422.46,148.74 423.53,148.11 424.6,147.45 425.67,146.8 426.74,146.16 427.82,145.56 428.89,145 429.96,144.53 431.03,144.14 432.11,143.85 433.18,143.65 434.25,143.52 435.32,143.48 436.39,143.51 437.47,143.62 438.54,143.8 439.61,144.05 440.68,144.37 441.76,144.75 442.83,145.17 443.9,145.63 444.97,146.13 446.04,146.66 447.12,147.21 448.19,147.78 449.26,148.37 450.33,148.96 451.41,149.55 452.48,150.13 453.55,150.72 454.62,151.34 455.69,151.97 456.77,152.61 457.84,153.27 458.91,153.93 459.98,154.6 461.06,155.27 462.13,155.94 463.2,156.61 464.27,157.26 465.34,157.9 466.42,158.53 467.49,159.14 468.56,159.74 469.63,160.33 470.71,160.93 471.78,161.53 472.85,162.15 473.92,162.78 474.99,163.43 476.07,164.1 477.14,164.81 478.21,165.79 479.28,167.13 480.36,167.41 481.43,167.71 482.5,168" fill="none" stroke="#ff0000" stroke-opacity="0.55" stroke-width="0.5"/>
<polyline points="386,168 387.07,167.18 388.14,166.35 389.22,165.52 390.29,164.71 391.36,163.94 392.43,163.21 393.51,162.5 394.58,161.79 395.65,161.09 396.72,160.39 397.79,159.7 398.87,159 399.94,158.32 401.01,157.63 402.08,156.95 403.16,156.27 404.23,155.59 405.3,154.92 406.37,154.25 407.44,153.58 408.52,152.92 409.59,152.25 410.66,151.59 411.73,150.94 412.81,150.3 413.88,149.66 414.95,149.03 416.02,148.4 417.09,147.78 418.17,147.16 419.24,146.55 420.31,145.95 421.38,145.34 422.46,144.74 423.53,144.1 424.6,143.44 425.67,142.77 426.74,142.12 427.82,141.51 428.89,140.96 429.96,140.49 431.03,140.12 432.11,139.88 433.18,139.74 434.25,139.7 435.32,139.76 436.39,139.89 437.47,140.09 438.54,140.36 439.61,140.67 440.68,141.04 441.76,141.44 442.83,141.89 443.9,142.37 444.97,142.89 446.04,143.43 447.12,143.99 448.19,144.56 449.26,145.15 450.33,145.75 451.41,146.34 452.48,146.93 453.55,147.53 454.62,148.14 455.69,148.78 456.77,149.42 457.84,150.08 458.91,150.74 459.98,151.41 461.06,152.08 462.13,152.75 463.2,153.41 464.27,154.06 465.34,154.7 466.42,155.32 467.49,155.91 468.56,156.49 469.63,157.06 470.71,157.63 471.78,158.21 472.85,158.81 473.92,159.44 474.99,160.1 476.07,160.81 477.14,161.58 478.21,162.44 479.28,163.64 480.36,165.07 481.43,166.57 482.5,168" fill="none" stroke="#ff0000" stroke-width="0.9"/>
<polyline points="386,168 387.07,168 388.14,168 389.22,168 390.29,168 391.36,168 392.43,168 393.51,168 394.58,167.6 395.65,166.86 396.72,166.11 397.79,165.36 398.87,164.61 399.94,163.86 401.01,163.1 402.08,162.35 403.16,161.61 404.23,160.86 405.3,160.13 406.37,159.4 407.44,158.68 408.52,157.97 409.59,157.27 410.66,156.58 411.73,155.91 412.81,155.25 413.88,154.61 414.95,153.98 416.02,153.36 417.09,152.75 418.17,152.14 419.24,151.54 420.31,150.94 421.38,150.34 422.46,149.74 423.53,149.11 424.6,148.46 425.67,147.81 426.74,147.17 427.82,146.57 428.89,146.02 429.96,145.53 431.03,145.14 432.11,144.84 433.18,144.62 434.25,144.48 435.32,144.41 436.39,144.42 437.47,144.5 438.54,144.66 439.61,144.89 440.68,145.21 441.76,145.57 442.83,145.99 443.9,146.45 444.97,146.94 446.04,147.47 447.12,148.02 448.19,148.59 449.26,149.17 450.33,149.76 451.41,150.35 452.48,150.93 453.55,151.52 454.62,152.13 455.69,152.76 456.77,153.41 457.84,154.06 458.91,154.73 459.98,155.4 461.06,156.07 462.13,156.74 463.2,157.41 464.27,158.06 465.34,158.7 466.42,159.33 467.49,159.95 468.56,160.55 469.63,161.15 470.71,161.76 471.78,162.36 472.85,162.98 473.92,163.61 474.99,164.26 476.07,164.93 477.14,165.62 478.21,166.62 479.28,168 480.36,168 481.43,168 482.5,168" fill="none" stroke="#ff0000" stroke-width="0.9"/>
<polyline points="431.5,147.3 432.14,147.51 432.78,147.72 433.43,147.92 434.07,148.11 434.71,148.31 435.35,148.5 435.99,148.7 436.63,148.91 437.27,149.12 437.92,149.35 438.56,149.59 439.2,149.85 439.84,150.13 440.48,150.42 441.12,150.73 441.77,151.04 442.41,151.36 443.05,151.68 443.69,152.01 444.33,152.35 444.98,152.69 445.62,153.04 446.26,153.39 446.9,153.74 447.54,154.1 448.18,154.46 448.82,154.82 449.47,155.19 450.11,155.56 450.75,155.93 451.39,156.3 452.03,156.67 452.68,157.04 453.32,157.42 453.96,157.8 454.6,158.18 455.24,158.57 455.88,158.96 456.52,159.35 457.17,159.75 457.81,160.15 458.45,160.55 459.09,160.95 459.73,161.36 460.38,161.76 461.02,162.17 461.66,162.58 462.3,162.99 462.94,163.39 463.58,163.8 464.23,164.21 464.87,164.62 465.51,165.02 466.15,165.44 466.79,165.86 467.43,166.29 468.07,166.72 468.72,167.15 469.36,167.57 470,168" fill="none" stroke="#ff0000" stroke-width="1.8" stroke-opacity="1"/>
<polygon points="418,168 418.3,167.83 418.6,167.65 418.9,167.47 419.2,167.29 419.5,167.11 419.8,166.92 420.1,166.73 420.4,166.55 420.7,166.36 421,166.18 421.3,165.99 421.6,165.81 421.9,165.63 422.2,165.45 422.5,165.27 422.8,165.1 423.1,164.94 423.4,164.77 423.7,164.61 424,164.46 424.3,164.32 424.6,164.18 424.9,164.04 425.2,163.92 425.5,163.79 425.8,163.67 426.1,163.55 426.4,163.43 426.7,163.32 427,163.21 427.3,163.11 427.6,163.01 427.9,162.91 428.2,162.82 428.5,162.74 428.8,162.66 429.1,162.59 429.4,162.52 429.7,162.47 430,162.42 430.3,162.38 430.6,162.34 430.9,162.32 431.2,162.3 431.5,162.3 431.8,162.3 432.1,162.32 432.4,162.34 432.7,162.38 433,162.42 433.3,162.47 433.6,162.52 433.9,162.59 434.2,162.66 434.5,162.74 434.8,162.82 435.1,162.91 435.4,163.01 435.7,163.11 436,163.21 436.3,163.32 436.6,163.43 436.9,163.55 437.2,163.67 437.5,163.79 437.8,163.92 438.1,164.04 438.4,164.18 438.7,164.32 439,164.46 439.3,164.61 439.6,164.77 439.9,164.94 440.2,165.1 440.5,165.27 440.8,165.45 441.1,165.63 441.4,165.81 441.7,165.99 442,166.18 442.3,166.36 442.6,166.55 442.9,166.73 443.2,166.92 443.5,167.11 443.8,167.29 444.1,167.47 444.4,167.65 444.7,167.83 445,168 445,170 444.7,169.95 444.4,169.91 444.1,169.86 443.8,169.81 443.5,169.76 443.2,169.7 442.9,169.65 442.6,169.59 442.3,169.54 442,169.48 441.7,169.42 441.4,169.36 441.1,169.3 440.8,169.24 440.5,169.19 440.2,169.13 439.9,169.07 439.6,169.01 439.3,168.95 439,168.89 438.7,168.83 438.4,168.78 438.1,168.72 437.8,168.67 437.5,168.61 437.2,168.56 436.9,168.51 436.6,168.46 436.3,168.42 436,168.37 435.7,168.33 435.4,168.29 435.1,168.25 434.8,168.21 434.5,168.18 434.2,168.14 433.9,168.12 433.6,168.09 433.3,168.07 433,168.05 432.7,168.03 432.4,168.02 432.1,168.01 431.8,168 431.5,168 431.2,168 430.9,168.01 430.6,168.02 430.3,168.03 430,168.05 429.7,168.07 429.4,168.09 429.1,168.12 428.8,168.14 428.5,168.18 428.2,168.21 427.9,168.25 427.6,168.29 427.3,168.33 427,168.37 426.7,168.42 426.4,168.46 426.1,168.51 425.8,168.56 425.5,168.61 425.2,168.67 424.9,168.72 424.6,168.78 424.3,168.83 424,168.89 423.7,168.95 423.4,169.01 423.1,169.07 422.8,169.13 422.5,169.19 422.2,169.24 421.9,169.3 421.6,169.36 421.3,169.42 421,169.48 420.7,169.54 420.4,169.59 420.1,169.65 419.8,169.7 419.5,169.76 419.2,169.81 418.9,169.86 418.6,169.91 418.3,169.95 418,170" fill="#ff0000" fill-opacity="0.8"/>
<polyline points="418,168.67 418.3,168.54 418.6,168.4 418.9,168.27 419.2,168.13 419.5,167.99 419.8,167.85 420.1,167.71 420.4,167.56 420.7,167.42 421,167.28 421.3,167.13 421.6,166.99 421.9,166.85 422.2,166.71 422.5,166.58 422.8,166.44 423.1,166.31 423.4,166.18 423.7,166.06 424,165.94 424.3,165.82 424.6,165.71 424.9,165.6 425.2,165.5 425.5,165.4 425.8,165.3 426.1,165.2 426.4,165.11 426.7,165.02 427,164.93 427.3,164.85 427.6,164.77 427.9,164.69 428.2,164.62 428.5,164.55 428.8,164.49 429.1,164.43 429.4,164.38 429.7,164.33 430,164.29 430.3,164.26 430.6,164.23 430.9,164.22 431.2,164.2 431.5,164.2 431.8,164.2 432.1,164.22 432.4,164.23 432.7,164.26 433,164.29 433.3,164.33 433.6,164.38 433.9,164.43 434.2,164.49 434.5,164.55 434.8,164.62 435.1,164.69 435.4,164.77 435.7,164.85 436,164.93 436.3,165.02 436.6,165.11 436.9,165.2 437.2,165.3 437.5,165.4 437.8,165.5 438.1,165.6 438.4,165.71 438.7,165.82 439,165.94 439.3,166.06 439.6,166.18 439.9,166.31 440.2,166.44 440.5,166.58 440.8,166.71 441.1,166.85 441.4,166.99 441.7,167.13 442,167.28 442.3,167.42 442.6,167.56 442.9,167.71 443.2,167.85 443.5,167.99 443.8,168.13 444.1,168.27 444.4,168.4 444.7,168.54 445,168.67" fill="none" stroke="#ff0000" stroke-opacity="0.55" stroke-width="0.5"/>
<polyline points="418,169.33 418.3,169.25 418.6,169.15 418.9,169.06 419.2,168.97 419.5,168.87 419.8,168.78 420.1,168.68 420.4,168.58 420.7,168.48 421,168.38 421.3,168.28 421.6,168.18 421.9,168.08 422.2,167.98 422.5,167.88 422.8,167.78 423.1,167.69 423.4,167.6 423.7,167.5 424,167.42 424.3,167.33 424.6,167.24 424.9,167.16 425.2,167.08 425.5,167.01 425.8,166.93 426.1,166.86 426.4,166.79 426.7,166.72 427,166.65 427.3,166.59 427.6,166.53 427.9,166.47 428.2,166.41 428.5,166.36 428.8,166.32 429.1,166.27 429.4,166.23 429.7,166.2 430,166.17 430.3,166.15 430.6,166.13 430.9,166.11 431.2,166.1 431.5,166.1 431.8,166.1 432.1,166.11 432.4,166.13 432.7,166.15 433,166.17 433.3,166.2 433.6,166.23 433.9,166.27 434.2,166.32 434.5,166.36 434.8,166.41 435.1,166.47 435.4,166.53 435.7,166.59 436,166.65 436.3,166.72 436.6,166.79 436.9,166.86 437.2,166.93 437.5,167.01 437.8,167.08 438.1,167.16 438.4,167.24 438.7,167.33 439,167.42 439.3,167.5 439.6,167.6 439.9,167.69 440.2,167.78 440.5,167.88 440.8,167.98 441.1,168.08 441.4,168.18 441.7,168.28 442,168.38 442.3,168.48 442.6,168.58 442.9,168.68 443.2,168.78 443.5,168.87 443.8,168.97 444.1,169.06 444.4,169.15 444.7,169.25 445,169.33" fill="none" stroke="#ff0000" stroke-opacity="0.55" stroke-width="0.5"/>
<polyline points="418,168 418.3,167.83 418.6,167.65 418.9,167.47 419.2,167.29 419.5,167.11 419.8,166.92 420.1,166.73 420.4,166.55 420.7,166.36 421,166.18 421.3,165.99 421.6,165.81 421.9,165.63 422.2,165.45 422.5,165.27 422.8,165.1 423.1,164.94 423.4,164.77 423.7,164.61 424,164.46 424.3,164.32 424.6,164.18 424.9,164.04 425.2,163.92 425.5,163.79 425.8,163.67 426.1,163.55 426.4,163.43 426.7,163.32 427,163.21 427.3,163.11 427.6,163.01 427.9,162.91 428.2,162.82 428.5,162.74 428.8,162.66 429.1,162.59 429.4,162.52 429.7,162.47 430,162.42 430.3,162.38 430.6,162.34 430.9,162.32 431.2,162.3 431.5,162.3 431.8,162.3 432.1,162.32 432.4,162.34 432.7,162.38 433,162.42 433.3,162.47 433.6,162.52 433.9,162.59 434.2,162.66 434.5,162.74 434.8,162.82 435.1,162.91 435.4,163.01 435.7,163.11 436,163.21 436.3,163.32 436.6,163.43 436.9,163.55 437.2,163.67 437.5,163.79 437.8,163.92 438.1,164.04 438.4,164.18 438.7,164.32 439,164.46 439.3,164.61 439.6,164.77 439.9,164.94 440.2,165.1 440.5,165.27 440.8,165.45 441.1,165.63 441.4,165.81 441.7,165.99 442,166.18 442.3,166.36 442.6,166.55 442.9,166.73 443.2,166.92 443.5,167.11 443.8,167.29 444.1,167.47 444.4,167.65 444.7,167.83 445,168" fill="none" stroke="#ff0000" stroke-width="0.9"/>
<polyline points="418,170 418.3,169.95 418.6,169.91 418.9,169.86 419.2,169.81 419.5,169.76 419.8,169.7 420.1,169.65 420.4,169.59 420.7,169.54 421,169.48 421.3,169.42 421.6,169.36 421.9,169.3 422.2,169.24 422.5,169.19 422.8,169.13 423.1,169.07 423.4,169.01 423.7,168.95 424,168.89 424.3,168.83 424.6,168.78 424.9,168.72 425.2,168.67 425.5,168.61 425.8,168.56 426.1,168.51 426.4,168.46 426.7,168.42 427,168.37 427.3,168.33 427.6,168.29 427.9,168.25 428.2,168.21 428.5,168.18 428.8,168.14 429.1,168.12 429.4,168.09 429.7,168.07 430,168.05 430.3,168.03 430.6,168.02 430.9,168.01 431.2,168 431.5,168 431.8,168 432.1,168.01 432.4,168.02 432.7,168.03 433,168.05 433.3,168.07 433.6,168.09 433.9,168.12 434.2,168.14 434.5,168.18 434.8,168.21 435.1,168.25 435.4,168.29 435.7,168.33 436,168.37 436.3,168.42 436.6,168.46 436.9,168.51 437.2,168.56 437.5,168.61 437.8,168.67 438.1,168.72 438.4,168.78 438.7,168.83 439,168.89 439.3,168.95 439.6,169.01 439.9,169.07 440.2,169.13 440.5,169.19 440.8,169.24 441.1,169.3 441.4,169.36 441.7,169.42 442,169.48 442.3,169.54 442.6,169.59 442.9,169.65 443.2,169.7 443.5,169.76 443.8,169.81 444.1,169.86 444.4,169.91 444.7,169.95 445,170" fill="none" stroke="#ff0000" stroke-width="0.9"/>
</g>
<line x1="352.5" y1="92.3" x2="524" y2="92.3" stroke="#2535e8" stroke-width="1.3" stroke-dasharray="14.5,9.2"/>
<rect x="352.5" y="18.1" width="171.5" height="148.4" fill="none" stroke="#333" stroke-width="1.2"/>
<line x1="347.3" y1="166.5" x2="352.5" y2="166.5" stroke="#333" stroke-width="1.1" />
<text x="342.2" y="171.5" font-size="14.2" text-anchor="end" font-weight="normal" font-style="normal" fill="#000" font-family='"Liberation Sans", sans-serif' >−2</text>
<line x1="349.7" y1="162.79" x2="352.5" y2="162.79" stroke="#333" stroke-width="0.9" />
<line x1="349.7" y1="159.08" x2="352.5" y2="159.08" stroke="#333" stroke-width="0.9" />
<line x1="349.7" y1="155.37" x2="352.5" y2="155.37" stroke="#333" stroke-width="0.9" />
<line x1="349.7" y1="151.66" x2="352.5" y2="151.66" stroke="#333" stroke-width="0.9" />
<line x1="349.7" y1="147.95" x2="352.5" y2="147.95" stroke="#333" stroke-width="0.9" />
<line x1="349.7" y1="144.24" x2="352.5" y2="144.24" stroke="#333" stroke-width="0.9" />
<line x1="349.7" y1="140.53" x2="352.5" y2="140.53" stroke="#333" stroke-width="0.9" />
<line x1="349.7" y1="136.82" x2="352.5" y2="136.82" stroke="#333" stroke-width="0.9" />
<line x1="349.7" y1="133.11" x2="352.5" y2="133.11" stroke="#333" stroke-width="0.9" />
<line x1="347.3" y1="129.4" x2="352.5" y2="129.4" stroke="#333" stroke-width="1.1" />
<text x="342.2" y="134.4" font-size="14.2" text-anchor="end" font-weight="normal" font-style="normal" fill="#000" font-family='"Liberation Sans", sans-serif' >−1</text>
<line x1="349.7" y1="125.69" x2="352.5" y2="125.69" stroke="#333" stroke-width="0.9" />
<line x1="349.7" y1="121.98" x2="352.5" y2="121.98" stroke="#333" stroke-width="0.9" />
<line x1="349.7" y1="118.27" x2="352.5" y2="118.27" stroke="#333" stroke-width="0.9" />
<line x1="349.7" y1="114.56" x2="352.5" y2="114.56" stroke="#333" stroke-width="0.9" />
<line x1="349.7" y1="110.85" x2="352.5" y2="110.85" stroke="#333" stroke-width="0.9" />
<line x1="349.7" y1="107.14" x2="352.5" y2="107.14" stroke="#333" stroke-width="0.9" />
<line x1="349.7" y1="103.43" x2="352.5" y2="103.43" stroke="#333" stroke-width="0.9" />
<line x1="349.7" y1="99.72" x2="352.5" y2="99.72" stroke="#333" stroke-width="0.9" />
<line x1="349.7" y1="96.01" x2="352.5" y2="96.01" stroke="#333" stroke-width="0.9" />
<line x1="347.3" y1="92.3" x2="352.5" y2="92.3" stroke="#333" stroke-width="1.1" />
<text x="342.2" y="97.3" font-size="14.2" text-anchor="end" font-weight="normal" font-style="normal" fill="#000" font-family='"Liberation Sans", sans-serif' >0</text>
<line x1="349.7" y1="88.59" x2="352.5" y2="88.59" stroke="#333" stroke-width="0.9" />
<line x1="349.7" y1="84.88" x2="352.5" y2="84.88" stroke="#333" stroke-width="0.9" />
<line x1="349.7" y1="81.17" x2="352.5" y2="81.17" stroke="#333" stroke-width="0.9" />
<line x1="349.7" y1="77.46" x2="352.5" y2="77.46" stroke="#333" stroke-width="0.9" />
<line x1="349.7" y1="73.75" x2="352.5" y2="73.75" stroke="#333" stroke-width="0.9" />
<line x1="349.7" y1="70.04" x2="352.5" y2="70.04" stroke="#333" stroke-width="0.9" />
<line x1="349.7" y1="66.33" x2="352.5" y2="66.33" stroke="#333" stroke-width="0.9" />
<line x1="349.7" y1="62.62" x2="352.5" y2="62.62" stroke="#333" stroke-width="0.9" />
<line x1="349.7" y1="58.91" x2="352.5" y2="58.91" stroke="#333" stroke-width="0.9" />
<line x1="347.3" y1="55.2" x2="352.5" y2="55.2" stroke="#333" stroke-width="1.1" />
<text x="342.2" y="60.2" font-size="14.2" text-anchor="end" font-weight="normal" font-style="normal" fill="#000" font-family='"Liberation Sans", sans-serif' >1</text>
<line x1="349.7" y1="51.49" x2="352.5" y2="51.49" stroke="#333" stroke-width="0.9" />
<line x1="349.7" y1="47.78" x2="352.5" y2="47.78" stroke="#333" stroke-width="0.9" />
<line x1="349.7" y1="44.07" x2="352.5" y2="44.07" stroke="#333" stroke-width="0.9" />
<line x1="349.7" y1="40.36" x2="352.5" y2="40.36" stroke="#333" stroke-width="0.9" />
<line x1="349.7" y1="36.65" x2="352.5" y2="36.65" stroke="#333" stroke-width="0.9" />
<line x1="349.7" y1="32.94" x2="352.5" y2="32.94" stroke="#333" stroke-width="0.9" />
<line x1="349.7" y1="29.23" x2="352.5" y2="29.23" stroke="#333" stroke-width="0.9" />
<line x1="349.7" y1="25.52" x2="352.5" y2="25.52" stroke="#333" stroke-width="0.9" />
<line x1="349.7" y1="21.81" x2="352.5" y2="21.81" stroke="#333" stroke-width="0.9" />
<line x1="347.3" y1="18.1" x2="352.5" y2="18.1" stroke="#333" stroke-width="1.1" />
<text x="342.2" y="23.1" font-size="14.2" text-anchor="end" font-weight="normal" font-style="normal" fill="#000" font-family='"Liberation Sans", sans-serif' >2</text>
<line x1="431.5" y1="18.1" x2="431.5" y2="21.1" stroke="#333" stroke-width="1.1" />
<line x1="431.5" y1="166.5" x2="431.5" y2="163.5" stroke="#333" stroke-width="1.1" />
<text x="312" y="92.6" font-size="14.1" text-anchor="middle" font-weight="normal" font-style="normal" fill="#000" font-family='"Liberation Sans", sans-serif' transform="rotate(-90 312 92.6)">Energy (eV)</text>
<text x="347.5" y="183.5" font-size="14.5" text-anchor="start" font-weight="normal" font-style="italic" fill="#000" font-family='"Liberation Sans", sans-serif' >M</text>
<text x="427.6" y="183.5" font-size="13.5" text-anchor="start" font-weight="normal" font-style="normal" fill="#000" font-family='"Liberation Serif", serif' >Γ</text>
<text x="516.2" y="183.5" font-size="14.5" text-anchor="start" font-weight="normal" font-style="italic" fill="#000" font-family='"Liberation Sans", sans-serif' >K</text>
<text x="0" y="0" font-size="21.5" font-weight="bold" font-family='"Liberation Sans", sans-serif' transform="translate(543.4 14.5) scale(0.9 1)">c</text>
<text x="614.3" y="19.9" font-size="14.5" text-anchor="start" font-weight="normal" font-style="normal" fill="#000" font-family='"Liberation Sans", sans-serif' >PbI<tspan font-size="10" dy="4.4">2</tspan></text>
<text x="543.25" y="50.2" font-size="14.5" text-anchor="start" font-weight="normal" font-style="normal" fill="#000" font-family='"Liberation Sans", sans-serif' >CB</text>
<text x="576.8" y="50.2" font-size="14.5" text-anchor="start" font-weight="normal" font-style="normal" fill="#000" font-family='"Liberation Sans", sans-serif' >−1/2</text>
<text x="646.9" y="50.2" font-size="14.5" text-anchor="start" font-weight="normal" font-style="normal" fill="#000" font-family='"Liberation Sans", sans-serif' >+1/2</text>
<text x="547.55" y="162" font-size="14.5" text-anchor="start" font-weight="normal" font-style="normal" fill="#000" font-family='"Liberation Sans", sans-serif' >VB</text>
<text x="576.8" y="162" font-size="14.5" text-anchor="start" font-weight="normal" font-style="normal" fill="#000" font-family='"Liberation Sans", sans-serif' >−1/2</text>
<text x="646.9" y="162" font-size="14.5" text-anchor="start" font-weight="normal" font-style="normal" fill="#000" font-family='"Liberation Sans", sans-serif' >+1/2</text>
<text x="624.2" y="179.4" font-size="13.5" text-anchor="start" font-weight="normal" font-style="normal" fill="#000" font-family='"Liberation Serif", serif' >Γ</text>
<rect x="574" y="57" width="42.4" height="3.6" fill="#707070"/>
<rect x="643" y="57" width="42" height="3.6" fill="#707070"/>
<rect x="574" y="141.4" width="42.4" height="3.6" fill="#707070"/>
<rect x="643" y="141.4" width="42" height="3.6" fill="#707070"/>
<line x1="594.5" y1="138.7" x2="658.02" y2="69.47" stroke="#ff0000" stroke-width="4" />
<polygon points="665.8,61 661.46,75.34 651.88,66.55" fill="#ff0000" />
<line x1="663.5" y1="138.7" x2="600.04" y2="70.61" stroke="#000" stroke-width="4" />
<polygon points="592.2,62.2 606.16,67.64 596.65,76.51" fill="#000" />
<text x="571.8" y="122.1" font-size="14.5" text-anchor="start" font-weight="normal" font-style="italic" fill="#ff0000" font-family='"Liberation Serif", serif' >σ+</text>
<text x="659.6" y="122.1" font-size="14.5" text-anchor="start" font-weight="normal" font-style="italic" fill="#000" font-family='"Liberation Serif", serif' >σ−</text>
<text x="0" y="0" font-size="21.5" font-weight="bold" font-family='"Liberation Sans", sans-serif' transform="translate(-0.3 219.6) scale(0.9 1)">d</text>
<text x="0" y="0" font-size="21.5" font-weight="bold" font-family='"Liberation Sans", sans-serif' transform="translate(0 415) scale(0.9 1)">e</text>
<g clip-path="url(#clipDin)"><rect x="183.4" y="250.1" width="94.9" height="85.1" fill="url(#dinBg)"/><polygon points="227.5,259 188,325 269,325" fill="#9c98ea" fill-opacity="0.5" stroke="#9c98ea" stroke-opacity="0.5" stroke-width="6" stroke-linejoin="round" filter="url(#blurTri)"/><polygon points="227.5,264 196,319 263.5,319" fill="#fbfdfb" stroke="#fbfdfb" stroke-width="8.5" stroke-linejoin="round" filter="url(#blurT2)"/><polyline points="194,320.5 224.5,264" stroke="#bcf8f8" stroke-width="5" stroke-linecap="round" fill="none" filter="url(#blurT2)" opacity="0.9"/><polyline points="231,265.5 264,318" stroke="#f2dcf2" stroke-width="2.2" stroke-linecap="round" fill="none" filter="url(#blurT2)" opacity="0.7"/></g>
<rect x="208.3" y="326.7" width="65.5" height="3.5" fill="#fff"/>
<polyline points="54.5,398.07 56.31,398.49 58.35,398.66 60.02,397.3 61.36,399.07 63.31,397.21 65.1,397.53 66.77,395.88 68.9,397.94 71.05,395.68 72.46,394.72 73.96,392.76 75.74,392.62 77.88,388.53 79.24,389.6 81.01,386.66 82.78,386.08 84.98,385.79 86.33,382.33 87.56,379.84 89.09,380.12 91.3,375.2 92.52,373.18 93.87,374.16 96.04,367.72 97.76,361.58 99.58,359.77 101.5,351.71 103.23,350.77 105.01,345.59 106.26,342.04 107.81,340.66 109.06,338.38 110.72,330.66 112.22,328.06 113.8,319.99 115.74,314.17 117.17,311.52 118.47,307.34 120.1,305.44 121.96,303.03 123.27,296.15 125.32,291.93 127.16,291.69 128.65,288.74 130.26,281.3 131.61,278.26 133.81,276.94 135.23,278.96 136.95,276.92 138.2,276.93 139.44,275.77 141.54,277.55 143.5,278.16 145.22,280.64 146.76,280.91 148.75,287.33 150.77,294.14 152.78,295.34 154.85,297.45 156.58,302.57 157.77,301.4 159.03,304.03 160.73,311.2 162.58,318.44 164.11,329.24 165.69,327.95 167.49,327.74 169.32,331.06 171.23,333.95 172.67,336.98 174.29,343.66 175.86,345.52 177.52,351.45 179.62,354.48 181.38,354.23 182.72,355.69 184.01,356.39 186.06,360.78 188.1,364.73 189.33,367.95 190.63,365.3 192.15,370.75 193.52,374.72 195.11,375.34 196.73,377.45 198.34,377.5 200.3,376.93 202.15,378.53 204.1,378.63 206.03,379.49 207.81,380.93 209.98,383.12 212.04,382.36 213.25,384.11 214.81,383.13 217.01,386.6 219.05,385.91 220.98,388.72 223.14,387.89 225.07,390.83 226.5,390 228.41,391.37 230.48,390.58 231.76,390.2 233.32,390.64 234.85,393.06 236.63,392.27 237.95,393.93 240.04,393.52 241.61,394.91 243.49,393.15 245.45,395.77 246.76,394.57 248.64,396 250.47,397.02 251.79,396.29 253.71,395.36 255.37,396.66 257.29,395.8 258.85,397.5 260.08,396.43 261.63,397.74 263.61,396.01 265.07,397.14 267.01,398.08 268.95,398.94 270.29,397.57 272.06,397.78 273.28,397.3 274.86,399.44 277.05,398.32" stroke="#ff1010" stroke-width="1.2" fill="none" stroke-linejoin="round" />
<polyline points="54.5,397.03 55.85,397.23 57.85,396.69 59.33,396.35 61.46,395.8 62.85,393.31 64.91,393.7 66.79,392.13 68.07,392.99 69.56,389.77 71.62,390.65 73.25,388.49 74.48,387.16 76.22,383.81 77.61,384.45 79.08,382.28 80.84,382.58 82.26,379.33 83.79,378.24 85.69,373.17 87.86,369.06 89.84,366.2 91.87,364.74 93.2,360.94 94.39,355.2 95.95,349.08 97.58,351.47 98.94,347.42 100.63,340.77 102.36,328.03 104.04,330.69 105.66,324.66 107.35,322.67 108.76,322.48 110,309.86 111.6,305.14 113.55,305.4 115.63,298.15 117.49,290.85 119.22,287.93 121.35,278.75 123.52,274.11 124.84,277.1 126.2,269.08 128.34,265.8 129.54,264.33 131.53,262.31 132.93,256.94 134.91,259.15 136.13,247.59 137.94,250.05 139.66,255.33 140.94,257.05 142.45,259.72 143.74,259.42 145.45,260.98 146.71,262.63 148.75,263.22 150.83,267.79 152.37,270.83 153.56,274.91 155.48,278.08 157.54,290.88 159.37,289.12 161.49,296.11 163.56,301.4 164.9,309.87 166.22,313.06 167.59,314.83 169.14,316.02 171.29,323.74 172.78,335.9 174.82,342.29 176.17,340.86 178.32,344.06 180.17,345.55 182.21,349.61 184.01,349.26 185.43,355.06 187.54,356.44 189.02,357.09 190.76,359.92 192.92,363.76 195.11,365.81 196.61,367.01 198.75,368.39 200.18,372.16 202.18,374.95 203.64,375.25 204.86,375.81 207.06,380.09 209,378.86 210.92,381.86 212.68,381.51 214.36,382.38 215.81,382.55 217.34,383.9 219.42,385.65 220.77,386.28 222.52,384.97 224.56,388.92 226.7,387.34 228.49,387.99 229.99,387.84 231.22,389.95 233.09,388.49 234.62,391.33 236.71,389.45 238.44,391.2 240.36,391.03 241.8,392.28 243.92,393.26 245.95,394.57 247.78,394.39 249,395.1 251.1,393.75 252.69,395.31 254.87,394.02 256.77,396.37 258.14,396.78 259.61,396.34 261.66,394.87 263.37,395.45 265.49,397.22 267.69,396.12 269.83,395.63 271.13,397.86 272.49,398.15 274.67,398.29 276.79,398.69" stroke="#000" stroke-width="1.2" fill="none" stroke-linejoin="round" />
<line x1="59.3" y1="263.5" x2="80.7" y2="263.5" stroke="#000" stroke-width="1.3" />
<line x1="59.3" y1="286.4" x2="80.7" y2="286.4" stroke="#ff1010" stroke-width="1.3" />
<text x="87.7" y="267.4" font-size="13.5" text-anchor="start" font-weight="normal" font-style="italic" fill="#000" font-family='"Liberation Serif", serif' >σ−</text>
<text x="87.7" y="290.1" font-size="13.5" text-anchor="start" font-weight="normal" font-style="italic" fill="#ff1010" font-family='"Liberation Serif", serif' >σ+</text>
<text x="83.5" y="239.5" font-size="14.5" text-anchor="start" font-weight="normal" font-style="normal" fill="#000" font-family='"Liberation Sans", sans-serif' >Exc: 488 nm <tspan font-family='"Liberation Serif", serif' font-style="italic">σ</tspan>−</text>
<text x="111.9" y="387" font-size="14.5" text-anchor="start" font-weight="normal" font-style="normal" fill="#000" font-family='"Liberation Sans", sans-serif' >Pure PbI<tspan font-size="10" dy="4.4">2</tspan></text>
<rect x="54.5" y="220.5" width="223.8" height="298.5" fill="none" stroke="#262626" stroke-width="1.15"/>
<line x1="54.5" y1="415.1" x2="278.3" y2="415.1" stroke="#262626" stroke-width="1.15" />
<line x1="54.5" y1="244" x2="56.7" y2="244" stroke="#262626" stroke-width="1.15" />
<line x1="54.5" y1="268.2" x2="58.1" y2="268.2" stroke="#262626" stroke-width="1.15" />
<line x1="54.5" y1="293.3" x2="56.7" y2="293.3" stroke="#262626" stroke-width="1.15" />
<line x1="54.5" y1="317.8" x2="58.1" y2="317.8" stroke="#262626" stroke-width="1.15" />
<line x1="54.5" y1="342.8" x2="56.7" y2="342.8" stroke="#262626" stroke-width="1.15" />
<line x1="54.5" y1="366.7" x2="58.1" y2="366.7" stroke="#262626" stroke-width="1.15" />
<line x1="54.5" y1="390.9" x2="56.7" y2="390.9" stroke="#262626" stroke-width="1.15" />
<line x1="68.9" y1="415.1" x2="68.9" y2="411.6" stroke="#262626" stroke-width="1.15" />
<line x1="68.9" y1="519" x2="68.9" y2="515.5" stroke="#262626" stroke-width="1.15" />
<text x="68.9" y="536.2" font-size="14.5" text-anchor="middle" font-weight="normal" font-style="normal" fill="#000" font-family='"Liberation Sans", sans-serif' >500</text>
<line x1="98.75" y1="415.1" x2="98.75" y2="412.9" stroke="#262626" stroke-width="1.15" />
<line x1="98.75" y1="519" x2="98.75" y2="516.8" stroke="#262626" stroke-width="1.15" />
<line x1="128.6" y1="415.1" x2="128.6" y2="411.6" stroke="#262626" stroke-width="1.15" />
<line x1="128.6" y1="519" x2="128.6" y2="515.5" stroke="#262626" stroke-width="1.15" />
<text x="128.6" y="536.2" font-size="14.5" text-anchor="middle" font-weight="normal" font-style="normal" fill="#000" font-family='"Liberation Sans", sans-serif' >520</text>
<line x1="158.45" y1="415.1" x2="158.45" y2="412.9" stroke="#262626" stroke-width="1.15" />
<line x1="158.45" y1="519" x2="158.45" y2="516.8" stroke="#262626" stroke-width="1.15" />
<line x1="188.3" y1="415.1" x2="188.3" y2="411.6" stroke="#262626" stroke-width="1.15" />
<line x1="188.3" y1="519" x2="188.3" y2="515.5" stroke="#262626" stroke-width="1.15" />
<text x="188.3" y="536.2" font-size="14.5" text-anchor="middle" font-weight="normal" font-style="normal" fill="#000" font-family='"Liberation Sans", sans-serif' >540</text>
<line x1="218.15" y1="415.1" x2="218.15" y2="412.9" stroke="#262626" stroke-width="1.15" />
<line x1="218.15" y1="519" x2="218.15" y2="516.8" stroke="#262626" stroke-width="1.15" />
<line x1="248" y1="415.1" x2="248" y2="411.6" stroke="#262626" stroke-width="1.15" />
<line x1="248" y1="519" x2="248" y2="515.5" stroke="#262626" stroke-width="1.15" />
<text x="248" y="536.2" font-size="14.5" text-anchor="middle" font-weight="normal" font-style="normal" fill="#000" font-family='"Liberation Sans", sans-serif' >560</text>
<line x1="277.85" y1="415.1" x2="277.85" y2="412.9" stroke="#262626" stroke-width="1.15" />
<line x1="277.85" y1="519" x2="277.85" y2="516.8" stroke="#262626" stroke-width="1.15" />
<line x1="54.5" y1="458.5" x2="57.7" y2="458.5" stroke="#262626" stroke-width="1.15" />
<line x1="54.5" y1="480.3" x2="56.5" y2="480.3" stroke="#262626" stroke-width="1.15" />
<line x1="54.5" y1="436.7" x2="56.5" y2="436.7" stroke="#262626" stroke-width="1.15" />
<line x1="54.5" y1="502.1" x2="57.7" y2="502.1" stroke="#262626" stroke-width="1.15" />
<text x="48.3" y="420.7" font-size="14.5" text-anchor="end" font-weight="normal" font-style="normal" fill="#000" font-family='"Liberation Sans", sans-serif' >1.0</text>
<text x="48.3" y="463.9" font-size="14.5" text-anchor="end" font-weight="normal" font-style="normal" fill="#000" font-family='"Liberation Sans", sans-serif' >0.5</text>
<text x="48.3" y="507.1" font-size="14.5" text-anchor="end" font-weight="normal" font-style="normal" fill="#000" font-family='"Liberation Sans", sans-serif' >0</text>
<text x="165.9" y="556.6" font-size="14.5" text-anchor="middle" font-weight="normal" font-style="normal" fill="#000" font-family='"Liberation Sans", sans-serif' >Wavelength (nm)</text>
<text x="44.9" y="318" font-size="14.5" text-anchor="middle" font-weight="normal" font-style="normal" fill="#000" font-family='"Liberation Sans", sans-serif' transform="rotate(-90 44.9 318.0)">PL intensity (a.u.)</text>
<text x="14.6" y="466" font-size="14.5" text-anchor="middle" font-weight="normal" font-style="italic" fill="#000" font-family='"Liberation Serif", serif' transform="rotate(-90 14.6 466.0)">ρ</text>
<text font-family='"Liberation Serif", serif' font-size="15.2" fill="#000"><tspan x="126.7" y="439.3">I</tspan><tspan font-size="10.2" font-style="italic" dy="3.6">σ−</tspan><tspan dy="-3.6"> - I</tspan><tspan font-size="10.2" font-style="italic" dy="3.6">σ+</tspan></text>
<text font-family='"Liberation Serif", serif' font-size="15.2" fill="#000"><tspan x="126.1" y="466.7">I</tspan><tspan font-size="10.2" font-style="italic" dy="3.6">σ−</tspan><tspan dy="-3.6"> + I</tspan><tspan font-size="10.2" font-style="italic" dy="3.6">σ+</tspan></text>
<line x1="116.4" y1="449.8" x2="181.8" y2="449.8" stroke="#000" stroke-width="1.3" />
<g>
<circle cx="69.8" cy="464.1" r="2.75" fill="url(#ball)"/>
<circle cx="56.3" cy="478.1" r="2.75" fill="url(#ball)"/>
<circle cx="61" cy="477.3" r="2.75" fill="url(#ball)"/>
<circle cx="64.7" cy="475.4" r="2.75" fill="url(#ball)"/>
<circle cx="63.1" cy="482.2" r="2.75" fill="url(#ball)"/>
<circle cx="58.4" cy="485.9" r="2.75" fill="url(#ball)"/>
<circle cx="55.2" cy="492.7" r="2.75" fill="url(#ball)"/>
<circle cx="54.6" cy="501.5" r="2.75" fill="url(#ball)"/>
<circle cx="59.8" cy="501.5" r="2.75" fill="url(#ball)"/>
<circle cx="68" cy="503" r="2.75" fill="url(#ball)"/>
<circle cx="74.4" cy="480.4" r="2.75" fill="url(#ball)"/>
<circle cx="73.3" cy="482.8" r="2.75" fill="url(#ball)"/>
<circle cx="84.9" cy="480.4" r="2.75" fill="url(#ball)"/>
<circle cx="66.6" cy="491" r="2.75" fill="url(#ball)"/>
<circle cx="71.5" cy="490.4" r="2.75" fill="url(#ball)"/>
<circle cx="77.4" cy="489.8" r="2.75" fill="url(#ball)"/>
<circle cx="79.7" cy="487.1" r="2.75" fill="url(#ball)"/>
<circle cx="82.6" cy="491" r="2.75" fill="url(#ball)"/>
<circle cx="88.5" cy="487.4" r="2.75" fill="url(#ball)"/>
<circle cx="87.9" cy="491.5" r="2.75" fill="url(#ball)"/>
<circle cx="91.4" cy="484" r="2.75" fill="url(#ball)"/>
<circle cx="94.3" cy="486.3" r="2.75" fill="url(#ball)"/>
<circle cx="96" cy="489.8" r="2.75" fill="url(#ball)"/>
<circle cx="97.8" cy="491.5" r="2.75" fill="url(#ball)"/>
<circle cx="101.3" cy="488" r="2.75" fill="url(#ball)"/>
<circle cx="104.8" cy="485.1" r="2.75" fill="url(#ball)"/>
<circle cx="106" cy="489.8" r="2.75" fill="url(#ball)"/>
<circle cx="108.9" cy="495" r="2.75" fill="url(#ball)"/>
<circle cx="110.1" cy="488.6" r="2.75" fill="url(#ball)"/>
<circle cx="112.4" cy="491" r="2.75" fill="url(#ball)"/>
<circle cx="115.9" cy="496.2" r="2.75" fill="url(#ball)"/>
<circle cx="117.6" cy="492.1" r="2.75" fill="url(#ball)"/>
<circle cx="122.9" cy="495" r="2.75" fill="url(#ball)"/>
<circle cx="125.2" cy="492.1" r="2.75" fill="url(#ball)"/>
<circle cx="128.7" cy="492.7" r="2.75" fill="url(#ball)"/>
<circle cx="131.7" cy="495" r="2.75" fill="url(#ball)"/>
<circle cx="131.8" cy="494.2" r="2.75" fill="url(#ball)"/>
<circle cx="136.4" cy="492.4" r="2.75" fill="url(#ball)"/>
<circle cx="141.1" cy="497.1" r="2.75" fill="url(#ball)"/>
<circle cx="144" cy="494.8" r="2.75" fill="url(#ball)"/>
<circle cx="149.3" cy="491.9" r="2.75" fill="url(#ball)"/>
<circle cx="153.4" cy="500" r="2.75" fill="url(#ball)"/>
<circle cx="157.4" cy="496.5" r="2.75" fill="url(#ball)"/>
<circle cx="163.3" cy="490.1" r="2.75" fill="url(#ball)"/>
<circle cx="167.4" cy="494.2" r="2.75" fill="url(#ball)"/>
<circle cx="170.3" cy="498.3" r="2.75" fill="url(#ball)"/>
<circle cx="174.4" cy="493.6" r="2.75" fill="url(#ball)"/>
<circle cx="178.5" cy="500.6" r="2.75" fill="url(#ball)"/>
<circle cx="182" cy="493.6" r="2.75" fill="url(#ball)"/>
<circle cx="184.9" cy="498.3" r="2.75" fill="url(#ball)"/>
<circle cx="188.4" cy="494.8" r="2.75" fill="url(#ball)"/>
<circle cx="193.6" cy="486" r="2.75" fill="url(#ball)"/>
<circle cx="195.4" cy="489.5" r="2.75" fill="url(#ball)"/>
<circle cx="200.1" cy="490.1" r="2.75" fill="url(#ball)"/>
<circle cx="198.3" cy="499.5" r="2.75" fill="url(#ball)"/>
<circle cx="203" cy="494.2" r="2.75" fill="url(#ball)"/>
<circle cx="207.7" cy="491.3" r="2.75" fill="url(#ball)"/>
<circle cx="200.6" cy="491" r="2.75" fill="url(#ball)"/>
<circle cx="201.8" cy="497.4" r="2.75" fill="url(#ball)"/>
<circle cx="205.3" cy="493.3" r="2.75" fill="url(#ball)"/>
<circle cx="208.2" cy="491" r="2.75" fill="url(#ball)"/>
<circle cx="211.1" cy="492.7" r="2.75" fill="url(#ball)"/>
<circle cx="207" cy="495" r="2.75" fill="url(#ball)"/>
<circle cx="215.2" cy="489.8" r="2.75" fill="url(#ball)"/>
<circle cx="216.9" cy="488" r="2.75" fill="url(#ball)"/>
<circle cx="213.4" cy="500.9" r="2.75" fill="url(#ball)"/>
<circle cx="218.7" cy="498" r="2.75" fill="url(#ball)"/>
<circle cx="221.6" cy="500.3" r="2.75" fill="url(#ball)"/>
<circle cx="223.4" cy="499.7" r="2.75" fill="url(#ball)"/>
<circle cx="225.1" cy="493.9" r="2.75" fill="url(#ball)"/>
<circle cx="228.6" cy="493.9" r="2.75" fill="url(#ball)"/>
<circle cx="231.5" cy="497.4" r="2.75" fill="url(#ball)"/>
<circle cx="228.6" cy="504.4" r="2.75" fill="url(#ball)"/>
<circle cx="233.3" cy="489.2" r="2.75" fill="url(#ball)"/>
<circle cx="235.6" cy="486.3" r="2.75" fill="url(#ball)"/>
<circle cx="238" cy="483.4" r="2.75" fill="url(#ball)"/>
<circle cx="240.3" cy="491.5" r="2.75" fill="url(#ball)"/>
<circle cx="243.8" cy="491.5" r="2.75" fill="url(#ball)"/>
<circle cx="246.7" cy="480.4" r="2.75" fill="url(#ball)"/>
<circle cx="245" cy="500.9" r="2.75" fill="url(#ball)"/>
<circle cx="247.9" cy="502" r="2.75" fill="url(#ball)"/>
<circle cx="250.2" cy="493.3" r="2.75" fill="url(#ball)"/>
<circle cx="253.7" cy="493.9" r="2.75" fill="url(#ball)"/>
<circle cx="257.2" cy="494.5" r="2.75" fill="url(#ball)"/>
<circle cx="251.4" cy="506.1" r="2.75" fill="url(#ball)"/>
<circle cx="254.9" cy="503.2" r="2.75" fill="url(#ball)"/>
<circle cx="258.4" cy="503.8" r="2.75" fill="url(#ball)"/>
<circle cx="261.9" cy="506.1" r="2.75" fill="url(#ball)"/>
<circle cx="265.4" cy="496.2" r="2.75" fill="url(#ball)"/>
<circle cx="267.2" cy="503.8" r="2.75" fill="url(#ball)"/>
<circle cx="268.9" cy="509" r="2.75" fill="url(#ball)"/>
<circle cx="270.1" cy="490.4" r="2.75" fill="url(#ball)"/>
<circle cx="273.6" cy="487.4" r="2.75" fill="url(#ball)"/>
<circle cx="275.9" cy="492.1" r="2.75" fill="url(#ball)"/>
<circle cx="275.3" cy="499.7" r="2.75" fill="url(#ball)"/>
<circle cx="131.75" cy="494.25" r="2.75" fill="url(#ball)"/>
<circle cx="134.1" cy="492.6" r="2.75" fill="url(#ball)"/>
<circle cx="138.75" cy="495.05" r="2.75" fill="url(#ball)"/>
<circle cx="142.55" cy="495.09" r="2.75" fill="url(#ball)"/>
<circle cx="146.65" cy="493.42" r="2.75" fill="url(#ball)"/>
<circle cx="151.35" cy="495.68" r="2.75" fill="url(#ball)"/>
<circle cx="155.4" cy="497.37" r="2.75" fill="url(#ball)"/>
<circle cx="160.35" cy="493.31" r="2.75" fill="url(#ball)"/>
<circle cx="165.35" cy="491.22" r="2.75" fill="url(#ball)"/>
<circle cx="168.85" cy="496.12" r="2.75" fill="url(#ball)"/>
<circle cx="172.35" cy="495.09" r="2.75" fill="url(#ball)"/>
<circle cx="176.45" cy="496.28" r="2.75" fill="url(#ball)"/>
<circle cx="180.25" cy="496.95" r="2.75" fill="url(#ball)"/>
<circle cx="183.45" cy="496.6" r="2.75" fill="url(#ball)"/>
<circle cx="186.65" cy="495.8" r="2.75" fill="url(#ball)"/>
<circle cx="191" cy="489.85" r="2.75" fill="url(#ball)"/>
<circle cx="194.5" cy="488" r="2.75" fill="url(#ball)"/>
<circle cx="196.85" cy="495.4" r="2.75" fill="url(#ball)"/>
<circle cx="199.2" cy="494.95" r="2.75" fill="url(#ball)"/>
<circle cx="200.35" cy="490.34" r="2.75" fill="url(#ball)"/>
<circle cx="201.2" cy="495.15" r="2.75" fill="url(#ball)"/>
<circle cx="202.4" cy="494.89" r="2.75" fill="url(#ball)"/>
<circle cx="204.15" cy="494.47" r="2.75" fill="url(#ball)"/>
<circle cx="206.15" cy="493.73" r="2.75" fill="url(#ball)"/>
<circle cx="207.35" cy="492.44" r="2.75" fill="url(#ball)"/>
</g>
<text x="0" y="0" font-size="21.5" font-weight="bold" font-family='"Liberation Sans", sans-serif' transform="translate(336.4 220.4) scale(0.9 1)">f</text>
<text x="0" y="0" font-size="21.5" font-weight="bold" font-family='"Liberation Sans", sans-serif' transform="translate(335.5 413.6) scale(0.9 1)">g</text>
<polyline points="386,407.43 387.76,404.93 389.58,407.79 391.16,407.81 392.47,408.05 394.39,406.6 395.72,405.45 397.48,404.54 399.43,407.59 400.99,404.31 403.02,406.93 404.35,405.21 406.03,407.87 407.51,405.11 409.2,404.86 410.76,407.09 412.83,405.45 414.16,405.55 415.9,404.71 417.86,407.22 419.41,407.8 421.62,407.18 423.58,404.32 425.12,405.32 426.46,404.93 428.37,405.13 430.15,407.9 431.57,404.58 433.04,408.01 435.33,404.9 436.7,404.36 438.72,404.57 440.3,404.73 441.8,404.52 443.36,406.89 444.92,405.73 446.57,406.78 448.8,404.82 450.69,405.77 452.93,404.36 454.88,407.69 457.22,407.41 459.45,407.65 461.7,404.78 463.9,407.78 465.78,405.24 467.69,404.85 469.9,405.23 471.79,407.85 473.86,407.49 475.37,407.34 477.62,405.8 479.62,405.56 481.59,404.46 483.57,405.17 485.82,405.24 487.42,405.07 489.59,404.38 491.04,407 492.74,405.07 494.91,407.27 496.2,405.76 498.08,407.78 499.49,405.78 501,405.75 502.75,404.82 505.04,406.88 506.49,407.3 507.95,407.11 509.77,404.67 511.88,406.71 513.93,407.27 516.17,407.44 518.29,405.12 519.77,407.82 521.8,407.95 524.12,407.78 526.36,405.29 528.1,407.75 529.39,405.72" stroke="#ff1010" stroke-width="1.1" fill="none" stroke-linejoin="round" />
<polyline points="386,407.58 387.41,407.15 389.55,407.49 391.52,407.25 393.76,404.58 395.76,405.2 397.04,404.43 398.4,404.38 400.12,405.34 401.56,405.74 403.7,407.22 405.47,405.77 407.78,404.21 409.43,399.16 410.94,400.18 412.74,398.83 414.56,394.32 416.66,395.27 418.67,392.53 420.62,393.72 422.18,393.96 424.47,393.19 425.94,392.7 427.49,389.5 428.76,388.56 431.09,388.52 433.21,389.78 435.03,388.45 437.32,390.97 439.52,388.26 441.53,390.78 443.07,389.13 445.28,392.03 447.6,390.71 449.9,393.81 452.13,392.26 453.79,395.31 455.82,393.12 458.06,396.97 459.43,394.94 461.43,397.72 463.27,395.96 464.97,398.87 466.33,396.42 468.3,399.25 470.09,398.03 471.71,398.14 472.98,398.47 474.71,397.86 476.72,401.14 478.89,399.4 481.05,402.01 482.74,402.46 484.6,400.44 486.21,402.53 487.61,403.02 488.92,402.83 490.83,400.6 492.44,401.19 494.35,401.81 495.9,404 497.59,402.65 499.12,404.69 501.29,402.2 503.34,404.61 505.5,405.91 507.09,403.68 509.12,403.81 510.72,405.9 512.72,403.7 514.69,406.06 516.45,404.09 518.27,406.02 520.06,403.94 522.06,406.54 524.13,405.15 525.51,405.38 527.04,407.41 529.34,407.7" stroke="#000" stroke-width="1.1" fill="none" stroke-linejoin="round" />
<polyline points="535,404.81 536.94,404.06 538.27,403.38 539.6,401.75 541.3,401.78 543.26,400.33 545.09,402.28 547.03,399.45 548.56,400.9 549.79,398.31 551.58,400.34 553.35,398.14 554.97,398.44 556.47,398.15 557.81,396.34 559.56,395.22 561.58,394.66 563.5,394.18 565.45,395.1 567.39,390.59 569.45,389.32 571.16,384.47 572.98,383.71 574.75,379.26 576.49,373.68 578.03,367.07 580.11,355.31 581.8,347.44 583.73,334.2 585.78,318.65 587.18,305.32 589.01,288.62 590.38,287.46 591.77,277.75 593.28,255.62 594.4,249.43 596.05,240.56 597.3,239.62 598.63,240.66 599.88,232.92 601.95,235.84 603.84,245.62 605.08,257.7 606.34,259.75 608.23,271.29 610.25,286.18 611.92,308.29 613.15,311.96 614.78,315.01 615.99,321.35 617.21,329.72 619.11,335.24 620.91,339.59 622.33,345.86 624.2,353.73 625.57,357.86 627.51,366.53 629.36,367.14 631.35,371.9 632.92,374.27 634.83,378.85 636.25,379.94 638.17,382.16 639.7,384.99 640.96,385.54 642.56,386.44 644.26,386.82 645.81,388.52 646.98,391.71 648.81,393.49 650.72,393.95 652.48,392.79 654.29,394.91 656,394.51 657.48,396.8 659,396.32 660.45,398.7 661.93,398.71 663.83,400.16 665.34,398.23 666.67,399.47 668.72,402.06 670.03,401.53 671.28,402.33 672.55,401.01 673.89,401.66 675.69,404.67 676.96,404.72 678.58,404.93" stroke="#000" stroke-width="1.1" fill="none" stroke-linejoin="round" />
<polyline points="535,403.46 537.02,403.33 538.77,404.51 540.64,403.26 542.1,403.6 543.37,401.43 545.11,401.33 546.43,400.45 547.97,402.02 549.2,399.85 550.41,401.2 551.96,400.7 553.18,399.65 554.33,398.32 555.54,399.2 557.1,396.89 558.31,397.46 560.33,396.71 562,394.52 563.52,394.08 564.9,395.08 566.47,393.3 567.89,392.06 569.9,388.33 571.17,384.23 572.54,382.87 573.94,379.96 575.63,372.66 577.56,363.25 579.2,354.95 580.91,350.17 582.36,345.72 584.14,333.27 585.78,324.68 587.26,316.46 588.52,300.74 589.85,295.44 591.87,280.98 593.38,259.18 595.33,252.95 596.97,248.42 599.03,239.83 600.21,242.2 601.7,243.93 603.57,252.29 605.62,268.38 606.74,279.92 608.76,284.81 610.3,293.3 611.56,305.92 613.6,313.73 615.59,321.21 617.47,332.17 618.99,337.77 620.57,339.42 621.9,351.72 623.26,353.87 624.41,358.69 626.27,364.24 627.99,365.41 629.77,370.69 631.62,374.02 633.04,374.21 634.98,379.08 636.25,382.61 637.98,381.73 639.86,384.15 641.11,385.4 642.62,388.71 644.07,388.12 645.98,390.68 647.39,390.89 649.27,391.69 650.77,393.64 652.31,395.2 654.22,394.91 655.53,396.88 657.16,397.93 659.08,396.16 660.74,399.15 662.31,399.29 664.07,399.46 665.52,401.54 667.38,400.86 668.52,400.76 669.74,401.14 671.74,403.34 673.26,402.04 675.3,404.83 677.32,403.35 678.68,405.44" stroke="#ff1010" stroke-width="1.1" fill="none" stroke-linejoin="round" />
<rect x="410.5" y="229.1" width="158.2" height="126" fill="#fff" stroke="#262626" stroke-width="1.15"/>
<polyline points="411,332.01 411.9,339.36 412.8,338.59 413.7,336.41 414.6,332.72 415.5,340.8 416.4,341.01 417.3,336.87 418.2,336.77 419.1,333 420,329.74 420.9,334.89 421.8,337.9 422.7,330.67 423.6,340.81 424.5,332.95 425.4,332.96 426.3,330.29 427.2,343.67 428.1,340.04 429,341.95 429.9,338.32 430.8,330.18 431.7,334.31 432.6,336.67 433.5,331.32 434.4,343.03 435.3,334.86 436.2,331.87 437.1,341.15 438,331.45 438.9,342.69 439.8,336.04 440.7,337.43 441.6,334.5 442.5,336.49 443.4,332.32 444.3,330.22 445.2,341.82 446.1,332.99 447,340.62 447.9,332.62 448.8,343.26 449.7,342.22 450.6,340.27 451.5,340.38 452.4,337.83 453.3,339.92 454.2,331.41 455.1,336.37 456,341.28 456.9,332.52 457.8,342.62 458.7,342.13 459.6,335.43 460.5,334.81 461.4,336.02 462.3,335.1 463.2,343.63 464.1,335.11 465,330.08 465.9,331.01 466.8,339.75 467.7,296.69 468.6,285.33 469.5,282.25 470.4,280.17 471.3,280.39 472.2,268.26 473.1,271.63 474,267.55 474.9,265.54 475.8,254.97 476.7,251.86 477.6,252.13 478.5,259.43 479.4,247.3 480.3,249.62 481.2,243.11 482.1,238.48 483,237.1 483.9,249.54 484.8,249.09 485.7,242.89 486.6,249.21 487.5,250.58 488.4,256.23 489.3,259.44 490.2,252.54 491.1,265.15 492,267.57 492.9,264.3 493.8,272.4 494.7,268.92 495.6,270.16 496.5,271.17 497.4,285.01 498.3,275.86 499.2,276.94 500.1,292.03 501,293.97 501.9,291.39 502.8,299.66 503.7,288.44 504.6,293.95 505.5,296.38 506.4,300.34 507.3,297.75 508.2,297.55 509.1,303.51 510,314.34 510.9,316.94 511.8,313.97 512.7,310.4 513.6,307.66 514.5,320.81 515.4,314.5 516.3,318.93 517.2,307.92 518.1,311.88 519,323.29 519.9,323.26 520.8,325.49 521.7,321.47 522.6,319.17 523.5,322.46 524.4,327.62 525.3,318.99 526.2,323.38 527.1,319.49 528,328.35 528.9,315.92 529.8,327.83 530.7,332.82 531.6,317.4 532.5,327.48 533.4,328.7 534.3,332.59 535.2,328.39 536.1,323.16 537,326 537.9,335.71 538.8,335.11 539.7,322.28 540.6,321.91 541.5,322.18 542.4,321.28 543.3,328.72 544.2,323.78 545.1,336.39 546,333.03 546.9,324.29 547.8,331.54 548.7,328.13 549.6,331.25 550.5,326.82 551.4,326.14 552.3,326.66 553.2,330.18 554.1,336.04 555,333.54 555.9,325.19 556.8,336.7 557.7,339.67 558.6,338.18 559.5,338.67 560.4,325.5 561.3,333.31 562.2,326.57 563.1,338.53 564,328.58 564.9,337.75 565.8,330.01 566.7,337.61 567.6,331.14" stroke="#555" stroke-width="0.75" fill="none" stroke-linejoin="round" />
<polyline points="411,330.29 411.9,335.14 412.8,334.03 413.7,342.31 414.6,333.83 415.5,336.74 416.4,337.39 417.3,342.98 418.2,331.08 419.1,338.12 420,336.81 420.9,339.98 421.8,343.24 422.7,334.04 423.6,339.49 424.5,337.06 425.4,337.55 426.3,330.59 427.2,341.11 428.1,343.38 429,334.67 429.9,334.15 430.8,343.61 431.7,331.21 432.6,330.77 433.5,330.73 434.4,341.1 435.3,340.34 436.2,335.97 437.1,338.4 438,329.98 438.9,338.73 439.8,335.9 440.7,336.94 441.6,335.15 442.5,335.32 443.4,332.86 444.3,330.38 445.2,335.77 446.1,333.16 447,339.56 447.9,341.14 448.8,339.83 449.7,336.08 450.6,333.01 451.5,335.1 452.4,336.51 453.3,338.55 454.2,343.18 455.1,330.9 456,336.42 456.9,336.59 457.8,339.74 458.7,342.17 459.6,340.61 460.5,339.24 461.4,341.87 462.3,340.06 463.2,343.88 464.1,340.68 465,340.36 465.9,331.61 466.8,345.03 467.7,334.42 468.6,338.99 469.5,343.2 470.4,345.97 471.3,346.48 472.2,326.83 473.1,332.95 474,332.93 474.9,334.52 475.8,329.61 476.7,337.76 477.6,328.29 478.5,332.75 479.4,345.57 480.3,341.55 481.2,335.95 482.1,328.86 483,345.82 483.9,340.78 484.8,330.82 485.7,333.41 486.6,339.53 487.5,340.33 488.4,331.92 489.3,345.72 490.2,333.14 491.1,331.78 492,343.61 492.9,329.77 493.8,340.32 494.7,330.7 495.6,338.66 496.5,332.25 497.4,334.28 498.3,345.51 499.2,336.04 500.1,335.44 501,339.04 501.9,332.31 502.8,330.19 503.7,334.39 504.6,332.15 505.5,330.47 506.4,345.92 507.3,327.39 508.2,342.91 509.1,345.39 510,340.79 510.9,327.08 511.8,336.72 512.7,327.49 513.6,338.86 514.5,340.71 515.4,331.5 516.3,326.85 517.2,337.59 518.1,328.59 519,332.88 519.9,335.78 520.8,344.59 521.7,334.1 522.6,329.4 523.5,342.53 524.4,343.15 525.3,337.29 526.2,327.68 527.1,330.45 528,334.76 528.9,337.74 529.8,331.2 530.7,342.75 531.6,343.57 532.5,345.2 533.4,344.37 534.3,327.05 535.2,338.34 536.1,328.31 537,344.69 537.9,341.64 538.8,341.89 539.7,330.47 540.6,327.89 541.5,343 542.4,338.83 543.3,339.11 544.2,336.12 545.1,342.7 546,333.46 546.9,332.09 547.8,333.76 548.7,332.66 549.6,339.24 550.5,344.5 551.4,328.12 552.3,328.05 553.2,336.94 554.1,340.26 555,330.5 555.9,332.1 556.8,327.88 557.7,327.44 558.6,336.6 559.5,340.32 560.4,339.76 561.3,329.86 562.2,328.78 563.1,345.32 564,337.47 564.9,334.87 565.8,340.52 566.7,341.26 567.6,337.19" stroke="#ff2020" stroke-width="0.7" fill="none" stroke-linejoin="round" />
<line x1="410.5" y1="336.7" x2="568.7" y2="336.7" stroke="#ff0000" stroke-width="2.7" />
<polyline points="410.5,333.65 411,333.61 411.5,333.57 412,333.52 412.5,333.48 413,333.44 413.5,333.4 414,333.35 414.5,333.31 415,333.26 415.5,333.21 416,333.16 416.5,333.11 417,333.06 417.5,333.01 418,332.96 418.5,332.9 419,332.85 419.5,332.79 420,332.74 420.5,332.68 421,332.62 421.5,332.56 422,332.49 422.5,332.43 423,332.36 423.5,332.3 424,332.23 424.5,332.16 425,332.08 425.5,332.01 426,331.93 426.5,331.86 427,331.78 427.5,331.69 428,331.61 428.5,331.52 429,331.43 429.5,331.34 430,331.25 430.5,331.15 431,331.05 431.5,330.95 432,330.85 432.5,330.74 433,330.63 433.5,330.51 434,330.39 434.5,330.27 435,330.14 435.5,330.01 436,329.87 436.5,329.73 437,329.59 437.5,329.44 438,329.28 438.5,329.11 439,328.95 439.5,328.77 440,328.59 440.5,328.4 441,328.2 441.5,327.99 442,327.78 442.5,327.55 443,327.32 443.5,327.07 444,326.82 444.5,326.55 445,326.27 445.5,325.98 446,325.68 446.5,325.36 447,325.03 447.5,324.68 448,324.31 448.5,323.93 449,323.53 449.5,323.12 450,322.68 450.5,322.22 451,321.75 451.5,321.25 452,320.73 452.5,320.18 453,319.61 453.5,319.01 454,318.39 454.5,317.74 455,317.06 455.5,316.35 456,315.62 456.5,314.85 457,314.05 457.5,313.22 458,312.35 458.5,311.45 459,310.52 459.5,309.55 460,308.54 460.5,307.5 461,306.42 461.5,305.3 462,304.14 462.5,302.95 463,301.72 463.5,300.45 464,299.14 464.5,297.79 465,296.41 465.5,294.99 466,293.53 466.5,292.04 467,290.51 467.5,288.95 468,287.35 468.5,285.73 469,284.08 469.5,282.4 470,280.69 470.5,278.97 471,277.22 471.5,275.46 472,273.69 472.5,271.92 473,270.14 473.5,268.36 474,266.59 474.5,264.84 475,263.11 475.5,261.4 476,259.73 476.5,258.1 477,256.52 477.5,255 478,253.55 478.5,252.17 479,250.88 479.5,249.68 480,248.58 480.5,247.59 481,246.71 481.5,245.96 482,245.33 482.5,244.84 483,244.49 483.5,244.27 484,244.2 484.5,244.27 485,244.49 485.5,244.84 486,245.33 486.5,245.96 487,246.71 487.5,247.59 488,248.58 488.5,249.68 489,250.88 489.5,252.17 490,253.55 490.5,255 491,256.52 491.5,258.1 492,259.73 492.5,261.4 493,263.11 493.5,264.84 494,266.59 494.5,268.36 495,270.14 495.5,271.92 496,273.69 496.5,275.46 497,277.22 497.5,278.97 498,280.69 498.5,282.4 499,284.08 499.5,285.73 500,287.35 500.5,288.95 501,290.51 501.5,292.04 502,293.53 502.5,294.99 503,296.41 503.5,297.79 504,299.14 504.5,300.45 505,301.72 505.5,302.95 506,304.14 506.5,305.3 507,306.42 507.5,307.5 508,308.54 508.5,309.55 509,310.52 509.5,311.45 510,312.35 510.5,313.22 511,314.05 511.5,314.85 512,315.62 512.5,316.35 513,317.06 513.5,317.74 514,318.39 514.5,319.01 515,319.61 515.5,320.18 516,320.73 516.5,321.25 517,321.75 517.5,322.22 518,322.68 518.5,323.12 519,323.53 519.5,323.93 520,324.31 520.5,324.68 521,325.03 521.5,325.36 522,325.68 522.5,325.98 523,326.27 523.5,326.55 524,326.82 524.5,327.07 525,327.32 525.5,327.55 526,327.78 526.5,327.99 527,328.2 527.5,328.4 528,328.59 528.5,328.77 529,328.95 529.5,329.11 530,329.28 530.5,329.44 531,329.59 531.5,329.73 532,329.87 532.5,330.01 533,330.14 533.5,330.27 534,330.39 534.5,330.51 535,330.63 535.5,330.74 536,330.85 536.5,330.95 537,331.05 537.5,331.15 538,331.25 538.5,331.34 539,331.43 539.5,331.52 540,331.61 540.5,331.69 541,331.78 541.5,331.86 542,331.93 542.5,332.01 543,332.08 543.5,332.16 544,332.23 544.5,332.3 545,332.36 545.5,332.43 546,332.49 546.5,332.56 547,332.62 547.5,332.68 548,332.74 548.5,332.79 549,332.85 549.5,332.9 550,332.96 550.5,333.01 551,333.06 551.5,333.11 552,333.16 552.5,333.21 553,333.26 553.5,333.31 554,333.35 554.5,333.4 555,333.44 555.5,333.48 556,333.52 556.5,333.57 557,333.61 557.5,333.65 558,333.69 558.5,333.72 559,333.76 559.5,333.8 560,333.83 560.5,333.87 561,333.91 561.5,333.94 562,333.97 562.5,334.01 563,334.04 563.5,334.07 564,334.1 564.5,334.13 565,334.16 565.5,334.19 566,334.22 566.5,334.25 567,334.28 567.5,334.31 568,334.33 568.5,334.36" stroke="#000" stroke-width="2.4" fill="none" stroke-linejoin="round" />
<rect x="410.5" y="229.1" width="158.2" height="126" fill="none" stroke="#262626" stroke-width="1.15"/>
<line x1="410.5" y1="257.2" x2="413" y2="257.2" stroke="#262626" stroke-width="1.15" />
<line x1="410.5" y1="286.2" x2="413" y2="286.2" stroke="#262626" stroke-width="1.15" />
<line x1="410.5" y1="315.1" x2="413" y2="315.1" stroke="#262626" stroke-width="1.15" />
<line x1="410.5" y1="344" x2="413" y2="344" stroke="#262626" stroke-width="1.15" />
<line x1="444.6" y1="355.1" x2="444.6" y2="352.1" stroke="#262626" stroke-width="1.15" />
<line x1="471.2" y1="355.1" x2="471.2" y2="353.1" stroke="#262626" stroke-width="1.15" />
<line x1="497.8" y1="355.1" x2="497.8" y2="352.1" stroke="#262626" stroke-width="1.15" />
<line x1="524.4" y1="355.1" x2="524.4" y2="353.1" stroke="#262626" stroke-width="1.15" />
<line x1="551" y1="355.1" x2="551" y2="352.1" stroke="#262626" stroke-width="1.15" />
<text x="444.8" y="371.6" font-size="12.2" text-anchor="middle" font-weight="normal" font-style="normal" fill="#000" font-family='"Liberation Sans", sans-serif' >480</text>
<text x="497.8" y="371.6" font-size="12.2" text-anchor="middle" font-weight="normal" font-style="normal" fill="#000" font-family='"Liberation Sans", sans-serif' >510</text>
<text x="550.5" y="371.6" font-size="12.2" text-anchor="middle" font-weight="normal" font-style="normal" fill="#000" font-family='"Liberation Sans", sans-serif' >540</text>
<text x="423.3" y="257.7" font-size="14.5" text-anchor="start" font-weight="normal" font-style="normal" fill="#000" font-family='"Liberation Sans", sans-serif' >PbI<tspan font-size="10" dy="4.4">2</tspan></text>
<line x1="386" y1="218.6" x2="529.8" y2="218.6" stroke="#262626" stroke-width="1.15" />
<line x1="535.2" y1="218.6" x2="679" y2="218.6" stroke="#262626" stroke-width="1.15" />
<line x1="386" y1="418.5" x2="529.8" y2="418.5" stroke="#262626" stroke-width="1.15" />
<line x1="535.2" y1="418.5" x2="679" y2="418.5" stroke="#262626" stroke-width="1.15" />
<line x1="386" y1="518.5" x2="529.8" y2="518.5" stroke="#262626" stroke-width="1.15" />
<line x1="535.2" y1="518.5" x2="679" y2="518.5" stroke="#262626" stroke-width="1.15" />
<line x1="386" y1="218.6" x2="386" y2="518.5" stroke="#262626" stroke-width="1.15" />
<line x1="679" y1="218.6" x2="679" y2="518.5" stroke="#262626" stroke-width="1.15" />
<line x1="527.3" y1="222.8" x2="532.6" y2="214.4" stroke="#111" stroke-width="1.3" />
<line x1="532.4" y1="222.8" x2="537.7" y2="214.4" stroke="#111" stroke-width="1.3" />
<line x1="527.3" y1="422.7" x2="532.6" y2="414.3" stroke="#111" stroke-width="1.3" />
<line x1="532.4" y1="422.7" x2="537.7" y2="414.3" stroke="#111" stroke-width="1.3" />
<line x1="527.3" y1="522.7" x2="532.6" y2="514.3" stroke="#111" stroke-width="1.3" />
<line x1="532.4" y1="522.7" x2="537.7" y2="514.3" stroke="#111" stroke-width="1.3" />
<line x1="386" y1="239.4" x2="390.2" y2="239.4" stroke="#262626" stroke-width="1.15" />
<line x1="386" y1="260.5" x2="388.5" y2="260.5" stroke="#262626" stroke-width="1.15" />
<line x1="386" y1="281.9" x2="390.2" y2="281.9" stroke="#262626" stroke-width="1.15" />
<line x1="386" y1="303.3" x2="388.5" y2="303.3" stroke="#262626" stroke-width="1.15" />
<line x1="386" y1="323.9" x2="390.2" y2="323.9" stroke="#262626" stroke-width="1.15" />
<line x1="386" y1="345.3" x2="388.5" y2="345.3" stroke="#262626" stroke-width="1.15" />
<line x1="386" y1="365.6" x2="390.2" y2="365.6" stroke="#262626" stroke-width="1.15" />
<line x1="386" y1="386.4" x2="388.5" y2="386.4" stroke="#262626" stroke-width="1.15" />
<line x1="386" y1="407.5" x2="390.2" y2="407.5" stroke="#262626" stroke-width="1.15" />
<line x1="400.5" y1="418.5" x2="400.5" y2="416.1" stroke="#262626" stroke-width="1.15" />
<line x1="400.5" y1="518.5" x2="400.5" y2="516.1" stroke="#262626" stroke-width="1.15" />
<line x1="429.1" y1="418.5" x2="429.1" y2="415.3" stroke="#262626" stroke-width="1.15" />
<line x1="429.1" y1="518.5" x2="429.1" y2="515.3" stroke="#262626" stroke-width="1.15" />
<line x1="457.7" y1="418.5" x2="457.7" y2="416.1" stroke="#262626" stroke-width="1.15" />
<line x1="457.7" y1="518.5" x2="457.7" y2="516.1" stroke="#262626" stroke-width="1.15" />
<line x1="486.3" y1="418.5" x2="486.3" y2="415.3" stroke="#262626" stroke-width="1.15" />
<line x1="486.3" y1="518.5" x2="486.3" y2="515.3" stroke="#262626" stroke-width="1.15" />
<line x1="514.9" y1="418.5" x2="514.9" y2="416.1" stroke="#262626" stroke-width="1.15" />
<line x1="514.9" y1="518.5" x2="514.9" y2="516.1" stroke="#262626" stroke-width="1.15" />
<line x1="555.05" y1="418.5" x2="555.05" y2="416.1" stroke="#262626" stroke-width="1.15" />
<line x1="555.05" y1="518.5" x2="555.05" y2="516.1" stroke="#262626" stroke-width="1.15" />
<line x1="583.7" y1="418.5" x2="583.7" y2="415.3" stroke="#262626" stroke-width="1.15" />
<line x1="583.7" y1="518.5" x2="583.7" y2="515.3" stroke="#262626" stroke-width="1.15" />
<line x1="612.35" y1="418.5" x2="612.35" y2="416.1" stroke="#262626" stroke-width="1.15" />
<line x1="612.35" y1="518.5" x2="612.35" y2="516.1" stroke="#262626" stroke-width="1.15" />
<line x1="641" y1="418.5" x2="641" y2="415.3" stroke="#262626" stroke-width="1.15" />
<line x1="641" y1="518.5" x2="641" y2="515.3" stroke="#262626" stroke-width="1.15" />
<line x1="669.65" y1="418.5" x2="669.65" y2="416.1" stroke="#262626" stroke-width="1.15" />
<line x1="669.65" y1="518.5" x2="669.65" y2="516.1" stroke="#262626" stroke-width="1.15" />
<line x1="386" y1="426" x2="389" y2="426" stroke="#262626" stroke-width="1.15" />
<line x1="386" y1="445.1" x2="389" y2="445.1" stroke="#262626" stroke-width="1.15" />
<line x1="386" y1="464.2" x2="389" y2="464.2" stroke="#262626" stroke-width="1.15" />
<line x1="386" y1="483.3" x2="389" y2="483.3" stroke="#262626" stroke-width="1.15" />
<line x1="386" y1="502.4" x2="389" y2="502.4" stroke="#262626" stroke-width="1.15" />
<line x1="617.6" y1="239.8" x2="639.7" y2="239.8" stroke="#000" stroke-width="1.5" />
<line x1="615" y1="261.4" x2="636.9" y2="261.4" stroke="#ff1010" stroke-width="1.5" />
<text x="645.4" y="243.4" font-size="13.5" text-anchor="start" font-weight="normal" font-style="italic" fill="#000" font-family='"Liberation Serif", serif' >σ−</text>
<text x="643.3" y="265.3" font-size="13.5" text-anchor="start" font-weight="normal" font-style="italic" fill="#ff1010" font-family='"Liberation Serif", serif' >σ+</text>
<text x="590.9" y="388.5" font-size="14.5" text-anchor="start" font-weight="normal" font-style="normal" fill="#000" font-family='"Liberation Sans", sans-serif' >WS<tspan font-size="10" dy="4.4">2</tspan></text>
<text x="377.1" y="318.4" font-size="14.5" text-anchor="middle" font-weight="normal" font-style="normal" fill="#000" font-family='"Liberation Sans", sans-serif' transform="rotate(-90 377.1 318.4)">PL intensity (a.u.)</text>
<text x="347.9" y="464.1" font-size="14.5" text-anchor="middle" font-weight="normal" font-style="italic" fill="#000" font-family='"Liberation Serif", serif' transform="rotate(-90 347.9 464.1)">ρ</text>
<text x="380" y="431.8" font-size="14.5" text-anchor="end" font-weight="normal" font-style="normal" fill="#000" font-family='"Liberation Sans", sans-serif' >1.0</text>
<text x="380" y="469.9" font-size="14.5" text-anchor="end" font-weight="normal" font-style="normal" fill="#000" font-family='"Liberation Sans", sans-serif' >0.5</text>
<text x="380" y="507.8" font-size="14.5" text-anchor="end" font-weight="normal" font-style="normal" fill="#000" font-family='"Liberation Sans", sans-serif' >0</text>
<text x="429.1" y="538.6" font-size="14.5" text-anchor="middle" font-weight="normal" font-style="normal" fill="#000" font-family='"Liberation Sans", sans-serif' >500</text>
<text x="486.3" y="538.6" font-size="14.5" text-anchor="middle" font-weight="normal" font-style="normal" fill="#000" font-family='"Liberation Sans", sans-serif' >520</text>
<text x="583.7" y="538.6" font-size="14.5" text-anchor="middle" font-weight="normal" font-style="normal" fill="#000" font-family='"Liberation Sans", sans-serif' >630</text>
<text x="641" y="538.6" font-size="14.5" text-anchor="middle" font-weight="normal" font-style="normal" fill="#000" font-family='"Liberation Sans", sans-serif' >660</text>
<text x="534.8" y="557.6" font-size="14.5" text-anchor="middle" font-weight="normal" font-style="normal" fill="#000" font-family='"Liberation Sans", sans-serif' >Wavelength (nm)</text>
<circle cx="393" cy="442.9" r="2.75" fill="url(#ball)"/>
<circle cx="388.6" cy="464.6" r="2.75" fill="url(#ball)"/>
<circle cx="385.9" cy="487.3" r="2.75" fill="url(#ball)"/>
<circle cx="390" cy="502.4" r="2.75" fill="url(#ball)"/>
<circle cx="394.8" cy="509.6" r="2.75" fill="url(#ball)"/>
<circle cx="399.6" cy="509.6" r="2.75" fill="url(#ball)"/>
<circle cx="404.2" cy="510.8" r="2.75" fill="url(#ball)"/>
<circle cx="397.4" cy="477" r="2.75" fill="url(#ball)"/>
<circle cx="401" cy="477" r="2.75" fill="url(#ball)"/>
<circle cx="406" cy="456.6" r="2.75" fill="url(#ball)"/>
<circle cx="407.2" cy="466" r="2.75" fill="url(#ball)"/>
<circle cx="409" cy="441.6" r="2.75" fill="url(#ball)"/>
<circle cx="412.6" cy="442" r="2.75" fill="url(#ball)"/>
<circle cx="410.8" cy="446.4" r="2.75" fill="url(#ball)"/>
<circle cx="413.8" cy="433.6" r="2.75" fill="url(#ball)"/>
<circle cx="417" cy="458.9" r="2.75" fill="url(#ball)"/>
<circle cx="415.6" cy="446.4" r="2.75" fill="url(#ball)"/>
<circle cx="418.4" cy="450" r="2.75" fill="url(#ball)"/>
<circle cx="420.6" cy="430.4" r="2.75" fill="url(#ball)"/>
<circle cx="422" cy="448.2" r="2.75" fill="url(#ball)"/>
<circle cx="425.5" cy="445.6" r="2.75" fill="url(#ball)"/>
<circle cx="426.8" cy="440.2" r="2.75" fill="url(#ball)"/>
<circle cx="428.6" cy="441.1" r="2.75" fill="url(#ball)"/>
<circle cx="429.4" cy="434.9" r="2.75" fill="url(#ball)"/>
<circle cx="432.1" cy="432.2" r="2.75" fill="url(#ball)"/>
<circle cx="432.6" cy="435.8" r="2.75" fill="url(#ball)"/>
<circle cx="435.7" cy="431.9" r="2.75" fill="url(#ball)"/>
<circle cx="438" cy="437.9" r="2.75" fill="url(#ball)"/>
<circle cx="436.2" cy="446.4" r="2.75" fill="url(#ball)"/>
<circle cx="439.8" cy="431.3" r="2.75" fill="url(#ball)"/>
<circle cx="441" cy="426" r="2.75" fill="url(#ball)"/>
<circle cx="443.7" cy="439" r="2.75" fill="url(#ball)"/>
<circle cx="446.3" cy="439" r="2.75" fill="url(#ball)"/>
<circle cx="442.8" cy="457.5" r="2.75" fill="url(#ball)"/>
<circle cx="449" cy="457.5" r="2.75" fill="url(#ball)"/>
<circle cx="447.2" cy="446.4" r="2.75" fill="url(#ball)"/>
<circle cx="450.8" cy="448.6" r="2.75" fill="url(#ball)"/>
<circle cx="454.3" cy="448.6" r="2.75" fill="url(#ball)"/>
<circle cx="457" cy="445.6" r="2.75" fill="url(#ball)"/>
<circle cx="458.8" cy="450.9" r="2.75" fill="url(#ball)"/>
<circle cx="460.6" cy="431.3" r="2.75" fill="url(#ball)"/>
<circle cx="462.3" cy="447.3" r="2.75" fill="url(#ball)"/>
<circle cx="464.1" cy="433.6" r="2.75" fill="url(#ball)"/>
<circle cx="464.1" cy="451.8" r="2.75" fill="url(#ball)"/>
<circle cx="466.8" cy="432.6" r="2.75" fill="url(#ball)"/>
<circle cx="468.5" cy="432.6" r="2.75" fill="url(#ball)"/>
<circle cx="469.8" cy="442.9" r="2.75" fill="url(#ball)"/>
<circle cx="461.8" cy="446.8" r="2.75" fill="url(#ball)"/>
<circle cx="465" cy="449.1" r="2.75" fill="url(#ball)"/>
<circle cx="463.2" cy="451.8" r="2.75" fill="url(#ball)"/>
<circle cx="482.8" cy="437.2" r="2.75" fill="url(#ball)"/>
<circle cx="481" cy="441.5" r="2.75" fill="url(#ball)"/>
<circle cx="489.3" cy="445" r="2.75" fill="url(#ball)"/>
<circle cx="484.5" cy="448.2" r="2.75" fill="url(#ball)"/>
<circle cx="472.8" cy="455.7" r="2.75" fill="url(#ball)"/>
<circle cx="476" cy="457.1" r="2.75" fill="url(#ball)"/>
<circle cx="471.6" cy="460.7" r="2.75" fill="url(#ball)"/>
<circle cx="477.8" cy="461.6" r="2.75" fill="url(#ball)"/>
<circle cx="503.6" cy="426" r="2.75" fill="url(#ball)"/>
<circle cx="521.3" cy="436.7" r="2.75" fill="url(#ball)"/>
<circle cx="523.1" cy="452.7" r="2.75" fill="url(#ball)"/>
<circle cx="492.9" cy="456.2" r="2.75" fill="url(#ball)"/>
<circle cx="497.3" cy="452.1" r="2.75" fill="url(#ball)"/>
<circle cx="501.8" cy="456.2" r="2.75" fill="url(#ball)"/>
<circle cx="505.3" cy="459.2" r="2.75" fill="url(#ball)"/>
<circle cx="510.1" cy="459.8" r="2.75" fill="url(#ball)"/>
<circle cx="495.6" cy="462.8" r="2.75" fill="url(#ball)"/>
<circle cx="498.8" cy="467.4" r="2.75" fill="url(#ball)"/>
<circle cx="508.4" cy="466" r="2.75" fill="url(#ball)"/>
<circle cx="487.6" cy="469.2" r="2.75" fill="url(#ball)"/>
<circle cx="524.4" cy="469.6" r="2.75" fill="url(#ball)"/>
<circle cx="479.6" cy="474" r="2.75" fill="url(#ball)"/>
<circle cx="474.6" cy="477" r="2.75" fill="url(#ball)"/>
<circle cx="516.5" cy="474.5" r="2.75" fill="url(#ball)"/>
<circle cx="517.8" cy="481.1" r="2.75" fill="url(#ball)"/>
<circle cx="485.8" cy="483.4" r="2.75" fill="url(#ball)"/>
<circle cx="500.5" cy="483.4" r="2.75" fill="url(#ball)"/>
<circle cx="513" cy="486.4" r="2.75" fill="url(#ball)"/>
<circle cx="514.8" cy="494.1" r="2.75" fill="url(#ball)"/>
<circle cx="519.6" cy="498.4" r="2.75" fill="url(#ball)"/>
<circle cx="511.6" cy="502.4" r="2.75" fill="url(#ball)"/>
<circle cx="527.6" cy="502.4" r="2.75" fill="url(#ball)"/>
<circle cx="528.4" cy="496.2" r="2.75" fill="url(#ball)"/>
<circle cx="536.4" cy="505.6" r="2.75" fill="url(#ball)"/>
<circle cx="537" cy="500.4" r="2.75" fill="url(#ball)"/>
<circle cx="538.8" cy="500.4" r="2.75" fill="url(#ball)"/>
<circle cx="537" cy="494.5" r="2.75" fill="url(#ball)"/>
<circle cx="539.9" cy="492.2" r="2.75" fill="url(#ball)"/>
<circle cx="542.8" cy="489.9" r="2.75" fill="url(#ball)"/>
<circle cx="541.7" cy="483.4" r="2.75" fill="url(#ball)"/>
<circle cx="544" cy="479.1" r="2.75" fill="url(#ball)"/>
<circle cx="547.5" cy="478.2" r="2.75" fill="url(#ball)"/>
<circle cx="546.4" cy="487.5" r="2.75" fill="url(#ball)"/>
<circle cx="545.2" cy="502.1" r="2.75" fill="url(#ball)"/>
<circle cx="548.1" cy="504.5" r="2.75" fill="url(#ball)"/>
<circle cx="549.3" cy="509.7" r="2.75" fill="url(#ball)"/>
<circle cx="551" cy="493.9" r="2.75" fill="url(#ball)"/>
<circle cx="553.9" cy="487.5" r="2.75" fill="url(#ball)"/>
<circle cx="556.9" cy="493.4" r="2.75" fill="url(#ball)"/>
<circle cx="552.8" cy="506.8" r="2.75" fill="url(#ball)"/>
<circle cx="555.7" cy="509.7" r="2.75" fill="url(#ball)"/>
<circle cx="555.1" cy="503.3" r="2.75" fill="url(#ball)"/>
<circle cx="559.8" cy="504.5" r="2.75" fill="url(#ball)"/>
<circle cx="562.7" cy="492.2" r="2.75" fill="url(#ball)"/>
<circle cx="565.6" cy="492.8" r="2.75" fill="url(#ball)"/>
<circle cx="563.3" cy="498" r="2.75" fill="url(#ball)"/>
<circle cx="561" cy="499.8" r="2.75" fill="url(#ball)"/>
<circle cx="564.5" cy="508.5" r="2.75" fill="url(#ball)"/>
<circle cx="567.4" cy="503.9" r="2.75" fill="url(#ball)"/>
<circle cx="569.7" cy="501.5" r="2.75" fill="url(#ball)"/>
<circle cx="570.9" cy="505.6" r="2.75" fill="url(#ball)"/>
<circle cx="572" cy="509.1" r="2.75" fill="url(#ball)"/>
<circle cx="574.4" cy="495.1" r="2.75" fill="url(#ball)"/>
<circle cx="576.7" cy="496.3" r="2.75" fill="url(#ball)"/>
<circle cx="575" cy="499.8" r="2.75" fill="url(#ball)"/>
<circle cx="577.9" cy="502.7" r="2.75" fill="url(#ball)"/>
<circle cx="581.4" cy="502.1" r="2.75" fill="url(#ball)"/>
<circle cx="583.7" cy="498.6" r="2.75" fill="url(#ball)"/>
<circle cx="587.2" cy="500.4" r="2.75" fill="url(#ball)"/>
<circle cx="590.7" cy="499.8" r="2.75" fill="url(#ball)"/>
<circle cx="594.2" cy="500.9" r="2.75" fill="url(#ball)"/>
<circle cx="597.7" cy="499.2" r="2.75" fill="url(#ball)"/>
<circle cx="602.4" cy="500.6" r="2.75" fill="url(#ball)"/>
<circle cx="607.1" cy="498" r="2.75" fill="url(#ball)"/>
<circle cx="607.3" cy="498.6" r="2.75" fill="url(#ball)"/>
<circle cx="611.4" cy="503.9" r="2.75" fill="url(#ball)"/>
<circle cx="615.5" cy="503.9" r="2.75" fill="url(#ball)"/>
<circle cx="619" cy="495.1" r="2.75" fill="url(#ball)"/>
<circle cx="622.5" cy="501" r="2.75" fill="url(#ball)"/>
<circle cx="624.9" cy="496.3" r="2.75" fill="url(#ball)"/>
<circle cx="625.4" cy="506.8" r="2.75" fill="url(#ball)"/>
<circle cx="629.5" cy="499.2" r="2.75" fill="url(#ball)"/>
<circle cx="635.4" cy="495.1" r="2.75" fill="url(#ball)"/>
<circle cx="634.2" cy="503.3" r="2.75" fill="url(#ball)"/>
<circle cx="640" cy="501" r="2.75" fill="url(#ball)"/>
<circle cx="641.8" cy="507.4" r="2.75" fill="url(#ball)"/>
<circle cx="642.4" cy="496.3" r="2.75" fill="url(#ball)"/>
<circle cx="645.9" cy="492.8" r="2.75" fill="url(#ball)"/>
<circle cx="644.7" cy="498.6" r="2.75" fill="url(#ball)"/>
<circle cx="648.2" cy="503.3" r="2.75" fill="url(#ball)"/>
<circle cx="649.4" cy="514.4" r="2.75" fill="url(#ball)"/>
<circle cx="652.9" cy="503.3" r="2.75" fill="url(#ball)"/>
<circle cx="654.6" cy="493.4" r="2.75" fill="url(#ball)"/>
<circle cx="655.2" cy="495.1" r="2.75" fill="url(#ball)"/>
<circle cx="659.9" cy="491.6" r="2.75" fill="url(#ball)"/>
<circle cx="657" cy="517.9" r="2.75" fill="url(#ball)"/>
<circle cx="658.1" cy="505" r="2.75" fill="url(#ball)"/>
<circle cx="658.7" cy="509.1" r="2.75" fill="url(#ball)"/>
<circle cx="661.1" cy="498.6" r="2.75" fill="url(#ball)"/>
<circle cx="663.4" cy="501.5" r="2.75" fill="url(#ball)"/>
<circle cx="662.2" cy="504.5" r="2.75" fill="url(#ball)"/>
<circle cx="665.1" cy="488.1" r="2.75" fill="url(#ball)"/>
<circle cx="669.2" cy="491.6" r="2.75" fill="url(#ball)"/>
<circle cx="666.9" cy="497.4" r="2.75" fill="url(#ball)"/>
<circle cx="671.6" cy="495.7" r="2.75" fill="url(#ball)"/>
<circle cx="675.1" cy="496.9" r="2.75" fill="url(#ball)"/>
<circle cx="673.9" cy="501" r="2.75" fill="url(#ball)"/>
<circle cx="677.4" cy="493.4" r="2.75" fill="url(#ball)"/>
<circle cx="675.7" cy="504.5" r="2.75" fill="url(#ball)"/>
<circle cx="678.6" cy="506.2" r="2.75" fill="url(#ball)"/>
<circle cx="665.7" cy="513.8" r="2.75" fill="url(#ball)"/>
<circle cx="668.6" cy="516.1" r="2.75" fill="url(#ball)"/>
<circle cx="578" cy="501.11" r="2.75" fill="url(#ball)"/>
<circle cx="580.2" cy="501.71" r="2.75" fill="url(#ball)"/>
<circle cx="582.4" cy="501.98" r="2.75" fill="url(#ball)"/>
<circle cx="584.6" cy="502.71" r="2.75" fill="url(#ball)"/>
<circle cx="586.8" cy="501.7" r="2.75" fill="url(#ball)"/>
<circle cx="589" cy="502.61" r="2.75" fill="url(#ball)"/>
<circle cx="591.2" cy="498.15" r="2.75" fill="url(#ball)"/>
<circle cx="593.4" cy="500.33" r="2.75" fill="url(#ball)"/>
<circle cx="595.6" cy="502.72" r="2.75" fill="url(#ball)"/>
<circle cx="597.8" cy="501.24" r="2.75" fill="url(#ball)"/>
<circle cx="600" cy="502.5" r="2.75" fill="url(#ball)"/>
<circle cx="602.2" cy="498.57" r="2.75" fill="url(#ball)"/>
<circle cx="604.4" cy="500.35" r="2.75" fill="url(#ball)"/>
<circle cx="606.6" cy="499.23" r="2.75" fill="url(#ball)"/>
<circle cx="607" cy="500.35" r="2.75" fill="url(#ball)"/>
<circle cx="609.4" cy="500.59" r="2.75" fill="url(#ball)"/>
<circle cx="611.8" cy="496.1" r="2.75" fill="url(#ball)"/>
<circle cx="614.2" cy="497.73" r="2.75" fill="url(#ball)"/>
<circle cx="616.6" cy="498.24" r="2.75" fill="url(#ball)"/>
<circle cx="619" cy="503.33" r="2.75" fill="url(#ball)"/>
<circle cx="621.4" cy="502.13" r="2.75" fill="url(#ball)"/>
<circle cx="623.8" cy="497.28" r="2.75" fill="url(#ball)"/>
<circle cx="626.2" cy="502.38" r="2.75" fill="url(#ball)"/>
<circle cx="628.6" cy="497.11" r="2.75" fill="url(#ball)"/>
<circle cx="631" cy="500.94" r="2.75" fill="url(#ball)"/>
<circle cx="633.4" cy="497.01" r="2.75" fill="url(#ball)"/>
<circle cx="635.8" cy="496.01" r="2.75" fill="url(#ball)"/>
<circle cx="638.2" cy="502.97" r="2.75" fill="url(#ball)"/>
<circle cx="640.6" cy="497.68" r="2.75" fill="url(#ball)"/>
<circle cx="643" cy="497.72" r="2.75" fill="url(#ball)"/>
<circle cx="645.4" cy="503.86" r="2.75" fill="url(#ball)"/>
<circle cx="647.8" cy="502.98" r="2.75" fill="url(#ball)"/>
<circle cx="650.2" cy="498.31" r="2.75" fill="url(#ball)"/>
<circle cx="652.6" cy="503.69" r="2.75" fill="url(#ball)"/>
<circle cx="655" cy="500.31" r="2.75" fill="url(#ball)"/>
<circle cx="657.4" cy="501.42" r="2.75" fill="url(#ball)"/>
<circle cx="659.8" cy="497.64" r="2.75" fill="url(#ball)"/>
<circle cx="662.2" cy="503.53" r="2.75" fill="url(#ball)"/>
<circle cx="664.6" cy="501.53" r="2.75" fill="url(#ball)"/>
<circle cx="667" cy="503.73" r="2.75" fill="url(#ball)"/>
<circle cx="669.4" cy="503.15" r="2.75" fill="url(#ball)"/>
<circle cx="671.8" cy="498.39" r="2.75" fill="url(#ball)"/>
<circle cx="674.2" cy="498.89" r="2.75" fill="url(#ball)"/>
<circle cx="676.6" cy="497.33" r="2.75" fill="url(#ball)"/>
<circle cx="679" cy="497.17" r="2.75" fill="url(#ball)"/>
</svg>
</body></html>
